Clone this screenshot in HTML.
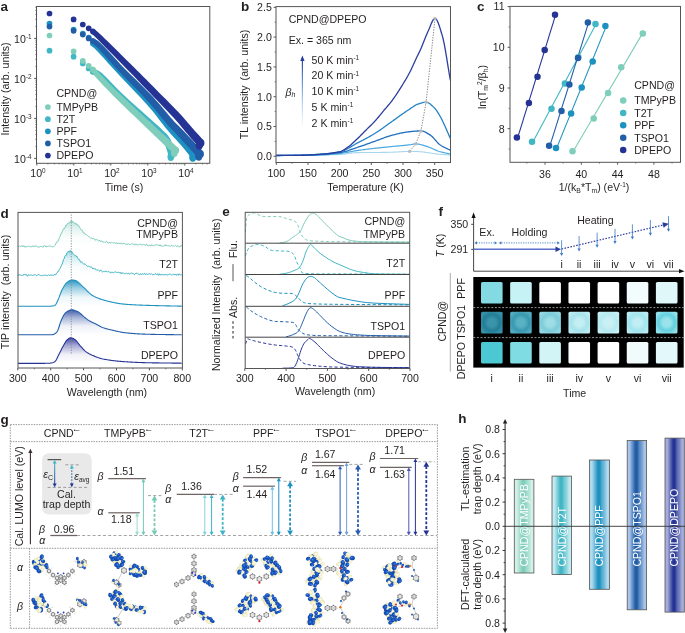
<!DOCTYPE html>
<html><head><meta charset="utf-8"><style>
html,body{margin:0;padding:0;background:#fff;}
svg{display:block;will-change:transform;font-family:"Liberation Sans", sans-serif;}
</style></head><body>
<svg width="685" height="633" viewBox="0 0 685 633">
<defs><linearGradient id="barr" x1="0" y1="1" x2="0" y2="0"><stop offset="0" stop-color="#fff"/><stop offset="0.35" stop-color="#b8d4f0"/><stop offset="0.65" stop-color="#6a98d8"/><stop offset="1" stop-color="#2b3d9e"/></linearGradient><linearGradient id="gd0" gradientUnits="userSpaceOnUse" x1="0" y1="221.6" x2="0" y2="246.4"><stop offset="0" stop-color="#7fcdbb" stop-opacity="0.5"/><stop offset="0.3" stop-color="#7fcdbb" stop-opacity="0.2"/><stop offset="0.65" stop-color="#7fcdbb" stop-opacity="0.04"/><stop offset="1" stop-color="#7fcdbb" stop-opacity="0"/></linearGradient><linearGradient id="gd1" gradientUnits="userSpaceOnUse" x1="0" y1="251.3" x2="0" y2="275"><stop offset="0" stop-color="#41b6c4" stop-opacity="0.5"/><stop offset="0.3" stop-color="#41b6c4" stop-opacity="0.2"/><stop offset="0.65" stop-color="#41b6c4" stop-opacity="0.04"/><stop offset="1" stop-color="#41b6c4" stop-opacity="0"/></linearGradient><linearGradient id="gd2" gradientUnits="userSpaceOnUse" x1="0" y1="279.9" x2="0" y2="306.3"><stop offset="0" stop-color="#1d91c0" stop-opacity="0.95"/><stop offset="0.3" stop-color="#1d91c0" stop-opacity="0.45"/><stop offset="0.65" stop-color="#1d91c0" stop-opacity="0.08"/><stop offset="1" stop-color="#1d91c0" stop-opacity="0"/></linearGradient><linearGradient id="gd3" gradientUnits="userSpaceOnUse" x1="0" y1="309.8" x2="0" y2="334.8"><stop offset="0" stop-color="#3553a8" stop-opacity="0.95"/><stop offset="0.3" stop-color="#3553a8" stop-opacity="0.45"/><stop offset="0.65" stop-color="#3553a8" stop-opacity="0.08"/><stop offset="1" stop-color="#3553a8" stop-opacity="0"/></linearGradient><linearGradient id="gd4" gradientUnits="userSpaceOnUse" x1="0" y1="337.8" x2="0" y2="363.2"><stop offset="0" stop-color="#3a3f9e" stop-opacity="0.95"/><stop offset="0.3" stop-color="#3a3f9e" stop-opacity="0.45"/><stop offset="0.65" stop-color="#3a3f9e" stop-opacity="0.08"/><stop offset="1" stop-color="#3a3f9e" stop-opacity="0"/></linearGradient><radialGradient id="gt0" cx="0.5" cy="0.5" r="0.7"><stop offset="0" stop-color="#3a95ab"/><stop offset="0.25" stop-color="#3a95ab"/><stop offset="0.55" stop-color="#237d96"/><stop offset="0.8" stop-color="#3590a8"/><stop offset="1" stop-color="#3590a8"/></radialGradient><radialGradient id="gt1" cx="0.5" cy="0.5" r="0.7"><stop offset="0" stop-color="#58b2c4"/><stop offset="0.25" stop-color="#58b2c4"/><stop offset="0.55" stop-color="#3898b0"/><stop offset="0.8" stop-color="#52abbf"/><stop offset="1" stop-color="#52abbf"/></radialGradient><radialGradient id="gt2" cx="0.5" cy="0.5" r="0.7"><stop offset="0" stop-color="#9edde6"/><stop offset="0.25" stop-color="#9edde6"/><stop offset="0.55" stop-color="#7dccd9"/><stop offset="0.8" stop-color="#92d6e1"/><stop offset="1" stop-color="#92d6e1"/></radialGradient><radialGradient id="gt3" cx="0.5" cy="0.5" r="0.7"><stop offset="0" stop-color="#c4eef3"/><stop offset="0.25" stop-color="#c4eef3"/><stop offset="0.55" stop-color="#a6e3eb"/><stop offset="0.8" stop-color="#bdebf1"/><stop offset="1" stop-color="#bdebf1"/></radialGradient><radialGradient id="gt4" cx="0.5" cy="0.5" r="0.7"><stop offset="0" stop-color="#cbf0f4"/><stop offset="0.25" stop-color="#cbf0f4"/><stop offset="0.55" stop-color="#b5eaf0"/><stop offset="0.8" stop-color="#c4eff3"/><stop offset="1" stop-color="#c4eff3"/></radialGradient><radialGradient id="gt5" cx="0.5" cy="0.5" r="0.7"><stop offset="0" stop-color="#c0eef3"/><stop offset="0.25" stop-color="#c0eef3"/><stop offset="0.55" stop-color="#a0e5ee"/><stop offset="0.8" stop-color="#b8ecf2"/><stop offset="1" stop-color="#b8ecf2"/></radialGradient><radialGradient id="gt6" cx="0.5" cy="0.5" r="0.7"><stop offset="0" stop-color="#9ae3eb"/><stop offset="0.25" stop-color="#9ae3eb"/><stop offset="0.55" stop-color="#62d0de"/><stop offset="0.8" stop-color="#90e0e9"/><stop offset="1" stop-color="#90e0e9"/></radialGradient><linearGradient id="ga" x1="0" y1="0" x2="0" y2="1"><stop offset="0" stop-color="#41b6c4"/><stop offset="1" stop-color="#253494"/></linearGradient><radialGradient id="gb" cx="0.5" cy="0.5" r="0.6" fx="0.35" fy="0.3"><stop offset="0" stop-color="#4a88e8"/><stop offset="0.45" stop-color="#1656c4"/><stop offset="1" stop-color="#0e3f98"/></radialGradient><radialGradient id="gy" cx="0.5" cy="0.5" r="0.6" fx="0.35" fy="0.3"><stop offset="0" stop-color="#fffff4"/><stop offset="0.5" stop-color="#f3f0cc"/><stop offset="1" stop-color="#dcd6a4"/></radialGradient><linearGradient id="gh0" x1="0" y1="0" x2="1" y2="0"><stop offset="0" stop-color="#d4f0e7"/><stop offset="0.12" stop-color="#d4f0e7"/><stop offset="0.42" stop-color="#7fcdbb"/><stop offset="0.52" stop-color="#7fcdbb"/><stop offset="0.62" stop-color="#7fcdbb" stop-opacity="0.75"/><stop offset="0.88" stop-color="#d4f0e7"/><stop offset="1" stop-color="#d4f0e7"/></linearGradient><linearGradient id="gh1" x1="0" y1="0" x2="1" y2="0"><stop offset="0" stop-color="#c2eaf0"/><stop offset="0.12" stop-color="#c2eaf0"/><stop offset="0.42" stop-color="#41b6c4"/><stop offset="0.52" stop-color="#41b6c4"/><stop offset="0.62" stop-color="#41b6c4" stop-opacity="0.75"/><stop offset="0.88" stop-color="#c2eaf0"/><stop offset="1" stop-color="#c2eaf0"/></linearGradient><linearGradient id="gh2" x1="0" y1="0" x2="1" y2="0"><stop offset="0" stop-color="#b0daf0"/><stop offset="0.12" stop-color="#b0daf0"/><stop offset="0.42" stop-color="#1d91c0"/><stop offset="0.52" stop-color="#1d91c0"/><stop offset="0.62" stop-color="#1d91c0" stop-opacity="0.75"/><stop offset="0.88" stop-color="#b0daf0"/><stop offset="1" stop-color="#b0daf0"/></linearGradient><linearGradient id="gh3" x1="0" y1="0" x2="1" y2="0"><stop offset="0" stop-color="#a8c4e8"/><stop offset="0.12" stop-color="#a8c4e8"/><stop offset="0.42" stop-color="#225ea8"/><stop offset="0.52" stop-color="#225ea8"/><stop offset="0.62" stop-color="#225ea8" stop-opacity="0.75"/><stop offset="0.88" stop-color="#a8c4e8"/><stop offset="1" stop-color="#a8c4e8"/></linearGradient><linearGradient id="gh4" x1="0" y1="0" x2="1" y2="0"><stop offset="0" stop-color="#a7aedc"/><stop offset="0.12" stop-color="#a7aedc"/><stop offset="0.42" stop-color="#253494"/><stop offset="0.52" stop-color="#253494"/><stop offset="0.62" stop-color="#253494" stop-opacity="0.75"/><stop offset="0.88" stop-color="#a7aedc"/><stop offset="1" stop-color="#a7aedc"/></linearGradient></defs>
<rect width="685" height="633" fill="#fff"/>
<text x="0.5" y="11" font-size="13.5" text-anchor="start" fill="#231f20" font-weight="bold">a</text>
<circle cx="49.5" cy="50.7" r="2.85" fill="#41b6c4" />
<circle cx="73.6" cy="56.7" r="2.85" fill="#41b6c4" />
<circle cx="82.8" cy="63.5" r="2.85" fill="#41b6c4" />
<circle cx="88.7" cy="68.5" r="2.85" fill="#41b6c4" />
<circle cx="49.5" cy="35.5" r="2.85" fill="#7fcdbb" />
<circle cx="73.6" cy="51.4" r="2.85" fill="#7fcdbb" />
<circle cx="82.8" cy="60.9" r="2.85" fill="#7fcdbb" />
<circle cx="88.7" cy="65.8" r="2.85" fill="#7fcdbb" />
<circle cx="49.5" cy="23.5" r="2.85" fill="#1d91c0" />
<circle cx="73.6" cy="29.5" r="2.85" fill="#1d91c0" />
<circle cx="82.8" cy="33.5" r="2.85" fill="#1d91c0" />
<circle cx="88.7" cy="37.5" r="2.85" fill="#1d91c0" />
<circle cx="49.5" cy="26.6" r="2.85" fill="#225ea8" />
<circle cx="73.6" cy="30.8" r="2.85" fill="#225ea8" />
<circle cx="82.8" cy="34.6" r="2.85" fill="#225ea8" />
<circle cx="88.7" cy="38.4" r="2.85" fill="#225ea8" />
<circle cx="49.5" cy="13.5" r="2.85" fill="#253494" />
<circle cx="73.6" cy="19.4" r="2.85" fill="#253494" />
<circle cx="82.8" cy="24.5" r="2.85" fill="#253494" />
<circle cx="88.7" cy="28.3" r="2.85" fill="#253494" />
<path d="M92.08,74.6 L92.81,74.79 L93.6,74.87 L94.11,74.89 L94.52,74.95 L95.04,75.12 L95.79,75.49 L96.83,76.17 L98.19,77.29 L99.92,78.91 L101.98,81 L104.29,83.44 L106.8,86.13 L109.47,89 L112.24,91.95 L115.07,94.9 L117.91,97.75 L120.87,100.62 L124.04,103.64 L127.34,106.73 L130.69,109.84 L133.99,112.9 L137.16,115.83 L140.12,118.56 L142.77,121.03 L145.17,123.26 L147.39,125.32 L149.44,127.21 L151.34,128.95 L153.09,130.57 L154.7,132.08 L156.18,133.51 L157.57,134.89 L158.84,136.15 L159.93,137.22 L160.82,138.1 L161.55,138.85 L162.15,139.54 L162.69,140.26 L163.25,141.11 L163.84,142.16 L164.49,143.51 L165.16,145.2 L165.85,147.12 L166.52,149.13 L167.14,151.1 L167.7,152.92 L168.18,154.49 L168.56,155.64 L175.44,153.36 L175.07,152.27 L174.6,150.77 L174.02,148.93 L173.36,146.89 L172.63,144.75 L171.85,142.63 L171.02,140.62 L170.16,138.84 L169.3,137.38 L168.46,136.13 L167.6,135.03 L166.7,134.03 L165.78,133.1 L164.79,132.16 L163.7,131.14 L162.43,129.91 L160.97,128.51 L159.4,127.05 L157.71,125.52 L155.91,123.91 L153.98,122.19 L151.89,120.34 L149.65,118.34 L147.23,116.17 L144.52,113.73 L141.51,111.04 L138.28,108.17 L134.94,105.18 L131.55,102.14 L128.22,99.13 L125.04,96.2 L122.09,93.45 L119.28,90.72 L116.46,87.88 L113.67,85.01 L110.97,82.19 L108.39,79.52 L105.99,77.06 L103.78,74.9 L101.81,73.11 L100.05,71.74 L98.47,70.74 L97.05,70.08 L95.78,69.7 L94.71,69.53 L93.98,69.48 L93.73,69.47 L93.52,69.4 Z" stroke="none" fill="#41b6c4" stroke-width="1" />
<circle cx="92.8" cy="72" r="2.8" fill="#41b6c4" />
<circle cx="172" cy="154.5" r="3.62" fill="#41b6c4" />
<ellipse cx="170.8" cy="156.7" rx="3.32" ry="4.22" fill="#41b6c4"/>
<path d="M90.72,71.12 L91.17,71.66 L91.68,72.3 L92.3,73.09 L93.06,74.04 L93.98,75.16 L95.09,76.46 L96.41,77.97 L97.99,79.69 L99.84,81.67 L101.96,83.93 L104.3,86.4 L106.84,89.05 L109.51,91.82 L112.27,94.66 L115.08,97.52 L117.9,100.35 L120.85,103.25 L124.02,106.32 L127.31,109.49 L130.66,112.69 L133.96,115.83 L137.13,118.85 L140.08,121.66 L142.74,124.2 L145.06,126.44 L147.13,128.44 L149.01,130.25 L150.76,131.93 L152.43,133.55 L154.09,135.15 L155.8,136.79 L157.62,138.53 L159.62,140.45 L161.79,142.52 L164.03,144.65 L166.24,146.76 L168.34,148.75 L170.22,150.54 L171.81,152.05 L173,153.18 L178,147.82 L176.79,146.71 L175.18,145.23 L173.26,143.47 L171.13,141.52 L168.89,139.45 L166.62,137.37 L164.42,135.34 L162.38,133.47 L160.54,131.76 L158.81,130.15 L157.13,128.59 L155.43,127 L153.66,125.35 L151.75,123.57 L149.64,121.61 L147.26,119.4 L144.56,116.89 L141.54,114.13 L138.32,111.16 L134.97,108.09 L131.58,104.96 L128.25,101.87 L125.06,98.87 L122.1,96.05 L119.26,93.31 L116.43,90.52 L113.64,87.75 L110.94,85.05 L108.38,82.46 L106.01,80.04 L103.87,77.83 L102.01,75.91 L100.46,74.27 L99.18,72.86 L98.11,71.65 L97.24,70.61 L96.52,69.72 L95.91,68.95 L95.37,68.27 L94.88,67.68 Z" stroke="none" fill="#7fcdbb" stroke-width="1" />
<circle cx="92.8" cy="69.4" r="2.8" fill="#7fcdbb" />
<circle cx="175.5" cy="150.5" r="3.67" fill="#7fcdbb" />
<ellipse cx="174.3" cy="152.7" rx="3.37" ry="4.27" fill="#7fcdbb"/>
<path d="M91.04,45.55 L91.56,45.99 L92.14,46.46 L92.77,46.96 L93.5,47.56 L94.35,48.32 L95.37,49.26 L96.58,50.45 L98.02,51.92 L99.66,53.67 L101.47,55.65 L103.45,57.85 L105.62,60.27 L107.99,62.9 L110.55,65.74 L113.33,68.79 L116.33,72.05 L119.71,75.65 L123.53,79.67 L127.63,83.97 L131.88,88.42 L136.13,92.91 L140.25,97.29 L144.09,101.45 L147.5,105.24 L150.51,108.74 L153.28,112.09 L155.86,115.33 L158.29,118.44 L160.6,121.44 L162.84,124.34 L165.05,127.14 L167.26,129.83 L169.43,132.38 L171.53,134.77 L173.55,137.01 L175.48,139.12 L177.32,141.11 L179.04,142.99 L180.66,144.78 L182.16,146.49 L183.58,148.17 L184.95,149.83 L186.24,151.43 L187.44,152.94 L188.53,154.33 L189.49,155.56 L190.32,156.61 L190.97,157.44 L197.03,152.56 L196.38,151.77 L195.56,150.75 L194.57,149.52 L193.44,148.12 L192.18,146.59 L190.82,144.96 L189.37,143.26 L187.84,141.51 L186.24,139.73 L184.54,137.91 L182.75,136.03 L180.89,134.07 L178.96,132.02 L176.95,129.87 L174.88,127.59 L172.74,125.17 L170.59,122.62 L168.4,119.93 L166.14,117.1 L163.78,114.12 L161.26,111 L158.57,107.73 L155.66,104.31 L152.5,100.76 L148.96,96.94 L145,92.79 L140.78,88.45 L136.43,84.01 L132.1,79.62 L127.94,75.4 L124.08,71.47 L120.67,67.95 L117.64,64.78 L114.84,61.8 L112.24,59.01 L109.84,56.42 L107.62,54.03 L105.58,51.84 L103.71,49.86 L101.98,48.08 L100.44,46.55 L99.1,45.28 L97.96,44.26 L96.99,43.44 L96.18,42.77 L95.52,42.24 L95,41.83 L94.56,41.45 Z" stroke="none" fill="#1d91c0" stroke-width="1" />
<circle cx="92.8" cy="43.5" r="2.8" fill="#1d91c0" />
<circle cx="194" cy="155" r="3.89" fill="#1d91c0" />
<ellipse cx="192.8" cy="157.2" rx="3.59" ry="4.49" fill="#1d91c0"/>
<path d="M91.31,43.15 L91.88,43.52 L92.5,43.86 L93.02,44.13 L93.59,44.45 L94.31,44.95 L95.26,45.71 L96.49,46.82 L98.05,48.35 L99.96,50.36 L102.21,52.82 L104.72,55.62 L107.46,58.69 L110.36,61.95 L113.39,65.32 L116.49,68.73 L119.62,72.09 L122.89,75.51 L126.4,79.11 L130.05,82.81 L133.76,86.56 L137.45,90.31 L141.04,93.98 L144.42,97.53 L147.53,100.88 L150.44,104.15 L153.27,107.46 L155.99,110.73 L158.6,113.92 L161.05,116.96 L163.33,119.79 L165.42,122.34 L167.28,124.56 L168.74,126.23 L169.75,127.36 L170.49,128.14 L171.09,128.72 L171.62,129.23 L172.29,129.88 L173.29,130.91 L174.82,132.54 L177.04,134.93 L179.86,137.99 L183.06,141.46 L186.42,145.11 L189.73,148.69 L192.75,151.98 L195.29,154.73 L197.11,156.71 L202.89,151.29 L201.04,149.35 L198.46,146.64 L195.38,143.4 L192.01,139.87 L188.59,136.28 L185.33,132.86 L182.46,129.84 L180.18,127.46 L178.57,125.8 L177.44,124.68 L176.65,123.94 L176.1,123.43 L175.64,123 L175.05,122.4 L174.13,121.41 L172.72,119.84 L170.89,117.74 L168.81,115.27 L166.5,112.49 L163.99,109.48 L161.31,106.29 L158.47,102.99 L155.52,99.64 L152.47,96.32 L149.22,92.93 L145.72,89.39 L142.04,85.74 L138.26,82.04 L134.49,78.35 L130.79,74.72 L127.26,71.23 L123.98,67.91 L120.85,64.65 L117.73,61.33 L114.67,58.03 L111.72,54.83 L108.93,51.79 L106.34,49.01 L104,46.54 L101.95,44.45 L100.22,42.8 L98.75,41.53 L97.52,40.59 L96.49,39.9 L95.64,39.4 L95.01,39.07 L94.63,38.88 L94.29,38.65 Z" stroke="none" fill="#225ea8" stroke-width="1" />
<circle cx="92.8" cy="40.9" r="2.8" fill="#225ea8" />
<circle cx="200" cy="154" r="3.96" fill="#225ea8" />
<ellipse cx="198.8" cy="156.2" rx="3.66" ry="4.56" fill="#225ea8"/>
<path d="M91.08,33.48 L91.54,33.86 L91.96,34.16 L92.28,34.38 L92.69,34.69 L93.37,35.26 L94.43,36.23 L95.96,37.7 L98.07,39.77 L100.96,42.67 L104.63,46.38 L108.83,50.65 L113.35,55.24 L117.96,59.94 L122.41,64.48 L126.49,68.66 L129.97,72.22 L132.79,75.12 L135.18,77.58 L137.25,79.73 L139.15,81.71 L141,83.65 L142.93,85.68 L145.09,87.93 L147.6,90.55 L150.53,93.6 L153.8,96.98 L157.28,100.58 L160.84,104.26 L164.36,107.92 L167.72,111.43 L170.78,114.67 L173.41,117.51 L175.61,119.94 L177.49,122.08 L179.11,124 L180.57,125.77 L181.93,127.44 L183.26,129.09 L184.63,130.76 L186.11,132.51 L187.69,134.35 L189.34,136.25 L191.01,138.17 L192.63,140.03 L194.16,141.77 L195.52,143.33 L196.67,144.64 L197.53,145.63 L203.47,140.37 L202.58,139.38 L201.41,138.09 L200.02,136.56 L198.48,134.84 L196.83,133.02 L195.14,131.14 L193.47,129.27 L191.89,127.49 L190.45,125.84 L189.11,124.25 L187.76,122.64 L186.35,120.96 L184.82,119.15 L183.09,117.17 L181.1,114.97 L178.79,112.49 L176.05,109.64 L172.9,106.42 L169.47,102.95 L165.87,99.34 L162.24,95.7 L158.7,92.16 L155.38,88.84 L152.4,85.85 L149.86,83.29 L147.67,81.07 L145.7,79.08 L143.82,77.17 L141.88,75.21 L139.76,73.08 L137.32,70.65 L134.43,67.78 L130.89,64.28 L126.74,60.17 L122.21,55.7 L117.52,51.08 L112.92,46.56 L108.63,42.35 L104.89,38.7 L101.93,35.83 L99.74,33.75 L98.11,32.24 L96.93,31.19 L96.08,30.49 L95.47,30.02 L95.05,29.73 L94.83,29.58 L94.52,29.32 Z" stroke="none" fill="#253494" stroke-width="1" />
<circle cx="92.8" cy="31.4" r="2.8" fill="#253494" />
<circle cx="200.5" cy="143" r="3.97" fill="#253494" />
<ellipse cx="199.3" cy="145.2" rx="3.67" ry="4.57" fill="#253494"/>
<rect x="36.5" y="6.5" width="173.3" height="156.8" fill="none" stroke="#555" stroke-width="1" />
<line x1="34.1" y1="38.4" x2="36.5" y2="38.4" stroke="#555" stroke-width="1" />
<text x="31.6" y="43" font-size="10.6" text-anchor="end" fill="#231f20" >10<tspan font-size="6.4" dy="-3.9">-1</tspan></text>
<line x1="35.3" y1="26.36" x2="36.5" y2="26.36" stroke="#555" stroke-width="0.7" />
<line x1="35.3" y1="19.32" x2="36.5" y2="19.32" stroke="#555" stroke-width="0.7" />
<line x1="35.3" y1="14.32" x2="36.5" y2="14.32" stroke="#555" stroke-width="0.7" />
<line x1="35.3" y1="10.44" x2="36.5" y2="10.44" stroke="#555" stroke-width="0.7" />
<line x1="35.3" y1="7.27" x2="36.5" y2="7.27" stroke="#555" stroke-width="0.7" />
<line x1="34.1" y1="78.4" x2="36.5" y2="78.4" stroke="#555" stroke-width="1" />
<text x="31.6" y="83" font-size="10.6" text-anchor="end" fill="#231f20" >10<tspan font-size="6.4" dy="-3.9">-2</tspan></text>
<line x1="35.3" y1="66.36" x2="36.5" y2="66.36" stroke="#555" stroke-width="0.7" />
<line x1="35.3" y1="59.32" x2="36.5" y2="59.32" stroke="#555" stroke-width="0.7" />
<line x1="35.3" y1="54.32" x2="36.5" y2="54.32" stroke="#555" stroke-width="0.7" />
<line x1="35.3" y1="50.44" x2="36.5" y2="50.44" stroke="#555" stroke-width="0.7" />
<line x1="35.3" y1="47.27" x2="36.5" y2="47.27" stroke="#555" stroke-width="0.7" />
<line x1="35.3" y1="44.6" x2="36.5" y2="44.6" stroke="#555" stroke-width="0.7" />
<line x1="35.3" y1="42.28" x2="36.5" y2="42.28" stroke="#555" stroke-width="0.7" />
<line x1="35.3" y1="40.23" x2="36.5" y2="40.23" stroke="#555" stroke-width="0.7" />
<line x1="34.1" y1="118.4" x2="36.5" y2="118.4" stroke="#555" stroke-width="1" />
<text x="31.6" y="123" font-size="10.6" text-anchor="end" fill="#231f20" >10<tspan font-size="6.4" dy="-3.9">-3</tspan></text>
<line x1="35.3" y1="106.36" x2="36.5" y2="106.36" stroke="#555" stroke-width="0.7" />
<line x1="35.3" y1="99.32" x2="36.5" y2="99.32" stroke="#555" stroke-width="0.7" />
<line x1="35.3" y1="94.32" x2="36.5" y2="94.32" stroke="#555" stroke-width="0.7" />
<line x1="35.3" y1="90.44" x2="36.5" y2="90.44" stroke="#555" stroke-width="0.7" />
<line x1="35.3" y1="87.27" x2="36.5" y2="87.27" stroke="#555" stroke-width="0.7" />
<line x1="35.3" y1="84.6" x2="36.5" y2="84.6" stroke="#555" stroke-width="0.7" />
<line x1="35.3" y1="82.28" x2="36.5" y2="82.28" stroke="#555" stroke-width="0.7" />
<line x1="35.3" y1="80.23" x2="36.5" y2="80.23" stroke="#555" stroke-width="0.7" />
<line x1="34.1" y1="158.4" x2="36.5" y2="158.4" stroke="#555" stroke-width="1" />
<text x="31.6" y="163" font-size="10.6" text-anchor="end" fill="#231f20" >10<tspan font-size="6.4" dy="-3.9">-4</tspan></text>
<line x1="35.3" y1="146.36" x2="36.5" y2="146.36" stroke="#555" stroke-width="0.7" />
<line x1="35.3" y1="139.32" x2="36.5" y2="139.32" stroke="#555" stroke-width="0.7" />
<line x1="35.3" y1="134.32" x2="36.5" y2="134.32" stroke="#555" stroke-width="0.7" />
<line x1="35.3" y1="130.44" x2="36.5" y2="130.44" stroke="#555" stroke-width="0.7" />
<line x1="35.3" y1="127.27" x2="36.5" y2="127.27" stroke="#555" stroke-width="0.7" />
<line x1="35.3" y1="124.6" x2="36.5" y2="124.6" stroke="#555" stroke-width="0.7" />
<line x1="35.3" y1="122.28" x2="36.5" y2="122.28" stroke="#555" stroke-width="0.7" />
<line x1="35.3" y1="120.23" x2="36.5" y2="120.23" stroke="#555" stroke-width="0.7" />
<line x1="36.8" y1="163.3" x2="36.8" y2="165.5" stroke="#555" stroke-width="1" />
<text x="38" y="177" font-size="10.6" text-anchor="middle" fill="#231f20" >10<tspan font-size="6.4" dy="-3.9">0</tspan></text>
<line x1="47.94" y1="163.3" x2="47.94" y2="164.5" stroke="#555" stroke-width="0.7" />
<line x1="54.45" y1="163.3" x2="54.45" y2="164.5" stroke="#555" stroke-width="0.7" />
<line x1="59.08" y1="163.3" x2="59.08" y2="164.5" stroke="#555" stroke-width="0.7" />
<line x1="62.66" y1="163.3" x2="62.66" y2="164.5" stroke="#555" stroke-width="0.7" />
<line x1="65.59" y1="163.3" x2="65.59" y2="164.5" stroke="#555" stroke-width="0.7" />
<line x1="68.07" y1="163.3" x2="68.07" y2="164.5" stroke="#555" stroke-width="0.7" />
<line x1="70.21" y1="163.3" x2="70.21" y2="164.5" stroke="#555" stroke-width="0.7" />
<line x1="72.11" y1="163.3" x2="72.11" y2="164.5" stroke="#555" stroke-width="0.7" />
<line x1="73.8" y1="163.3" x2="73.8" y2="165.5" stroke="#555" stroke-width="1" />
<text x="75" y="177" font-size="10.6" text-anchor="middle" fill="#231f20" >10<tspan font-size="6.4" dy="-3.9">1</tspan></text>
<line x1="84.94" y1="163.3" x2="84.94" y2="164.5" stroke="#555" stroke-width="0.7" />
<line x1="91.45" y1="163.3" x2="91.45" y2="164.5" stroke="#555" stroke-width="0.7" />
<line x1="96.08" y1="163.3" x2="96.08" y2="164.5" stroke="#555" stroke-width="0.7" />
<line x1="99.66" y1="163.3" x2="99.66" y2="164.5" stroke="#555" stroke-width="0.7" />
<line x1="102.59" y1="163.3" x2="102.59" y2="164.5" stroke="#555" stroke-width="0.7" />
<line x1="105.07" y1="163.3" x2="105.07" y2="164.5" stroke="#555" stroke-width="0.7" />
<line x1="107.21" y1="163.3" x2="107.21" y2="164.5" stroke="#555" stroke-width="0.7" />
<line x1="109.11" y1="163.3" x2="109.11" y2="164.5" stroke="#555" stroke-width="0.7" />
<line x1="110.8" y1="163.3" x2="110.8" y2="165.5" stroke="#555" stroke-width="1" />
<text x="112" y="177" font-size="10.6" text-anchor="middle" fill="#231f20" >10<tspan font-size="6.4" dy="-3.9">2</tspan></text>
<line x1="121.94" y1="163.3" x2="121.94" y2="164.5" stroke="#555" stroke-width="0.7" />
<line x1="128.45" y1="163.3" x2="128.45" y2="164.5" stroke="#555" stroke-width="0.7" />
<line x1="133.08" y1="163.3" x2="133.08" y2="164.5" stroke="#555" stroke-width="0.7" />
<line x1="136.66" y1="163.3" x2="136.66" y2="164.5" stroke="#555" stroke-width="0.7" />
<line x1="139.59" y1="163.3" x2="139.59" y2="164.5" stroke="#555" stroke-width="0.7" />
<line x1="142.07" y1="163.3" x2="142.07" y2="164.5" stroke="#555" stroke-width="0.7" />
<line x1="144.21" y1="163.3" x2="144.21" y2="164.5" stroke="#555" stroke-width="0.7" />
<line x1="146.11" y1="163.3" x2="146.11" y2="164.5" stroke="#555" stroke-width="0.7" />
<line x1="147.8" y1="163.3" x2="147.8" y2="165.5" stroke="#555" stroke-width="1" />
<text x="149" y="177" font-size="10.6" text-anchor="middle" fill="#231f20" >10<tspan font-size="6.4" dy="-3.9">3</tspan></text>
<line x1="158.94" y1="163.3" x2="158.94" y2="164.5" stroke="#555" stroke-width="0.7" />
<line x1="165.45" y1="163.3" x2="165.45" y2="164.5" stroke="#555" stroke-width="0.7" />
<line x1="170.08" y1="163.3" x2="170.08" y2="164.5" stroke="#555" stroke-width="0.7" />
<line x1="173.66" y1="163.3" x2="173.66" y2="164.5" stroke="#555" stroke-width="0.7" />
<line x1="176.59" y1="163.3" x2="176.59" y2="164.5" stroke="#555" stroke-width="0.7" />
<line x1="179.07" y1="163.3" x2="179.07" y2="164.5" stroke="#555" stroke-width="0.7" />
<line x1="181.21" y1="163.3" x2="181.21" y2="164.5" stroke="#555" stroke-width="0.7" />
<line x1="183.11" y1="163.3" x2="183.11" y2="164.5" stroke="#555" stroke-width="0.7" />
<line x1="184.8" y1="163.3" x2="184.8" y2="165.5" stroke="#555" stroke-width="1" />
<text x="186" y="177" font-size="10.6" text-anchor="middle" fill="#231f20" >10<tspan font-size="6.4" dy="-3.9">4</tspan></text>
<line x1="195.94" y1="163.3" x2="195.94" y2="164.5" stroke="#555" stroke-width="0.7" />
<line x1="202.45" y1="163.3" x2="202.45" y2="164.5" stroke="#555" stroke-width="0.7" />
<line x1="207.08" y1="163.3" x2="207.08" y2="164.5" stroke="#555" stroke-width="0.7" />
<text x="124" y="190.8" font-size="10.6" text-anchor="middle" fill="#231f20" >Time (s)</text>
<text transform="translate(8.6,89) rotate(-90)" font-size="10.6" text-anchor="middle" fill="#231f20" >Intensity (arb. units)</text>
<text x="56.4" y="96.7" font-size="10.6" text-anchor="start" fill="#231f20" >CPND@</text>
<circle cx="47.9" cy="107" r="2.85" fill="#7fcdbb" />
<text x="56.4" y="110.8" font-size="10.6" text-anchor="start" fill="#231f20" >TMPyPB</text>
<circle cx="47.9" cy="119.15" r="2.85" fill="#41b6c4" />
<text x="56.4" y="122.95" font-size="10.6" text-anchor="start" fill="#231f20" >T2T</text>
<circle cx="47.9" cy="131.3" r="2.85" fill="#1d91c0" />
<text x="56.4" y="135.1" font-size="10.6" text-anchor="start" fill="#231f20" >PPF</text>
<circle cx="47.9" cy="143.45" r="2.85" fill="#225ea8" />
<text x="56.4" y="147.25" font-size="10.6" text-anchor="start" fill="#231f20" >TSPO1</text>
<circle cx="47.9" cy="155.6" r="2.85" fill="#253494" />
<text x="56.4" y="159.4" font-size="10.6" text-anchor="start" fill="#231f20" >DPEPO</text>
<text x="241" y="11" font-size="13.5" text-anchor="start" fill="#231f20" font-weight="bold">b</text>
<line x1="273.6" y1="156.3" x2="276" y2="156.3" stroke="#555" stroke-width="1" />
<text x="271.8" y="160.1" font-size="10.6" text-anchor="end" fill="#231f20" >0.0</text>
<line x1="274.7" y1="141.4" x2="276" y2="141.4" stroke="#555" stroke-width="0.8" />
<line x1="273.6" y1="126.5" x2="276" y2="126.5" stroke="#555" stroke-width="1" />
<text x="271.8" y="130.3" font-size="10.6" text-anchor="end" fill="#231f20" >0.5</text>
<line x1="274.7" y1="111.6" x2="276" y2="111.6" stroke="#555" stroke-width="0.8" />
<line x1="273.6" y1="96.7" x2="276" y2="96.7" stroke="#555" stroke-width="1" />
<text x="271.8" y="100.5" font-size="10.6" text-anchor="end" fill="#231f20" >1.0</text>
<line x1="274.7" y1="81.8" x2="276" y2="81.8" stroke="#555" stroke-width="0.8" />
<line x1="273.6" y1="66.9" x2="276" y2="66.9" stroke="#555" stroke-width="1" />
<text x="271.8" y="70.7" font-size="10.6" text-anchor="end" fill="#231f20" >1.5</text>
<line x1="274.7" y1="52" x2="276" y2="52" stroke="#555" stroke-width="0.8" />
<line x1="273.6" y1="37.1" x2="276" y2="37.1" stroke="#555" stroke-width="1" />
<text x="271.8" y="40.9" font-size="10.6" text-anchor="end" fill="#231f20" >2.0</text>
<line x1="274.7" y1="22.2" x2="276" y2="22.2" stroke="#555" stroke-width="0.8" />
<line x1="273.6" y1="7.3" x2="276" y2="7.3" stroke="#555" stroke-width="1" />
<text x="271.8" y="11.1" font-size="10.6" text-anchor="end" fill="#231f20" >2.5</text>
<line x1="276.3" y1="162.5" x2="276.3" y2="164.9" stroke="#555" stroke-width="1" />
<text x="276.3" y="177.3" font-size="10.6" text-anchor="middle" fill="#231f20" >100</text>
<line x1="292.14" y1="162.5" x2="292.14" y2="163.8" stroke="#555" stroke-width="0.8" />
<line x1="307.98" y1="162.5" x2="307.98" y2="164.9" stroke="#555" stroke-width="1" />
<text x="307.98" y="177.3" font-size="10.6" text-anchor="middle" fill="#231f20" >150</text>
<line x1="323.81" y1="162.5" x2="323.81" y2="163.8" stroke="#555" stroke-width="0.8" />
<line x1="339.65" y1="162.5" x2="339.65" y2="164.9" stroke="#555" stroke-width="1" />
<text x="339.65" y="177.3" font-size="10.6" text-anchor="middle" fill="#231f20" >200</text>
<line x1="355.49" y1="162.5" x2="355.49" y2="163.8" stroke="#555" stroke-width="0.8" />
<line x1="371.32" y1="162.5" x2="371.32" y2="164.9" stroke="#555" stroke-width="1" />
<text x="371.32" y="177.3" font-size="10.6" text-anchor="middle" fill="#231f20" >250</text>
<line x1="387.16" y1="162.5" x2="387.16" y2="163.8" stroke="#555" stroke-width="0.8" />
<line x1="403" y1="162.5" x2="403" y2="164.9" stroke="#555" stroke-width="1" />
<text x="403" y="177.3" font-size="10.6" text-anchor="middle" fill="#231f20" >300</text>
<line x1="418.84" y1="162.5" x2="418.84" y2="163.8" stroke="#555" stroke-width="0.8" />
<line x1="434.68" y1="162.5" x2="434.68" y2="164.9" stroke="#555" stroke-width="1" />
<text x="434.68" y="177.3" font-size="10.6" text-anchor="middle" fill="#231f20" >350</text>
<text x="365.5" y="191" font-size="10.6" text-anchor="middle" fill="#231f20" >Temperature (K)</text>
<text transform="translate(248,84.5) rotate(-90)" font-size="10.6" text-anchor="middle" fill="#231f20" >TL intensity &#8201;(arb. units)</text>
<path d="M276.3,155.7 L277.1,155.69 L277.9,155.67 L278.7,155.66 L279.5,155.64 L280.3,155.63 L281.1,155.62 L281.9,155.6 L282.7,155.59 L283.5,155.58 L284.3,155.57 L285.1,155.55 L285.9,155.54 L286.7,155.53 L287.5,155.52 L288.3,155.51 L289.1,155.5 L289.9,155.49 L290.7,155.47 L291.5,155.46 L292.3,155.45 L293.1,155.44 L293.9,155.43 L294.7,155.42 L295.5,155.41 L296.3,155.4 L297.1,155.39 L297.9,155.38 L298.7,155.37 L299.5,155.36 L300.3,155.35 L301.1,155.34 L301.9,155.33 L302.7,155.32 L303.5,155.31 L304.3,155.3 L305.1,155.29 L305.9,155.28 L306.7,155.27 L307.5,155.25 L308.3,155.24 L309.1,155.23 L309.9,155.22 L310.7,155.21 L311.5,155.2 L312.3,155.18 L313.1,155.17 L313.9,155.16 L314.7,155.14 L315.5,155.13 L316.3,155.12 L317.1,155.1 L317.9,155.09 L318.7,155.07 L319.5,155.06 L320.3,155.04 L321.1,155.03 L321.9,155.01 L322.7,154.99 L323.5,154.98 L324.3,154.96 L325.1,154.94 L325.9,154.92 L326.7,154.9 L327.5,154.88 L328.3,154.86 L329.1,154.84 L329.9,154.82 L330.7,154.8 L331.5,154.78 L332.3,154.75 L333.1,154.73 L333.9,154.71 L334.7,154.68 L335.5,154.66 L336.3,154.63 L337.1,154.6 L337.9,154.58 L338.7,154.55 L339.5,154.52 L340.3,154.49 L341.1,154.44 L341.9,154.38 L342.7,154.31 L343.5,154.22 L344.3,154.13 L345.1,154.02 L345.9,153.91 L346.7,153.8 L347.5,153.68 L348.3,153.55 L349.1,153.43 L349.9,153.31 L350.7,153.2 L351.5,153.09 L352.3,152.98 L353.1,152.89 L353.9,152.8 L354.7,152.73 L355.5,152.67 L356.3,152.63 L357.1,152.6 L357.9,152.59 L358.7,152.59 L359.5,152.58 L360.3,152.57 L361.1,152.57 L361.9,152.56 L362.7,152.56 L363.5,152.56 L364.3,152.55 L365.1,152.55 L365.9,152.55 L366.7,152.54 L367.5,152.54 L368.3,152.54 L369.1,152.53 L369.9,152.53 L370.7,152.53 L371.5,152.52 L372.3,152.52 L373.1,152.51 L373.9,152.51 L374.7,152.5 L375.5,152.49 L376.3,152.49 L377.1,152.48 L377.9,152.47 L378.7,152.46 L379.5,152.45 L380.3,152.44 L381.1,152.42 L381.9,152.41 L382.7,152.4 L383.5,152.39 L384.3,152.37 L385.1,152.36 L385.9,152.34 L386.7,152.33 L387.5,152.31 L388.3,152.29 L389.1,152.27 L389.9,152.26 L390.7,152.24 L391.5,152.22 L392.3,152.2 L393.1,152.17 L393.9,152.14 L394.7,152.11 L395.5,152.07 L396.3,152.03 L397.1,151.98 L397.9,151.93 L398.7,151.88 L399.5,151.83 L400.3,151.78 L401.1,151.73 L401.9,151.68 L402.7,151.64 L403.5,151.59 L404.3,151.55 L405.1,151.51 L405.9,151.48 L406.7,151.45 L407.5,151.43 L408.3,151.41 L409.1,151.4 L409.9,151.4 L410.7,151.4 L411.5,151.41 L412.3,151.43 L413.1,151.44 L413.9,151.46 L414.7,151.49 L415.5,151.51 L416.3,151.54 L417.1,151.57 L417.9,151.6 L418.7,151.63 L419.5,151.68 L420.3,151.73 L421.1,151.8 L421.9,151.87 L422.7,151.96 L423.5,152.05 L424.3,152.15 L425.1,152.25 L425.9,152.36 L426.7,152.47 L427.5,152.59 L428.3,152.71 L429.1,152.83 L429.9,152.96 L430.7,153.08 L431.5,153.21 L432.3,153.33 L433.1,153.45 L433.9,153.57 L434.7,153.68 L435.5,153.79 L436.3,153.9 L437.1,154 L437.9,154.09 L438.7,154.18 L439.5,154.26 L440.3,154.32 L441.1,154.39 L441.9,154.45 L442.7,154.51 L443.5,154.56 L444.3,154.61 L445.1,154.67 L445.9,154.72 L446.7,154.77 L447.5,154.81 L448.3,154.86 L449.1,154.91 L449.9,154.97 L450.4,155" stroke="#a6d6f0" fill="none" stroke-width="1.1" stroke-linejoin="round"/>
<path d="M276.3,155.6 L277.1,155.59 L277.9,155.58 L278.7,155.57 L279.5,155.56 L280.3,155.55 L281.1,155.54 L281.9,155.53 L282.7,155.52 L283.5,155.51 L284.3,155.5 L285.1,155.5 L285.9,155.49 L286.7,155.48 L287.5,155.47 L288.3,155.46 L289.1,155.46 L289.9,155.45 L290.7,155.44 L291.5,155.43 L292.3,155.42 L293.1,155.42 L293.9,155.41 L294.7,155.4 L295.5,155.39 L296.3,155.38 L297.1,155.37 L297.9,155.37 L298.7,155.36 L299.5,155.35 L300.3,155.34 L301.1,155.33 L301.9,155.32 L302.7,155.31 L303.5,155.3 L304.3,155.29 L305.1,155.28 L305.9,155.27 L306.7,155.26 L307.5,155.25 L308.3,155.23 L309.1,155.22 L309.9,155.21 L310.7,155.19 L311.5,155.18 L312.3,155.17 L313.1,155.15 L313.9,155.14 L314.7,155.12 L315.5,155.1 L316.3,155.09 L317.1,155.07 L317.9,155.05 L318.7,155.03 L319.5,155.01 L320.3,154.99 L321.1,154.97 L321.9,154.94 L322.7,154.91 L323.5,154.87 L324.3,154.83 L325.1,154.79 L325.9,154.74 L326.7,154.69 L327.5,154.64 L328.3,154.58 L329.1,154.52 L329.9,154.46 L330.7,154.39 L331.5,154.33 L332.3,154.26 L333.1,154.19 L333.9,154.11 L334.7,154.04 L335.5,153.96 L336.3,153.88 L337.1,153.8 L337.9,153.72 L338.7,153.64 L339.5,153.55 L340.3,153.47 L341.1,153.37 L341.9,153.27 L342.7,153.15 L343.5,153.03 L344.3,152.9 L345.1,152.76 L345.9,152.62 L346.7,152.47 L347.5,152.32 L348.3,152.17 L349.1,152.01 L349.9,151.85 L350.7,151.69 L351.5,151.54 L352.3,151.38 L353.1,151.23 L353.9,151.08 L354.7,150.94 L355.5,150.8 L356.3,150.67 L357.1,150.54 L357.9,150.43 L358.7,150.31 L359.5,150.2 L360.3,150.09 L361.1,149.98 L361.9,149.87 L362.7,149.77 L363.5,149.66 L364.3,149.56 L365.1,149.46 L365.9,149.36 L366.7,149.26 L367.5,149.16 L368.3,149.06 L369.1,148.96 L369.9,148.87 L370.7,148.77 L371.5,148.68 L372.3,148.59 L373.1,148.49 L373.9,148.4 L374.7,148.31 L375.5,148.22 L376.3,148.13 L377.1,148.04 L377.9,147.96 L378.7,147.87 L379.5,147.79 L380.3,147.7 L381.1,147.62 L381.9,147.53 L382.7,147.45 L383.5,147.37 L384.3,147.29 L385.1,147.21 L385.9,147.13 L386.7,147.05 L387.5,146.97 L388.3,146.89 L389.1,146.81 L389.9,146.73 L390.7,146.65 L391.5,146.57 L392.3,146.49 L393.1,146.41 L393.9,146.33 L394.7,146.26 L395.5,146.18 L396.3,146.11 L397.1,146.04 L397.9,145.97 L398.7,145.89 L399.5,145.82 L400.3,145.75 L401.1,145.68 L401.9,145.6 L402.7,145.53 L403.5,145.45 L404.3,145.38 L405.1,145.3 L405.9,145.21 L406.7,145.13 L407.5,145.04 L408.3,144.95 L409.1,144.86 L409.9,144.76 L410.7,144.63 L411.5,144.48 L412.3,144.33 L413.1,144.17 L413.9,144.04 L414.7,143.95 L415.5,143.9 L416.3,143.91 L417.1,143.97 L417.9,144.06 L418.7,144.18 L419.5,144.34 L420.3,144.52 L421.1,144.72 L421.9,144.94 L422.7,145.18 L423.5,145.42 L424.3,145.67 L425.1,145.92 L425.9,146.17 L426.7,146.41 L427.5,146.65 L428.3,146.92 L429.1,147.21 L429.9,147.53 L430.7,147.86 L431.5,148.21 L432.3,148.57 L433.1,148.93 L433.9,149.3 L434.7,149.66 L435.5,150.02 L436.3,150.36 L437.1,150.69 L437.9,151 L438.7,151.29 L439.5,151.55 L440.3,151.78 L441.1,152 L441.9,152.2 L442.7,152.39 L443.5,152.57 L444.3,152.74 L445.1,152.91 L445.9,153.07 L446.7,153.23 L447.5,153.39 L448.3,153.56 L449.1,153.72 L449.9,153.89 L450.4,154" stroke="#4aa9e0" fill="none" stroke-width="1.2" stroke-linejoin="round"/>
<path d="M276.3,155.5 L277.1,155.49 L277.9,155.49 L278.7,155.48 L279.5,155.48 L280.3,155.47 L281.1,155.46 L281.9,155.46 L282.7,155.45 L283.5,155.45 L284.3,155.44 L285.1,155.44 L285.9,155.43 L286.7,155.43 L287.5,155.42 L288.3,155.42 L289.1,155.41 L289.9,155.4 L290.7,155.4 L291.5,155.39 L292.3,155.39 L293.1,155.38 L293.9,155.37 L294.7,155.36 L295.5,155.35 L296.3,155.35 L297.1,155.34 L297.9,155.33 L298.7,155.32 L299.5,155.31 L300.3,155.3 L301.1,155.28 L301.9,155.27 L302.7,155.25 L303.5,155.23 L304.3,155.21 L305.1,155.18 L305.9,155.16 L306.7,155.13 L307.5,155.1 L308.3,155.07 L309.1,155.04 L309.9,155.01 L310.7,154.98 L311.5,154.94 L312.3,154.9 L313.1,154.86 L313.9,154.83 L314.7,154.79 L315.5,154.74 L316.3,154.7 L317.1,154.66 L317.9,154.62 L318.7,154.57 L319.5,154.53 L320.3,154.48 L321.1,154.44 L321.9,154.39 L322.7,154.34 L323.5,154.29 L324.3,154.23 L325.1,154.17 L325.9,154.12 L326.7,154.05 L327.5,153.99 L328.3,153.92 L329.1,153.86 L329.9,153.78 L330.7,153.71 L331.5,153.63 L332.3,153.55 L333.1,153.47 L333.9,153.38 L334.7,153.29 L335.5,153.2 L336.3,153.1 L337.1,153 L337.9,152.89 L338.7,152.78 L339.5,152.67 L340.3,152.55 L341.1,152.42 L341.9,152.27 L342.7,152.1 L343.5,151.91 L344.3,151.71 L345.1,151.49 L345.9,151.26 L346.7,151.02 L347.5,150.77 L348.3,150.52 L349.1,150.25 L349.9,149.98 L350.7,149.71 L351.5,149.43 L352.3,149.15 L353.1,148.87 L353.9,148.59 L354.7,148.31 L355.5,148.03 L356.3,147.76 L357.1,147.5 L357.9,147.24 L358.7,146.98 L359.5,146.71 L360.3,146.44 L361.1,146.17 L361.9,145.89 L362.7,145.61 L363.5,145.33 L364.3,145.05 L365.1,144.77 L365.9,144.48 L366.7,144.2 L367.5,143.91 L368.3,143.62 L369.1,143.33 L369.9,143.05 L370.7,142.76 L371.5,142.47 L372.3,142.19 L373.1,141.9 L373.9,141.62 L374.7,141.34 L375.5,141.05 L376.3,140.76 L377.1,140.47 L377.9,140.17 L378.7,139.87 L379.5,139.56 L380.3,139.26 L381.1,138.95 L381.9,138.65 L382.7,138.34 L383.5,138.04 L384.3,137.75 L385.1,137.45 L385.9,137.17 L386.7,136.88 L387.5,136.61 L388.3,136.34 L389.1,136.09 L389.9,135.84 L390.7,135.61 L391.5,135.38 L392.3,135.17 L393.1,134.97 L393.9,134.77 L394.7,134.57 L395.5,134.37 L396.3,134.17 L397.1,133.98 L397.9,133.79 L398.7,133.6 L399.5,133.42 L400.3,133.24 L401.1,133.07 L401.9,132.91 L402.7,132.75 L403.5,132.59 L404.3,132.45 L405.1,132.31 L405.9,132.18 L406.7,132.06 L407.5,131.95 L408.3,131.85 L409.1,131.75 L409.9,131.67 L410.7,131.59 L411.5,131.51 L412.3,131.43 L413.1,131.35 L413.9,131.27 L414.7,131.2 L415.5,131.14 L416.3,131.08 L417.1,131.02 L417.9,130.98 L418.7,130.94 L419.5,130.92 L420.3,130.9 L421.1,130.9 L421.9,130.97 L422.7,131.13 L423.5,131.37 L424.3,131.67 L425.1,132.03 L425.9,132.44 L426.7,132.89 L427.5,133.37 L428.3,133.87 L429.1,134.38 L429.9,134.89 L430.7,135.4 L431.5,136.01 L432.3,136.73 L433.1,137.54 L433.9,138.41 L434.7,139.33 L435.5,140.27 L436.3,141.2 L437.1,142.1 L437.9,142.96 L438.7,143.74 L439.5,144.43 L440.3,145.01 L441.1,145.53 L441.9,146.02 L442.7,146.47 L443.5,146.91 L444.3,147.32 L445.1,147.72 L445.9,148.1 L446.7,148.48 L447.5,148.86 L448.3,149.25 L449.1,149.64 L449.9,150.04 L450.4,150.3" stroke="#1f6fbe" fill="none" stroke-width="1.3" stroke-linejoin="round"/>
<path d="M276.3,155.4 L277.1,155.39 L277.9,155.39 L278.7,155.38 L279.5,155.38 L280.3,155.37 L281.1,155.36 L281.9,155.36 L282.7,155.35 L283.5,155.35 L284.3,155.34 L285.1,155.34 L285.9,155.33 L286.7,155.33 L287.5,155.32 L288.3,155.32 L289.1,155.31 L289.9,155.31 L290.7,155.3 L291.5,155.29 L292.3,155.29 L293.1,155.28 L293.9,155.27 L294.7,155.26 L295.5,155.26 L296.3,155.25 L297.1,155.24 L297.9,155.23 L298.7,155.22 L299.5,155.21 L300.3,155.2 L301.1,155.18 L301.9,155.16 L302.7,155.14 L303.5,155.12 L304.3,155.09 L305.1,155.07 L305.9,155.03 L306.7,155 L307.5,154.97 L308.3,154.93 L309.1,154.89 L309.9,154.85 L310.7,154.8 L311.5,154.76 L312.3,154.71 L313.1,154.66 L313.9,154.61 L314.7,154.56 L315.5,154.51 L316.3,154.46 L317.1,154.4 L317.9,154.35 L318.7,154.29 L319.5,154.24 L320.3,154.18 L321.1,154.12 L321.9,154.06 L322.7,154 L323.5,153.93 L324.3,153.86 L325.1,153.79 L325.9,153.72 L326.7,153.64 L327.5,153.56 L328.3,153.47 L329.1,153.38 L329.9,153.29 L330.7,153.19 L331.5,153.09 L332.3,152.99 L333.1,152.88 L333.9,152.76 L334.7,152.64 L335.5,152.51 L336.3,152.38 L337.1,152.25 L337.9,152.1 L338.7,151.96 L339.5,151.8 L340.3,151.64 L341.1,151.44 L341.9,151.2 L342.7,150.93 L343.5,150.63 L344.3,150.29 L345.1,149.93 L345.9,149.54 L346.7,149.14 L347.5,148.71 L348.3,148.27 L349.1,147.82 L349.9,147.35 L350.7,146.88 L351.5,146.4 L352.3,145.92 L353.1,145.44 L353.9,144.97 L354.7,144.5 L355.5,144.04 L356.3,143.59 L357.1,143.16 L357.9,142.74 L358.7,142.32 L359.5,141.91 L360.3,141.49 L361.1,141.08 L361.9,140.66 L362.7,140.24 L363.5,139.83 L364.3,139.41 L365.1,138.98 L365.9,138.56 L366.7,138.13 L367.5,137.7 L368.3,137.26 L369.1,136.82 L369.9,136.37 L370.7,135.92 L371.5,135.46 L372.3,135 L373.1,134.53 L373.9,134.05 L374.7,133.56 L375.5,133.07 L376.3,132.56 L377.1,132.04 L377.9,131.51 L378.7,130.97 L379.5,130.42 L380.3,129.87 L381.1,129.31 L381.9,128.74 L382.7,128.17 L383.5,127.59 L384.3,127.01 L385.1,126.43 L385.9,125.84 L386.7,125.26 L387.5,124.68 L388.3,124.09 L389.1,123.51 L389.9,122.94 L390.7,122.36 L391.5,121.79 L392.3,121.23 L393.1,120.67 L393.9,120.1 L394.7,119.53 L395.5,118.96 L396.3,118.38 L397.1,117.8 L397.9,117.23 L398.7,116.65 L399.5,116.07 L400.3,115.5 L401.1,114.92 L401.9,114.35 L402.7,113.78 L403.5,113.22 L404.3,112.66 L405.1,112.1 L405.9,111.55 L406.7,111.01 L407.5,110.47 L408.3,109.94 L409.1,109.42 L409.9,108.91 L410.7,108.37 L411.5,107.82 L412.3,107.27 L413.1,106.72 L413.9,106.18 L414.7,105.67 L415.5,105.19 L416.3,104.75 L417.1,104.36 L417.9,104.04 L418.7,103.77 L419.5,103.52 L420.3,103.27 L421.1,103.04 L421.9,102.82 L422.7,102.62 L423.5,102.46 L424.3,102.33 L425.1,102.24 L425.9,102.2 L426.7,102.25 L427.5,102.45 L428.3,102.8 L429.1,103.26 L429.9,103.82 L430.7,104.47 L431.5,105.17 L432.3,105.9 L433.1,106.65 L433.9,107.4 L434.7,108.21 L435.5,109.16 L436.3,110.23 L437.1,111.39 L437.9,112.63 L438.7,113.93 L439.5,115.26 L440.3,116.61 L441.1,118.06 L441.9,119.6 L442.7,121.22 L443.5,122.92 L444.3,124.67 L445.1,126.47 L445.9,128.29 L446.7,130.13 L447.5,131.98 L448.3,133.82 L449.1,135.63 L449.9,137.41 L450.4,138.5" stroke="#2383c8" fill="none" stroke-width="1.3" stroke-linejoin="round"/>
<path d="M276.3,155.4 L277.1,155.4 L277.9,155.39 L278.7,155.39 L279.5,155.39 L280.3,155.39 L281.1,155.38 L281.9,155.38 L282.7,155.38 L283.5,155.38 L284.3,155.37 L285.1,155.37 L285.9,155.37 L286.7,155.37 L287.5,155.36 L288.3,155.36 L289.1,155.36 L289.9,155.36 L290.7,155.35 L291.5,155.35 L292.3,155.35 L293.1,155.34 L293.9,155.34 L294.7,155.33 L295.5,155.33 L296.3,155.33 L297.1,155.32 L297.9,155.32 L298.7,155.31 L299.5,155.3 L300.3,155.3 L301.1,155.29 L301.9,155.27 L302.7,155.26 L303.5,155.24 L304.3,155.21 L305.1,155.19 L305.9,155.16 L306.7,155.12 L307.5,155.09 L308.3,155.05 L309.1,155.01 L309.9,154.97 L310.7,154.92 L311.5,154.87 L312.3,154.83 L313.1,154.78 L313.9,154.72 L314.7,154.67 L315.5,154.62 L316.3,154.56 L317.1,154.51 L317.9,154.45 L318.7,154.39 L319.5,154.34 L320.3,154.28 L321.1,154.22 L321.9,154.16 L322.7,154.1 L323.5,154.03 L324.3,153.97 L325.1,153.9 L325.9,153.83 L326.7,153.75 L327.5,153.68 L328.3,153.59 L329.1,153.51 L329.9,153.41 L330.7,153.32 L331.5,153.22 L332.3,153.11 L333.1,152.99 L333.9,152.87 L334.7,152.74 L335.5,152.61 L336.3,152.47 L337.1,152.32 L337.9,152.16 L338.7,151.99 L339.5,151.81 L340.3,151.62 L341.1,151.36 L341.9,151.03 L342.7,150.62 L343.5,150.16 L344.3,149.66 L345.1,149.12 L345.9,148.55 L346.7,147.97 L347.5,147.38 L348.3,146.79 L349.1,146.21 L349.9,145.59 L350.7,144.94 L351.5,144.25 L352.3,143.54 L353.1,142.8 L353.9,142.05 L354.7,141.29 L355.5,140.52 L356.3,139.75 L357.1,138.98 L357.9,138.22 L358.7,137.45 L359.5,136.67 L360.3,135.87 L361.1,135.07 L361.9,134.26 L362.7,133.44 L363.5,132.63 L364.3,131.82 L365.1,131.01 L365.9,130.2 L366.7,129.4 L367.5,128.62 L368.3,127.84 L369.1,127.06 L369.9,126.28 L370.7,125.5 L371.5,124.71 L372.3,123.91 L373.1,123.1 L373.9,122.26 L374.7,121.41 L375.5,120.53 L376.3,119.62 L377.1,118.69 L377.9,117.73 L378.7,116.77 L379.5,115.79 L380.3,114.81 L381.1,113.83 L381.9,112.84 L382.7,111.87 L383.5,110.9 L384.3,109.95 L385.1,109.01 L385.9,108.07 L386.7,107.14 L387.5,106.21 L388.3,105.26 L389.1,104.31 L389.9,103.34 L390.7,102.34 L391.5,101.32 L392.3,100.27 L393.1,99.18 L393.9,98.06 L394.7,96.92 L395.5,95.75 L396.3,94.55 L397.1,93.34 L397.9,92.12 L398.7,90.87 L399.5,89.62 L400.3,88.35 L401.1,87.08 L401.9,85.81 L402.7,84.52 L403.5,83.23 L404.3,81.92 L405.1,80.59 L405.9,79.24 L406.7,77.87 L407.5,76.46 L408.3,75.02 L409.1,73.54 L409.9,72.02 L410.7,70.42 L411.5,68.74 L412.3,67.01 L413.1,65.25 L413.9,63.47 L414.7,61.69 L415.5,59.94 L416.3,58.22 L417.1,56.56 L417.9,54.95 L418.7,53.34 L419.5,51.71 L420.3,50 L421.1,48.19 L421.9,46.29 L422.7,44.31 L423.5,42.3 L424.3,40.28 L425.1,38.27 L425.9,36.3 L426.7,34.39 L427.5,32.58 L428.3,30.85 L429.1,28.99 L429.9,27.01 L430.7,25.02 L431.5,23.11 L432.3,21.4 L433.1,19.98 L433.9,18.96 L434.7,18.44 L435.5,18.53 L436.3,19.23 L437.1,20.48 L437.9,22.17 L438.7,24.23 L439.5,26.56 L440.3,29.09 L441.1,31.71 L441.9,34.35 L442.7,37.13 L443.5,40.51 L444.3,44.4 L445.1,48.71 L445.9,53.33 L446.7,58.17 L447.5,63.13 L448.3,68.1 L449.1,72.99 L449.9,77.7 L450.4,80.5" stroke="#2b3d9e" fill="none" stroke-width="1.3" stroke-linejoin="round"/>
<path d="M409.6,151.4 L415.7,143.9 L420.9,130.9 L426.1,102.2 L435,18.4" stroke="#666" fill="none" stroke-width="0.8" stroke-dasharray="1.3,1.3"/>
<circle cx="409.6" cy="151.4" r="1.7" fill="#bbb" opacity="0.9"/>
<circle cx="415.7" cy="143.9" r="1.7" fill="#bbb" opacity="0.9"/>
<circle cx="420.9" cy="130.9" r="1.7" fill="#bbb" opacity="0.9"/>
<circle cx="426.1" cy="102.2" r="1.7" fill="#bbb" opacity="0.9"/>
<circle cx="435" cy="18.4" r="1.7" fill="#bbb" opacity="0.9"/>
<rect x="276" y="6.6" width="174.5" height="155.9" fill="none" stroke="#555" stroke-width="1" />
<text x="288.7" y="22.6" font-size="10.6" text-anchor="start" fill="#231f20" >CPND@DPEPO</text>
<text x="288.7" y="43.6" font-size="10.6" text-anchor="start" fill="#231f20" >Ex. = 365 nm</text>
<rect x="301.8" y="58" width="1.2" height="70" fill="url(#barr)" stroke="none" stroke-width="1" />
<path d="M302.4,55.6 L300.2,61 L304.6,61 Z" stroke="none" fill="#2b3d9e" stroke-width="1" />
<text x="311.6" y="63.7" font-size="10.6" text-anchor="start" fill="#231f20" >50 K min<tspan font-size="6.4" dy="-3.9">-1</tspan></text>
<text x="311.6" y="79.4" font-size="10.6" text-anchor="start" fill="#231f20" >20 K min<tspan font-size="6.4" dy="-3.9">-1</tspan></text>
<text x="311.6" y="95.1" font-size="10.6" text-anchor="start" fill="#231f20" >10 K min<tspan font-size="6.4" dy="-3.9">-1</tspan></text>
<text x="311.6" y="110.8" font-size="10.6" text-anchor="start" fill="#231f20" >5 K min<tspan font-size="6.4" dy="-3.9">-1</tspan></text>
<text x="311.6" y="126.5" font-size="10.6" text-anchor="start" fill="#231f20" >2 K min<tspan font-size="6.4" dy="-3.9">-1</tspan></text>
<text x="285.5" y="95.5" font-size="10.6" text-anchor="start" fill="#231f20" font-style="italic">&#946;<tspan font-size="7" dy="1.6">h</tspan></text>
<text x="477" y="11" font-size="13.5" text-anchor="start" fill="#231f20" font-weight="bold">c</text>
<line x1="573.22" y1="151.3" x2="642.39" y2="33.6" stroke="#7fcdbb" stroke-width="1.1" />
<line x1="532.96" y1="141.7" x2="596.11" y2="24" stroke="#41b6c4" stroke-width="1.1" />
<line x1="556.73" y1="147.9" x2="606.27" y2="26.1" stroke="#1d91c0" stroke-width="1.1" />
<line x1="549.88" y1="145.8" x2="588.59" y2="22.6" stroke="#225ea8" stroke-width="1.1" />
<line x1="517.73" y1="137.6" x2="555.61" y2="14.8" stroke="#253494" stroke-width="1.1" />
<circle cx="572.5" cy="151.3" r="3.25" fill="#7fcdbb" />
<circle cx="593.7" cy="118.4" r="3.25" fill="#7fcdbb" />
<circle cx="608.1" cy="93" r="3.25" fill="#7fcdbb" />
<circle cx="621.2" cy="67.2" r="3.25" fill="#7fcdbb" />
<circle cx="642.8" cy="33.6" r="3.25" fill="#7fcdbb" />
<circle cx="532" cy="141.7" r="3.25" fill="#41b6c4" />
<circle cx="551.5" cy="108.7" r="3.25" fill="#41b6c4" />
<circle cx="564.9" cy="83.4" r="3.25" fill="#41b6c4" />
<circle cx="578.3" cy="57.3" r="3.25" fill="#41b6c4" />
<circle cx="595.5" cy="24" r="3.25" fill="#41b6c4" />
<circle cx="556" cy="147.9" r="3.25" fill="#1d91c0" />
<circle cx="571.1" cy="113.6" r="3.25" fill="#1d91c0" />
<circle cx="581.7" cy="87.5" r="3.25" fill="#1d91c0" />
<circle cx="592.7" cy="61.4" r="3.25" fill="#1d91c0" />
<circle cx="605.4" cy="26.1" r="3.25" fill="#1d91c0" />
<circle cx="549.1" cy="145.8" r="3.25" fill="#225ea8" />
<circle cx="561.5" cy="111.1" r="3.25" fill="#225ea8" />
<circle cx="569.4" cy="84.4" r="3.25" fill="#225ea8" />
<circle cx="578" cy="58" r="3.25" fill="#225ea8" />
<circle cx="587.9" cy="22.6" r="3.25" fill="#225ea8" />
<circle cx="516.9" cy="137.6" r="3.25" fill="#253494" />
<circle cx="528.9" cy="102.9" r="3.25" fill="#253494" />
<circle cx="537.5" cy="76.8" r="3.25" fill="#253494" />
<circle cx="544.7" cy="50.1" r="3.25" fill="#253494" />
<circle cx="555" cy="14.8" r="3.25" fill="#253494" />
<rect x="510" y="6.4" width="170.5" height="155.9" fill="none" stroke="#555" stroke-width="1" />
<line x1="507.6" y1="128.7" x2="510" y2="128.7" stroke="#555" stroke-width="1" />
<text x="504.6" y="132.5" font-size="10.6" text-anchor="end" fill="#231f20" >8</text>
<line x1="507.6" y1="88" x2="510" y2="88" stroke="#555" stroke-width="1" />
<text x="504.6" y="91.8" font-size="10.6" text-anchor="end" fill="#231f20" >9</text>
<line x1="507.6" y1="47.3" x2="510" y2="47.3" stroke="#555" stroke-width="1" />
<text x="504.6" y="51.1" font-size="10.6" text-anchor="end" fill="#231f20" >10</text>
<line x1="507.6" y1="6.6" x2="510" y2="6.6" stroke="#555" stroke-width="1" />
<text x="504.6" y="10.4" font-size="10.6" text-anchor="end" fill="#231f20" >11</text>
<line x1="508.7" y1="149.05" x2="510" y2="149.05" stroke="#555" stroke-width="0.8" />
<line x1="508.7" y1="108.35" x2="510" y2="108.35" stroke="#555" stroke-width="0.8" />
<line x1="508.7" y1="67.65" x2="510" y2="67.65" stroke="#555" stroke-width="0.8" />
<line x1="508.7" y1="26.95" x2="510" y2="26.95" stroke="#555" stroke-width="0.8" />
<line x1="545" y1="162.3" x2="545" y2="164.7" stroke="#555" stroke-width="1" />
<text x="545" y="177.8" font-size="10.6" text-anchor="middle" fill="#231f20" >36</text>
<line x1="581.3" y1="162.3" x2="581.3" y2="164.7" stroke="#555" stroke-width="1" />
<text x="581.3" y="177.8" font-size="10.6" text-anchor="middle" fill="#231f20" >40</text>
<line x1="617.6" y1="162.3" x2="617.6" y2="164.7" stroke="#555" stroke-width="1" />
<text x="617.6" y="177.8" font-size="10.6" text-anchor="middle" fill="#231f20" >44</text>
<line x1="653.9" y1="162.3" x2="653.9" y2="164.7" stroke="#555" stroke-width="1" />
<text x="653.9" y="177.8" font-size="10.6" text-anchor="middle" fill="#231f20" >48</text>
<line x1="526.85" y1="162.3" x2="526.85" y2="163.6" stroke="#555" stroke-width="0.8" />
<line x1="563.15" y1="162.3" x2="563.15" y2="163.6" stroke="#555" stroke-width="0.8" />
<line x1="599.45" y1="162.3" x2="599.45" y2="163.6" stroke="#555" stroke-width="0.8" />
<line x1="635.75" y1="162.3" x2="635.75" y2="163.6" stroke="#555" stroke-width="0.8" />
<line x1="672.05" y1="162.3" x2="672.05" y2="163.6" stroke="#555" stroke-width="0.8" />
<text x="594" y="191" font-size="10.6" text-anchor="middle" fill="#231f20" >1/(k<tspan font-size="6.8" dy="2">B</tspan><tspan dy="-2">*T</tspan><tspan font-size="6.8" dy="2">m</tspan><tspan dy="-2">) (eV</tspan><tspan font-size="6.4" dy="-3.9">-1</tspan><tspan dy="4.2">)</tspan></text>
<text transform="translate(486,87) rotate(-90)" font-size="10.6" text-anchor="middle" fill="#231f20" >ln(T<tspan font-size="6.8" dy="2">m</tspan><tspan font-size="6.8" dy="-6">2</tspan><tspan dy="4">/&#946;</tspan><tspan font-size="6.8" dy="2">h</tspan><tspan dy="-2">)</tspan></text>
<text x="634.2" y="88.6" font-size="10.6" text-anchor="start" fill="#231f20" >CPND@</text>
<circle cx="623.2" cy="100.5" r="3.25" fill="#7fcdbb" />
<text x="634.2" y="104.3" font-size="10.6" text-anchor="start" fill="#231f20" >TMPyPB</text>
<circle cx="623.2" cy="112.9" r="3.25" fill="#41b6c4" />
<text x="634.2" y="116.7" font-size="10.6" text-anchor="start" fill="#231f20" >T2T</text>
<circle cx="623.2" cy="125.3" r="3.25" fill="#1d91c0" />
<text x="634.2" y="129.1" font-size="10.6" text-anchor="start" fill="#231f20" >PPF</text>
<circle cx="623.2" cy="137.7" r="3.25" fill="#225ea8" />
<text x="634.2" y="141.5" font-size="10.6" text-anchor="start" fill="#231f20" >TSPO1</text>
<circle cx="623.2" cy="150.1" r="3.25" fill="#253494" />
<text x="634.2" y="153.9" font-size="10.6" text-anchor="start" fill="#231f20" >DPEPO</text>
<text x="0.5" y="217.5" font-size="13.5" text-anchor="start" fill="#231f20" font-weight="bold">d</text>
<path d="M50.2,246.01 L50.9,246.41 L51.6,246.39 L52.3,246.94 L53,246.48 L53.7,246.59 L54.4,245.89 L55.1,245.37 L55.8,243.91 L56.5,242.06 L57.2,242.36 L57.9,241.41 L58.6,239.93 L59.3,237.81 L60,236.5 L60.7,234.04 L61.4,233.7 L62.1,231.96 L62.8,230.25 L63.5,228.65 L64.2,228.91 L64.9,228.04 L65.6,225.39 L66.3,225.76 L67,224.28 L67.7,223.21 L68.4,222.91 L69.1,223.24 L69.8,222.96 L70.5,221.09 L71.2,221.89 L71.9,220.79 L72.6,222.1 L73.3,221.64 L74,222.95 L74.7,223.54 L75.4,223.12 L76.1,224.47 L76.8,223.82 L77.5,224.15 L78.2,225.99 L78.9,225.94 L79.6,227.25 L80.3,228.63 L81,229.94 L81.7,229.96 L82.4,230.46 L83.1,232.58 L83.8,232.2 L84.5,233.95 L85.2,234.42 L85.9,234.05 L86.6,234.74 L87.3,235.37 L88,236.09 L88.7,236.47 L89.4,236.86 L90.1,237.39 L90.8,238.37 L91.5,237.96 L92.2,238.16 L92.9,239 L93.6,238.42 L94.3,238.81 L95,240.3 L95.7,239.74 L96.4,240.04 L97.1,239.32 L97.8,240.27 L98.5,240.78 L99.2,239.98 L99.9,241.24 L100.6,241.45 L101.3,240.59 L102,241.76 L102.7,241.6 L103.4,242.11 L104.1,241.63 L104.8,242.37 L105.5,242.53 L106.2,241.34 L106.9,241.5 L107.6,242.7 L108.3,243.31 L109,242.11 L109.7,242.56 L110.4,242.89 L111.1,242.47 L111.8,242.63 L112.5,242.61 L113.2,242.78 L113.9,243.25 L114.6,242.79 L115,246.4 L50,246.4 Z" stroke="none" fill="url(#gd0)" stroke-width="1" />
<path d="M18,245.93 L18.7,246.48 L19.4,246.17 L20.1,246.59 L20.8,246.63 L21.5,245.62 L22.2,245.52 L22.9,247.01 L23.6,245.97 L24.3,245.92 L25,247.29 L25.7,246.35 L26.4,247.01 L27.1,246.36 L27.8,246.65 L28.5,245.77 L29.2,246.64 L29.9,247.06 L30.6,246.44 L31.3,246.83 L32,246.71 L32.7,245.62 L33.4,246.86 L34.1,246.56 L34.8,246.04 L35.5,245.56 L36.2,247.06 L36.9,246.35 L37.6,246.79 L38.3,247.08 L39,246.79 L39.7,247.16 L40.4,246.21 L41.1,246.94 L41.8,246.3 L42.5,247.18 L43.2,247.07 L43.9,245.66 L44.6,245.72 L45.3,245.86 L46,247.2 L46.7,246.24 L47.4,246.57 L48.1,245.97 L48.8,246.33 L49.5,246.09 L50.2,246.01 L50.9,246.41 L51.6,246.39 L52.3,246.94 L53,246.48 L53.7,246.59 L54.4,245.89 L55.1,245.37 L55.8,243.91 L56.5,242.06 L57.2,242.36 L57.9,241.41 L58.6,239.93 L59.3,237.81 L60,236.5 L60.7,234.04 L61.4,233.7 L62.1,231.96 L62.8,230.25 L63.5,228.65 L64.2,228.91 L64.9,228.04 L65.6,225.39 L66.3,225.76 L67,224.28 L67.7,223.21 L68.4,222.91 L69.1,223.24 L69.8,222.96 L70.5,221.09 L71.2,221.89 L71.9,220.79 L72.6,222.1 L73.3,221.64 L74,222.95 L74.7,223.54 L75.4,223.12 L76.1,224.47 L76.8,223.82 L77.5,224.15 L78.2,225.99 L78.9,225.94 L79.6,227.25 L80.3,228.63 L81,229.94 L81.7,229.96 L82.4,230.46 L83.1,232.58 L83.8,232.2 L84.5,233.95 L85.2,234.42 L85.9,234.05 L86.6,234.74 L87.3,235.37 L88,236.09 L88.7,236.47 L89.4,236.86 L90.1,237.39 L90.8,238.37 L91.5,237.96 L92.2,238.16 L92.9,239 L93.6,238.42 L94.3,238.81 L95,240.3 L95.7,239.74 L96.4,240.04 L97.1,239.32 L97.8,240.27 L98.5,240.78 L99.2,239.98 L99.9,241.24 L100.6,241.45 L101.3,240.59 L102,241.76 L102.7,241.6 L103.4,242.11 L104.1,241.63 L104.8,242.37 L105.5,242.53 L106.2,241.34 L106.9,241.5 L107.6,242.7 L108.3,243.31 L109,242.11 L109.7,242.56 L110.4,242.89 L111.1,242.47 L111.8,242.63 L112.5,242.61 L113.2,242.78 L113.9,243.25 L114.6,242.79 L115.3,242.99 L116,243.76 L116.7,242.48 L117.4,243.51 L118.1,243.86 L118.8,243.15 L119.5,243.05 L120.2,244.14 L120.9,243.18 L121.6,243.13 L122.3,243.63 L123,244.15 L123.7,243.12 L124.4,243.56 L125.1,243.63 L125.8,244.57 L126.5,243.9 L127.2,244.69 L127.9,243.5 L128.6,243.84 L129.3,244.44 L130,244.9 L130.7,244.16 L131.4,243.78 L132.1,243.63 L132.8,244.4 L133.5,243.82 L134.2,244.97 L134.9,245.05 L135.6,243.91 L136.3,244.11 L137,245.09 L137.7,244.82 L138.4,245.15 L139.1,244.35 L139.8,243.99 L140.5,244.31 L141.2,245.24 L141.9,244.33 L142.6,244.49 L143.3,244.65 L144,244.68 L144.7,244.69 L145.4,245.64 L146.1,244.29 L146.8,244.05 L147.5,245.77 L148.2,245.68 L148.9,245.9 L149.6,244.93 L150.3,245.89 L151,245.88 L151.7,244.63 L152.4,245.6 L153.1,245.79 L153.8,245.5 L154.5,245.27 L155.2,244.88 L155.9,245 L156.6,244.82 L157.3,244.56 L158,245.52 L158.7,245.01 L159.4,245.97 L160.1,244.62 L160.8,246.19 L161.5,245.84 L162.2,246.27 L162.9,246.25 L163.6,246.28 L164.3,245.72 L165,244.73 L165.7,246.07 L166.4,245.06 L167.1,245.32 L167.8,245.99 L168.5,245.77 L169.2,245.59 L169.9,246.56 L170.6,246 L171.3,245.53 L172,245.4 L172.7,246.52 L173.4,245.85 L174.1,246.42 L174.8,245.67 L175.5,245.42 L176.2,246.05 L176.9,246.58 L177.6,245.44 L178.3,246.58 L179,246.84 L179.7,246.66 L180.4,246.71 L181.1,245.27 L181.8,246.41" stroke="#7fcdbb" fill="none" stroke-width="1.0" stroke-linejoin="round"/>
<path d="M50.2,275.65 L50.9,274.49 L51.6,275.06 L52.3,274.95 L53,275.63 L53.7,275.55 L54.4,274.34 L55.1,275.05 L55.8,274.6 L56.5,273.27 L57.2,272.89 L57.9,271.27 L58.6,271.3 L59.3,269.67 L60,268.66 L60.7,267.1 L61.4,265.5 L62.1,264.05 L62.8,262.03 L63.5,259.46 L64.2,258.68 L64.9,256.16 L65.6,255.2 L66.3,255.25 L67,252.84 L67.7,251.96 L68.4,251.19 L69.1,252.11 L69.8,250.75 L70.5,250.62 L71.2,252.45 L71.9,251.63 L72.6,253.48 L73.3,253.75 L74,254.61 L74.7,255.41 L75.4,255.42 L76.1,256.58 L76.8,256.02 L77.5,258.19 L78.2,258.6 L78.9,259.83 L79.6,259.58 L80.3,261.52 L81,262.59 L81.7,261.64 L82.4,262.65 L83.1,263.55 L83.8,264.47 L84.5,263.85 L85.2,264.14 L85.9,264.65 L86.6,265.68 L87.3,266.28 L88,265.97 L88.7,266.24 L89.4,266.61 L90.1,266.82 L90.8,267.23 L91.5,266.91 L92.2,267.93 L92.9,269.05 L93.6,268.31 L94.3,269.17 L95,268.38 L95.7,269.59 L96.4,269.96 L97.1,270.06 L97.8,270.02 L98.5,270.19 L99.2,270.69 L99.9,271.35 L100.6,270.19 L101.3,270.26 L102,271.59 L102.7,272.03 L103.4,271.42 L104.1,271.38 L104.8,271.96 L105.5,271.09 L106.2,271.32 L106.9,271.27 L107.6,272.04 L108.3,271.63 L109,271.55 L109.7,272.44 L110.4,272.97 L111.1,271.85 L111.8,272.64 L112.5,272.17 L113.2,273.02 L113.9,272.59 L114.6,272.07 L115,275 L50,275 Z" stroke="none" fill="url(#gd1)" stroke-width="1" />
<path d="M18,275.95 L18.7,274.49 L19.4,274.89 L20.1,274.88 L20.8,275.35 L21.5,275.16 L22.2,275.25 L22.9,275.8 L23.6,274.4 L24.3,274.5 L25,274.63 L25.7,274.62 L26.4,274.52 L27.1,276.15 L27.8,275.94 L28.5,274.56 L29.2,275.3 L29.9,274.97 L30.6,274.97 L31.3,275.03 L32,275.56 L32.7,275.46 L33.4,275.05 L34.1,274.74 L34.8,274.99 L35.5,274.62 L36.2,275.4 L36.9,275.69 L37.6,275.08 L38.3,274.54 L39,274.72 L39.7,275.07 L40.4,275.49 L41.1,275.81 L41.8,275.08 L42.5,275.84 L43.2,275.52 L43.9,275.18 L44.6,275.07 L45.3,275.29 L46,275.67 L46.7,275.16 L47.4,275.65 L48.1,275.23 L48.8,274.84 L49.5,275.36 L50.2,275.65 L50.9,274.49 L51.6,275.06 L52.3,274.95 L53,275.63 L53.7,275.55 L54.4,274.34 L55.1,275.05 L55.8,274.6 L56.5,273.27 L57.2,272.89 L57.9,271.27 L58.6,271.3 L59.3,269.67 L60,268.66 L60.7,267.1 L61.4,265.5 L62.1,264.05 L62.8,262.03 L63.5,259.46 L64.2,258.68 L64.9,256.16 L65.6,255.2 L66.3,255.25 L67,252.84 L67.7,251.96 L68.4,251.19 L69.1,252.11 L69.8,250.75 L70.5,250.62 L71.2,252.45 L71.9,251.63 L72.6,253.48 L73.3,253.75 L74,254.61 L74.7,255.41 L75.4,255.42 L76.1,256.58 L76.8,256.02 L77.5,258.19 L78.2,258.6 L78.9,259.83 L79.6,259.58 L80.3,261.52 L81,262.59 L81.7,261.64 L82.4,262.65 L83.1,263.55 L83.8,264.47 L84.5,263.85 L85.2,264.14 L85.9,264.65 L86.6,265.68 L87.3,266.28 L88,265.97 L88.7,266.24 L89.4,266.61 L90.1,266.82 L90.8,267.23 L91.5,266.91 L92.2,267.93 L92.9,269.05 L93.6,268.31 L94.3,269.17 L95,268.38 L95.7,269.59 L96.4,269.96 L97.1,270.06 L97.8,270.02 L98.5,270.19 L99.2,270.69 L99.9,271.35 L100.6,270.19 L101.3,270.26 L102,271.59 L102.7,272.03 L103.4,271.42 L104.1,271.38 L104.8,271.96 L105.5,271.09 L106.2,271.32 L106.9,271.27 L107.6,272.04 L108.3,271.63 L109,271.55 L109.7,272.44 L110.4,272.97 L111.1,271.85 L111.8,272.64 L112.5,272.17 L113.2,273.02 L113.9,272.59 L114.6,272.07 L115.3,272.02 L116,271.72 L116.7,272.59 L117.4,272.46 L118.1,272.12 L118.8,272.5 L119.5,272.48 L120.2,273.33 L120.9,272.24 L121.6,273.8 L122.3,272.92 L123,273.18 L123.7,272.98 L124.4,273.68 L125.1,273.7 L125.8,273.27 L126.5,273.18 L127.2,273.65 L127.9,273.94 L128.6,273.16 L129.3,273.8 L130,274.25 L130.7,273.4 L131.4,273.02 L132.1,273.07 L132.8,273.98 L133.5,273.94 L134.2,274.49 L134.9,274.34 L135.6,273.28 L136.3,273.23 L137,273.39 L137.7,273.29 L138.4,274.26 L139.1,274.57 L139.8,274.68 L140.5,273.55 L141.2,274.68 L141.9,273.72 L142.6,273.95 L143.3,274.52 L144,273.39 L144.7,273.43 L145.4,274.79 L146.1,273.83 L146.8,273.97 L147.5,274.39 L148.2,274.58 L148.9,273.39 L149.6,274 L150.3,274.19 L151,274.29 L151.7,273.8 L152.4,274.49 L153.1,275.17 L153.8,274.16 L154.5,274.44 L155.2,273.69 L155.9,273.98 L156.6,274.69 L157.3,273.7 L158,275.1 L158.7,275.15 L159.4,273.69 L160.1,275.22 L160.8,274.21 L161.5,274.93 L162.2,274.91 L162.9,274.08 L163.6,274.77 L164.3,274.74 L165,275.02 L165.7,274.05 L166.4,274.94 L167.1,275.31 L167.8,274.8 L168.5,274.56 L169.2,273.8 L169.9,274.49 L170.6,274.24 L171.3,274.91 L172,274.84 L172.7,274.64 L173.4,273.96 L174.1,274.8 L174.8,274.77 L175.5,273.97 L176.2,275.25 L176.9,274.83 L177.6,273.88 L178.3,275.34 L179,273.93 L179.7,274.27 L180.4,274.98 L181.1,274.76 L181.8,274.69" stroke="#41b6c4" fill="none" stroke-width="1.0" stroke-linejoin="round"/>
<path d="M50.2,306.2 L50.9,306.17 L51.6,306.11 L52.3,306.03 L53,305.92 L53.7,305.78 L54.4,305.61 L55.1,305.32 L55.8,304.5 L56.5,303.24 L57.2,301.73 L57.9,300.21 L58.6,298.65 L59.3,296.85 L60,294.93 L60.7,293.04 L61.4,291.28 L62.1,289.81 L62.8,288.51 L63.5,287.24 L64.2,286.05 L64.9,284.95 L65.6,283.98 L66.3,283.16 L67,282.5 L67.7,281.95 L68.4,281.41 L69.1,280.92 L69.8,280.5 L70.5,280.17 L71.2,279.97 L71.9,279.91 L72.6,279.95 L73.3,280.05 L74,280.2 L74.7,280.39 L75.4,280.61 L76.1,280.84 L76.8,281.17 L77.5,281.62 L78.2,282.19 L78.9,282.83 L79.6,283.52 L80.3,284.24 L81,284.96 L81.7,285.65 L82.4,286.29 L83.1,286.92 L83.8,287.58 L84.5,288.26 L85.2,288.96 L85.9,289.67 L86.6,290.37 L87.3,291.07 L88,291.76 L88.7,292.43 L89.4,293.08 L90.1,293.69 L90.8,294.26 L91.5,294.8 L92.2,295.27 L92.9,295.7 L93.6,296.08 L94.3,296.45 L95,296.8 L95.7,297.14 L96.4,297.46 L97.1,297.77 L97.8,298.06 L98.5,298.34 L99.2,298.61 L99.9,298.86 L100.6,299.11 L101.3,299.34 L102,299.56 L102.7,299.77 L103.4,299.97 L104.1,300.17 L104.8,300.36 L105.5,300.55 L106.2,300.73 L106.9,300.91 L107.6,301.1 L108.3,301.27 L109,301.45 L109.7,301.62 L110.4,301.79 L111.1,301.95 L111.8,302.11 L112.5,302.27 L113.2,302.42 L113.9,302.57 L114.6,302.72 L115,306.3 L50,306.3 Z" stroke="none" fill="url(#gd2)" stroke-width="1" />
<path d="M18,306.3 L18.7,306.3 L19.4,306.3 L20.1,306.29 L20.8,306.29 L21.5,306.29 L22.2,306.29 L22.9,306.29 L23.6,306.29 L24.3,306.29 L25,306.28 L25.7,306.28 L26.4,306.28 L27.1,306.28 L27.8,306.28 L28.5,306.28 L29.2,306.28 L29.9,306.28 L30.6,306.28 L31.3,306.27 L32,306.27 L32.7,306.27 L33.4,306.27 L34.1,306.27 L34.8,306.27 L35.5,306.27 L36.2,306.26 L36.9,306.26 L37.6,306.26 L38.3,306.26 L39,306.26 L39.7,306.26 L40.4,306.25 L41.1,306.25 L41.8,306.25 L42.5,306.24 L43.2,306.24 L43.9,306.24 L44.6,306.24 L45.3,306.23 L46,306.23 L46.7,306.22 L47.4,306.22 L48.1,306.21 L48.8,306.21 L49.5,306.2 L50.2,306.2 L50.9,306.17 L51.6,306.11 L52.3,306.03 L53,305.92 L53.7,305.78 L54.4,305.61 L55.1,305.32 L55.8,304.5 L56.5,303.24 L57.2,301.73 L57.9,300.21 L58.6,298.65 L59.3,296.85 L60,294.93 L60.7,293.04 L61.4,291.28 L62.1,289.81 L62.8,288.51 L63.5,287.24 L64.2,286.05 L64.9,284.95 L65.6,283.98 L66.3,283.16 L67,282.5 L67.7,281.95 L68.4,281.41 L69.1,280.92 L69.8,280.5 L70.5,280.17 L71.2,279.97 L71.9,279.91 L72.6,279.95 L73.3,280.05 L74,280.2 L74.7,280.39 L75.4,280.61 L76.1,280.84 L76.8,281.17 L77.5,281.62 L78.2,282.19 L78.9,282.83 L79.6,283.52 L80.3,284.24 L81,284.96 L81.7,285.65 L82.4,286.29 L83.1,286.92 L83.8,287.58 L84.5,288.26 L85.2,288.96 L85.9,289.67 L86.6,290.37 L87.3,291.07 L88,291.76 L88.7,292.43 L89.4,293.08 L90.1,293.69 L90.8,294.26 L91.5,294.8 L92.2,295.27 L92.9,295.7 L93.6,296.08 L94.3,296.45 L95,296.8 L95.7,297.14 L96.4,297.46 L97.1,297.77 L97.8,298.06 L98.5,298.34 L99.2,298.61 L99.9,298.86 L100.6,299.11 L101.3,299.34 L102,299.56 L102.7,299.77 L103.4,299.97 L104.1,300.17 L104.8,300.36 L105.5,300.55 L106.2,300.73 L106.9,300.91 L107.6,301.1 L108.3,301.27 L109,301.45 L109.7,301.62 L110.4,301.79 L111.1,301.95 L111.8,302.11 L112.5,302.27 L113.2,302.42 L113.9,302.57 L114.6,302.72 L115.3,302.86 L116,302.99 L116.7,303.12 L117.4,303.25 L118.1,303.37 L118.8,303.48 L119.5,303.59 L120.2,303.69 L120.9,303.79 L121.6,303.88 L122.3,303.96 L123,304.04 L123.7,304.11 L124.4,304.17 L125.1,304.23 L125.8,304.29 L126.5,304.34 L127.2,304.39 L127.9,304.44 L128.6,304.49 L129.3,304.54 L130,304.58 L130.7,304.63 L131.4,304.67 L132.1,304.71 L132.8,304.75 L133.5,304.79 L134.2,304.82 L134.9,304.86 L135.6,304.89 L136.3,304.93 L137,304.96 L137.7,304.99 L138.4,305.02 L139.1,305.05 L139.8,305.08 L140.5,305.11 L141.2,305.13 L141.9,305.16 L142.6,305.19 L143.3,305.21 L144,305.24 L144.7,305.26 L145.4,305.29 L146.1,305.31 L146.8,305.33 L147.5,305.36 L148.2,305.38 L148.9,305.4 L149.6,305.42 L150.3,305.45 L151,305.47 L151.7,305.49 L152.4,305.51 L153.1,305.53 L153.8,305.55 L154.5,305.56 L155.2,305.58 L155.9,305.6 L156.6,305.62 L157.3,305.64 L158,305.65 L158.7,305.67 L159.4,305.69 L160.1,305.7 L160.8,305.72 L161.5,305.74 L162.2,305.75 L162.9,305.77 L163.6,305.78 L164.3,305.8 L165,305.82 L165.7,305.83 L166.4,305.85 L167.1,305.86 L167.8,305.88 L168.5,305.89 L169.2,305.91 L169.9,305.92 L170.6,305.94 L171.3,305.95 L172,305.97 L172.7,305.98 L173.4,306 L174.1,306.01 L174.8,306.03 L175.5,306.04 L176.2,306.06 L176.9,306.07 L177.6,306.09 L178.3,306.1 L179,306.12 L179.7,306.14 L180.4,306.15 L181.1,306.17 L181.8,306.19" stroke="#1d91c0" fill="none" stroke-width="1.1" stroke-linejoin="round"/>
<path d="M50.2,334.75 L50.9,334.72 L51.6,334.68 L52.3,334.63 L53,334.56 L53.7,334.35 L54.4,334.02 L55.1,333.57 L55.8,333.02 L56.5,332.39 L57.2,331.57 L57.9,330.17 L58.6,328.23 L59.3,325.98 L60,323.69 L60.7,321.64 L61.4,319.98 L62.1,318.47 L62.8,317 L63.5,315.63 L64.2,314.46 L64.9,313.5 L65.6,312.84 L66.3,312.29 L67,311.77 L67.7,311.3 L68.4,310.87 L69.1,310.5 L69.8,310.2 L70.5,309.97 L71.2,309.84 L71.9,309.8 L72.6,309.85 L73.3,309.97 L74,310.15 L74.7,310.39 L75.4,310.66 L76.1,310.96 L76.8,311.28 L77.5,311.61 L78.2,311.95 L78.9,312.35 L79.6,312.84 L80.3,313.41 L81,314.02 L81.7,314.67 L82.4,315.33 L83.1,315.99 L83.8,316.61 L84.5,317.2 L85.2,317.76 L85.9,318.33 L86.6,318.89 L87.3,319.43 L88,319.94 L88.7,320.4 L89.4,320.82 L90.1,321.2 L90.8,321.57 L91.5,321.92 L92.2,322.26 L92.9,322.59 L93.6,322.92 L94.3,323.26 L95,323.6 L95.7,323.96 L96.4,324.33 L97.1,324.7 L97.8,325.08 L98.5,325.46 L99.2,325.84 L99.9,326.2 L100.6,326.55 L101.3,326.89 L102,327.21 L102.7,327.5 L103.4,327.76 L104.1,328 L104.8,328.23 L105.5,328.45 L106.2,328.66 L106.9,328.86 L107.6,329.05 L108.3,329.23 L109,329.41 L109.7,329.58 L110.4,329.75 L111.1,329.92 L111.8,330.08 L112.5,330.24 L113.2,330.4 L113.9,330.55 L114.6,330.71 L115,334.8 L50,334.8 Z" stroke="none" fill="url(#gd3)" stroke-width="1" />
<path d="M18,334.8 L18.7,334.8 L19.4,334.8 L20.1,334.8 L20.8,334.8 L21.5,334.8 L22.2,334.8 L22.9,334.8 L23.6,334.8 L24.3,334.8 L25,334.8 L25.7,334.8 L26.4,334.8 L27.1,334.8 L27.8,334.8 L28.5,334.8 L29.2,334.8 L29.9,334.8 L30.6,334.8 L31.3,334.8 L32,334.8 L32.7,334.8 L33.4,334.8 L34.1,334.8 L34.8,334.8 L35.5,334.8 L36.2,334.8 L36.9,334.8 L37.6,334.8 L38.3,334.8 L39,334.8 L39.7,334.8 L40.4,334.8 L41.1,334.8 L41.8,334.8 L42.5,334.8 L43.2,334.8 L43.9,334.8 L44.6,334.8 L45.3,334.8 L46,334.8 L46.7,334.8 L47.4,334.8 L48.1,334.8 L48.8,334.79 L49.5,334.78 L50.2,334.75 L50.9,334.72 L51.6,334.68 L52.3,334.63 L53,334.56 L53.7,334.35 L54.4,334.02 L55.1,333.57 L55.8,333.02 L56.5,332.39 L57.2,331.57 L57.9,330.17 L58.6,328.23 L59.3,325.98 L60,323.69 L60.7,321.64 L61.4,319.98 L62.1,318.47 L62.8,317 L63.5,315.63 L64.2,314.46 L64.9,313.5 L65.6,312.84 L66.3,312.29 L67,311.77 L67.7,311.3 L68.4,310.87 L69.1,310.5 L69.8,310.2 L70.5,309.97 L71.2,309.84 L71.9,309.8 L72.6,309.85 L73.3,309.97 L74,310.15 L74.7,310.39 L75.4,310.66 L76.1,310.96 L76.8,311.28 L77.5,311.61 L78.2,311.95 L78.9,312.35 L79.6,312.84 L80.3,313.41 L81,314.02 L81.7,314.67 L82.4,315.33 L83.1,315.99 L83.8,316.61 L84.5,317.2 L85.2,317.76 L85.9,318.33 L86.6,318.89 L87.3,319.43 L88,319.94 L88.7,320.4 L89.4,320.82 L90.1,321.2 L90.8,321.57 L91.5,321.92 L92.2,322.26 L92.9,322.59 L93.6,322.92 L94.3,323.26 L95,323.6 L95.7,323.96 L96.4,324.33 L97.1,324.7 L97.8,325.08 L98.5,325.46 L99.2,325.84 L99.9,326.2 L100.6,326.55 L101.3,326.89 L102,327.21 L102.7,327.5 L103.4,327.76 L104.1,328 L104.8,328.23 L105.5,328.45 L106.2,328.66 L106.9,328.86 L107.6,329.05 L108.3,329.23 L109,329.41 L109.7,329.58 L110.4,329.75 L111.1,329.92 L111.8,330.08 L112.5,330.24 L113.2,330.4 L113.9,330.55 L114.6,330.71 L115.3,330.88 L116,331.04 L116.7,331.2 L117.4,331.36 L118.1,331.52 L118.8,331.67 L119.5,331.82 L120.2,331.97 L120.9,332.11 L121.6,332.24 L122.3,332.36 L123,332.47 L123.7,332.58 L124.4,332.67 L125.1,332.74 L125.8,332.82 L126.5,332.89 L127.2,332.97 L127.9,333.04 L128.6,333.1 L129.3,333.17 L130,333.24 L130.7,333.3 L131.4,333.36 L132.1,333.42 L132.8,333.48 L133.5,333.53 L134.2,333.59 L134.9,333.64 L135.6,333.69 L136.3,333.74 L137,333.79 L137.7,333.83 L138.4,333.87 L139.1,333.91 L139.8,333.95 L140.5,333.99 L141.2,334.02 L141.9,334.06 L142.6,334.09 L143.3,334.12 L144,334.14 L144.7,334.17 L145.4,334.19 L146.1,334.21 L146.8,334.23 L147.5,334.25 L148.2,334.26 L148.9,334.28 L149.6,334.3 L150.3,334.31 L151,334.33 L151.7,334.35 L152.4,334.36 L153.1,334.37 L153.8,334.39 L154.5,334.4 L155.2,334.42 L155.9,334.43 L156.6,334.44 L157.3,334.45 L158,334.46 L158.7,334.48 L159.4,334.49 L160.1,334.5 L160.8,334.51 L161.5,334.52 L162.2,334.53 L162.9,334.54 L163.6,334.55 L164.3,334.56 L165,334.57 L165.7,334.58 L166.4,334.58 L167.1,334.59 L167.8,334.6 L168.5,334.61 L169.2,334.62 L169.9,334.63 L170.6,334.64 L171.3,334.65 L172,334.65 L172.7,334.66 L173.4,334.67 L174.1,334.68 L174.8,334.69 L175.5,334.7 L176.2,334.71 L176.9,334.72 L177.6,334.73 L178.3,334.74 L179,334.75 L179.7,334.76 L180.4,334.77 L181.1,334.78 L181.8,334.79" stroke="#225ea8" fill="none" stroke-width="1.1" stroke-linejoin="round"/>
<path d="M50.2,363.15 L50.9,363.06 L51.6,362.93 L52.3,362.75 L53,362.53 L53.7,362.25 L54.4,361.91 L55.1,361.47 L55.8,360.63 L56.5,359.47 L57.2,358.05 L57.9,356.55 L58.6,355.09 L59.3,353.73 L60,352.34 L60.7,350.9 L61.4,349.45 L62.1,348.03 L62.8,346.7 L63.5,345.46 L64.2,344.23 L64.9,343 L65.6,341.84 L66.3,340.81 L67,339.96 L67.7,339.35 L68.4,338.82 L69.1,338.35 L69.8,338 L70.5,337.81 L71.2,337.84 L71.9,338 L72.6,338.25 L73.3,338.59 L74,338.97 L74.7,339.38 L75.4,339.86 L76.1,340.53 L76.8,341.34 L77.5,342.25 L78.2,343.22 L78.9,344.18 L79.6,345.09 L80.3,345.91 L81,346.68 L81.7,347.47 L82.4,348.24 L83.1,349.01 L83.8,349.75 L84.5,350.45 L85.2,351.09 L85.9,351.68 L86.6,352.2 L87.3,352.66 L88,353.09 L88.7,353.5 L89.4,353.89 L90.1,354.25 L90.8,354.6 L91.5,354.93 L92.2,355.25 L92.9,355.55 L93.6,355.84 L94.3,356.12 L95,356.4 L95.7,356.67 L96.4,356.94 L97.1,357.2 L97.8,357.46 L98.5,357.71 L99.2,357.94 L99.9,358.17 L100.6,358.39 L101.3,358.59 L102,358.77 L102.7,358.93 L103.4,359.08 L104.1,359.21 L104.8,359.34 L105.5,359.46 L106.2,359.58 L106.9,359.7 L107.6,359.81 L108.3,359.92 L109,360.03 L109.7,360.14 L110.4,360.24 L111.1,360.33 L111.8,360.43 L112.5,360.52 L113.2,360.61 L113.9,360.7 L114.6,360.78 L115,363.2 L50,363.2 Z" stroke="none" fill="url(#gd4)" stroke-width="1" />
<path d="M18,363.4 L18.7,363.4 L19.4,363.4 L20.1,363.39 L20.8,363.39 L21.5,363.39 L22.2,363.39 L22.9,363.39 L23.6,363.39 L24.3,363.38 L25,363.38 L25.7,363.38 L26.4,363.38 L27.1,363.38 L27.8,363.38 L28.5,363.38 L29.2,363.38 L29.9,363.38 L30.6,363.37 L31.3,363.37 L32,363.37 L32.7,363.37 L33.4,363.37 L34.1,363.37 L34.8,363.37 L35.5,363.36 L36.2,363.36 L36.9,363.36 L37.6,363.36 L38.3,363.36 L39,363.35 L39.7,363.35 L40.4,363.35 L41.1,363.34 L41.8,363.34 L42.5,363.34 L43.2,363.33 L43.9,363.33 L44.6,363.33 L45.3,363.32 L46,363.32 L46.7,363.31 L47.4,363.31 L48.1,363.3 L48.8,363.27 L49.5,363.22 L50.2,363.15 L50.9,363.06 L51.6,362.93 L52.3,362.75 L53,362.53 L53.7,362.25 L54.4,361.91 L55.1,361.47 L55.8,360.63 L56.5,359.47 L57.2,358.05 L57.9,356.55 L58.6,355.09 L59.3,353.73 L60,352.34 L60.7,350.9 L61.4,349.45 L62.1,348.03 L62.8,346.7 L63.5,345.46 L64.2,344.23 L64.9,343 L65.6,341.84 L66.3,340.81 L67,339.96 L67.7,339.35 L68.4,338.82 L69.1,338.35 L69.8,338 L70.5,337.81 L71.2,337.84 L71.9,338 L72.6,338.25 L73.3,338.59 L74,338.97 L74.7,339.38 L75.4,339.86 L76.1,340.53 L76.8,341.34 L77.5,342.25 L78.2,343.22 L78.9,344.18 L79.6,345.09 L80.3,345.91 L81,346.68 L81.7,347.47 L82.4,348.24 L83.1,349.01 L83.8,349.75 L84.5,350.45 L85.2,351.09 L85.9,351.68 L86.6,352.2 L87.3,352.66 L88,353.09 L88.7,353.5 L89.4,353.89 L90.1,354.25 L90.8,354.6 L91.5,354.93 L92.2,355.25 L92.9,355.55 L93.6,355.84 L94.3,356.12 L95,356.4 L95.7,356.67 L96.4,356.94 L97.1,357.2 L97.8,357.46 L98.5,357.71 L99.2,357.94 L99.9,358.17 L100.6,358.39 L101.3,358.59 L102,358.77 L102.7,358.93 L103.4,359.08 L104.1,359.21 L104.8,359.34 L105.5,359.46 L106.2,359.58 L106.9,359.7 L107.6,359.81 L108.3,359.92 L109,360.03 L109.7,360.14 L110.4,360.24 L111.1,360.33 L111.8,360.43 L112.5,360.52 L113.2,360.61 L113.9,360.7 L114.6,360.78 L115.3,360.86 L116,360.94 L116.7,361.01 L117.4,361.08 L118.1,361.15 L118.8,361.22 L119.5,361.29 L120.2,361.35 L120.9,361.41 L121.6,361.47 L122.3,361.52 L123,361.58 L123.7,361.63 L124.4,361.68 L125.1,361.73 L125.8,361.77 L126.5,361.82 L127.2,361.87 L127.9,361.91 L128.6,361.95 L129.3,362 L130,362.04 L130.7,362.08 L131.4,362.12 L132.1,362.16 L132.8,362.2 L133.5,362.23 L134.2,362.27 L134.9,362.3 L135.6,362.34 L136.3,362.37 L137,362.4 L137.7,362.43 L138.4,362.46 L139.1,362.49 L139.8,362.52 L140.5,362.54 L141.2,362.57 L141.9,362.59 L142.6,362.61 L143.3,362.64 L144,362.66 L144.7,362.67 L145.4,362.69 L146.1,362.71 L146.8,362.72 L147.5,362.74 L148.2,362.75 L148.9,362.76 L149.6,362.78 L150.3,362.79 L151,362.8 L151.7,362.82 L152.4,362.83 L153.1,362.84 L153.8,362.85 L154.5,362.86 L155.2,362.87 L155.9,362.88 L156.6,362.89 L157.3,362.9 L158,362.91 L158.7,362.92 L159.4,362.93 L160.1,362.94 L160.8,362.95 L161.5,362.96 L162.2,362.97 L162.9,362.98 L163.6,362.98 L164.3,362.99 L165,363 L165.7,363.01 L166.4,363.02 L167.1,363.02 L167.8,363.03 L168.5,363.04 L169.2,363.05 L169.9,363.05 L170.6,363.06 L171.3,363.07 L172,363.08 L172.7,363.08 L173.4,363.09 L174.1,363.1 L174.8,363.11 L175.5,363.11 L176.2,363.12 L176.9,363.13 L177.6,363.14 L178.3,363.15 L179,363.16 L179.7,363.16 L180.4,363.17 L181.1,363.18 L181.8,363.19" stroke="#253494" fill="none" stroke-width="1.1" stroke-linejoin="round"/>
<line x1="71.3" y1="214.5" x2="71.3" y2="354" stroke="#888" stroke-width="0.9" stroke-dasharray="1.2,1.4"/>
<rect x="18" y="212.4" width="164.4" height="155.6" fill="none" stroke="#555" stroke-width="1" />
<line x1="17.8" y1="368" x2="17.8" y2="370.4" stroke="#555" stroke-width="1" />
<text x="17.8" y="381.5" font-size="10.6" text-anchor="middle" fill="#231f20" >300</text>
<line x1="34.25" y1="368" x2="34.25" y2="369.3" stroke="#555" stroke-width="0.8" />
<line x1="50.7" y1="368" x2="50.7" y2="370.4" stroke="#555" stroke-width="1" />
<text x="50.7" y="381.5" font-size="10.6" text-anchor="middle" fill="#231f20" >400</text>
<line x1="67.15" y1="368" x2="67.15" y2="369.3" stroke="#555" stroke-width="0.8" />
<line x1="83.6" y1="368" x2="83.6" y2="370.4" stroke="#555" stroke-width="1" />
<text x="83.6" y="381.5" font-size="10.6" text-anchor="middle" fill="#231f20" >500</text>
<line x1="100.05" y1="368" x2="100.05" y2="369.3" stroke="#555" stroke-width="0.8" />
<line x1="116.5" y1="368" x2="116.5" y2="370.4" stroke="#555" stroke-width="1" />
<text x="116.5" y="381.5" font-size="10.6" text-anchor="middle" fill="#231f20" >600</text>
<line x1="132.95" y1="368" x2="132.95" y2="369.3" stroke="#555" stroke-width="0.8" />
<line x1="149.4" y1="368" x2="149.4" y2="370.4" stroke="#555" stroke-width="1" />
<text x="149.4" y="381.5" font-size="10.6" text-anchor="middle" fill="#231f20" >700</text>
<line x1="165.85" y1="368" x2="165.85" y2="369.3" stroke="#555" stroke-width="0.8" />
<line x1="182.3" y1="368" x2="182.3" y2="370.4" stroke="#555" stroke-width="1" />
<text x="182.3" y="381.5" font-size="10.6" text-anchor="middle" fill="#231f20" >800</text>
<text x="107" y="396.2" font-size="10.6" text-anchor="middle" fill="#231f20" >Wavelength (nm)</text>
<text transform="translate(8.8,292) rotate(-90)" font-size="10.6" text-anchor="middle" fill="#231f20" >TIP intensity&#160;&#160;(arb. units)</text>
<text x="178" y="226.5" font-size="10.6" text-anchor="end" fill="#231f20" >CPND@</text>
<text x="178" y="237.6" font-size="10.6" text-anchor="end" fill="#231f20" >TMPyPB</text>
<text x="178" y="267.6" font-size="10.6" text-anchor="end" fill="#231f20" >T2T</text>
<text x="178" y="298.9" font-size="10.6" text-anchor="end" fill="#231f20" >PPF</text>
<text x="178" y="329.3" font-size="10.6" text-anchor="end" fill="#231f20" >TSPO1</text>
<text x="178" y="358.5" font-size="10.6" text-anchor="end" fill="#231f20" >DPEPO</text>
<text x="222.2" y="216" font-size="13.5" text-anchor="start" fill="#231f20" font-weight="bold">e</text>
<path d="M245.4,231.9 L245.55,229.97 L245.75,227.15 L245.99,223.99 L246.28,221.03 L246.6,218.8 L246.92,217.43 L247.23,216.57 L247.61,216.02 L248.11,215.59 L248.8,215.1 L249.77,214.49 L250.97,213.9 L252.27,213.39 L253.56,213.03 L254.7,212.9 L255.65,213.07 L256.5,213.5 L257.31,214.06 L258.15,214.63 L259.1,215.1 L260.03,215.47 L260.9,215.82 L261.88,216.14 L263.15,216.41 L264.9,216.6 L267.37,216.66 L270.46,216.6 L273.76,216.51 L276.91,216.48 L279.5,216.6 L281.43,216.9 L282.95,217.33 L284.23,217.82 L285.46,218.33 L286.8,218.8 L288.32,219.2 L289.9,219.57 L291.45,219.95 L292.88,220.38 L294.1,220.9 L295.08,221.48 L295.87,222.09 L296.54,222.78 L297.13,223.6 L297.7,224.6 L298.19,225.84 L298.58,227.29 L298.93,228.86 L299.34,230.43 L299.9,231.9 L300.62,233.34 L301.43,234.8 L302.33,236.21 L303.29,237.47 L304.3,238.5 L305.27,239.25 L306.21,239.77 L307.25,240.14 L308.54,240.43 L310.2,240.7 L312.25,240.94 L314.6,241.1 L317.24,241.21 L320.14,241.3 L323.3,241.4 L326.07,241.5 L328.45,241.59 L331.43,241.66 L335.95,241.73 L343,241.8 L354.38,241.87 L369.46,241.94 L385.5,242.01 L399.79,242.06 L409.6,242.1" stroke="#7fcdbb" fill="none" stroke-width="1.0" stroke-dasharray="3.2,2.2"/>
<path d="M279.5,243.1 L280.49,242.92 L281.89,242.71 L283.53,242.41 L285.22,241.98 L286.8,241.4 L288.28,240.59 L289.79,239.57 L291.29,238.45 L292.74,237.33 L294.1,236.3 L295.38,235.45 L296.6,234.7 L297.75,233.94 L298.85,233.05 L299.9,231.9 L300.87,230.4 L301.76,228.62 L302.61,226.72 L303.44,224.83 L304.3,223.1 L305.19,221.47 L306.1,219.85 L307,218.31 L307.87,216.94 L308.7,215.8 L309.47,214.92 L310.19,214.24 L310.89,213.74 L311.59,213.4 L312.3,213.2 L312.98,213.1 L313.6,213.11 L314.26,213.3 L315.03,213.71 L316,214.4 L317.23,215.47 L318.66,216.88 L320.21,218.49 L321.78,220.14 L323.3,221.7 L324.76,223.17 L326.22,224.66 L327.68,226.14 L329.14,227.59 L330.6,229 L332.1,230.42 L333.63,231.86 L335.14,233.25 L336.58,234.49 L337.9,235.5 L339.06,236.22 L340.1,236.7 L341.07,237.04 L342.02,237.34 L343,237.7 L343.99,238.13 L344.96,238.55 L345.93,238.97 L346.94,239.35 L348,239.7 L349.04,240 L350.04,240.25 L351.13,240.48 L352.41,240.69 L354,240.9 L355.49,241.11 L356.81,241.31 L358.57,241.49 L361.39,241.66 L365.9,241.8 L373.3,241.92 L383.19,242.02 L393.74,242.09 L403.15,242.15 L409.6,242.2" stroke="#7fcdbb" fill="none" stroke-width="1.0" />
<path d="M245.3,256 L245.74,254.83 L246.33,253.14 L247.06,251.22 L247.89,249.41 L248.8,248 L249.85,247.04 L251.06,246.31 L252.33,245.77 L253.58,245.35 L254.7,245 L255.65,244.73 L256.5,244.58 L257.31,244.54 L258.15,244.58 L259.1,244.7 L260.17,244.9 L261.32,245.18 L262.51,245.55 L263.72,245.99 L264.9,246.5 L266.01,247.15 L267.08,247.94 L268.16,248.78 L269.35,249.53 L270.7,250.1 L272.25,250.44 L273.94,250.63 L275.74,250.72 L277.6,250.79 L279.5,250.9 L281.54,251 L283.76,251.04 L285.97,251.11 L288.01,251.27 L289.7,251.6 L290.98,252.09 L291.95,252.69 L292.73,253.42 L293.41,254.28 L294.1,255.3 L294.75,256.53 L295.3,257.96 L295.8,259.51 L296.35,261.08 L297,262.6 L297.78,264.12 L298.65,265.7 L299.57,267.25 L300.5,268.68 L301.4,269.9 L301.76,270.91 L301.59,271.76 L301.68,272.47 L302.82,273.04 L305.8,273.5 L310.67,273.79 L316.91,273.9 L324.43,273.9 L333.15,273.88 L343,273.9 L355.5,273.97 L370.72,274.04 L386.34,274.11 L400.07,274.16 L409.6,274.2" stroke="#41b6c4" fill="none" stroke-width="1.0" stroke-dasharray="3.2,2.2"/>
<path d="M279.5,274.2 L280.49,274.07 L281.89,273.91 L283.53,273.69 L285.22,273.43 L286.8,273.1 L288.3,272.7 L289.83,272.22 L291.34,271.7 L292.78,271.15 L294.1,270.6 L295.28,270.1 L296.37,269.65 L297.37,269.15 L298.3,268.52 L299.2,267.7 L300.04,266.65 L300.82,265.43 L301.54,264.08 L302.23,262.62 L302.9,261.1 L303.53,259.43 L304.12,257.59 L304.68,255.71 L305.23,253.9 L305.8,252.3 L306.4,250.88 L307.02,249.57 L307.63,248.39 L308.2,247.36 L308.7,246.5 L309.1,245.83 L309.42,245.32 L309.71,244.97 L310.02,244.77 L310.4,244.7 L310.83,244.77 L311.26,244.97 L311.75,245.32 L312.35,245.83 L313.1,246.5 L313.97,247.37 L314.91,248.42 L316.01,249.62 L317.31,250.93 L318.9,252.3 L320.85,253.81 L323.12,255.48 L325.59,257.22 L328.12,258.89 L330.6,260.4 L333.06,261.73 L335.58,262.96 L338.11,264.1 L340.6,265.17 L343,266.2 L345.26,267.19 L347.42,268.12 L349.53,269 L351.67,269.79 L353.9,270.5 L356.23,271.11 L358.62,271.62 L361.05,272.06 L363.48,272.44 L365.9,272.8 L367.98,273.12 L369.75,273.4 L371.68,273.64 L374.24,273.84 L377.9,274 L383.49,274.12 L390.68,274.2 L398.26,274.24 L404.97,274.27 L409.6,274.3" stroke="#41b6c4" fill="none" stroke-width="1.0" />
<path d="M246.1,275.6 L246.42,275.75 L246.83,275.92 L247.36,276.17 L248.01,276.55 L248.8,277.1 L249.75,277.89 L250.86,278.88 L252.09,279.99 L253.38,281.12 L254.7,282.2 L256.02,283.23 L257.38,284.27 L258.8,285.31 L260.33,286.32 L262,287.3 L263.88,288.27 L265.94,289.25 L268.08,290.18 L270.2,291.02 L272.2,291.7 L274,292.2 L275.69,292.56 L277.35,292.82 L279.08,293.02 L281,293.2 L283.27,293.32 L285.82,293.34 L288.39,293.34 L290.74,293.4 L292.6,293.6 L293.85,293.95 L294.65,294.4 L295.21,294.92 L295.69,295.5 L296.3,296.1 L297.01,296.76 L297.71,297.49 L298.41,298.25 L299.13,299 L299.9,299.7 L300.66,300.37 L301.39,301.03 L302.18,301.67 L303.13,302.23 L304.3,302.7 L305.44,303.05 L306.49,303.3 L307.85,303.49 L309.92,303.64 L313.1,303.8 L317.14,303.96 L321.78,304.09 L327.38,304.2 L334.33,304.3 L343,304.4 L355.04,304.5 L370.19,304.59 L385.99,304.68 L399.96,304.75 L409.6,304.8" stroke="#1d91c0" fill="none" stroke-width="1.0" stroke-dasharray="3.2,2.2"/>
<path d="M282.4,305.8 L283.42,305.44 L284.86,304.94 L286.53,304.34 L288.21,303.68 L289.7,303 L291.01,302.32 L292.27,301.61 L293.47,300.84 L294.59,299.99 L295.6,299 L296.47,297.88 L297.2,296.65 L297.86,295.32 L298.51,293.9 L299.2,292.4 L299.92,290.75 L300.64,288.94 L301.37,287.08 L302.12,285.29 L302.9,283.7 L303.73,282.27 L304.61,280.92 L305.49,279.7 L306.37,278.65 L307.2,277.8 L307.98,277.19 L308.73,276.78 L309.46,276.54 L310.18,276.43 L310.9,276.4 L311.59,276.44 L312.24,276.58 L312.9,276.83 L313.63,277.23 L314.5,277.8 L315.51,278.58 L316.63,279.54 L317.83,280.64 L319.09,281.82 L320.4,283 L321.75,284.22 L323.15,285.5 L324.61,286.83 L326.13,288.17 L327.7,289.5 L329.38,290.88 L331.18,292.34 L333,293.77 L334.77,295.06 L336.4,296.1 L337.75,296.81 L338.87,297.27 L339.99,297.6 L341.29,297.9 L343,298.3 L345.17,298.82 L347.67,299.38 L350.39,299.95 L353.27,300.5 L356.2,301 L358.9,301.45 L361.41,301.88 L364.19,302.28 L367.68,302.65 L372.3,303 L379,303.34 L387.48,303.67 L396.35,303.97 L404.19,304.22 L409.6,304.4" stroke="#1d91c0" fill="none" stroke-width="1.0" />
<path d="M246.1,306.9 L246.23,306.98 L246.38,307.07 L246.59,307.2 L246.92,307.43 L247.4,307.8 L248.01,308.32 L248.73,308.97 L249.58,309.72 L250.6,310.54 L251.8,311.4 L253.22,312.34 L254.83,313.37 L256.6,314.44 L258.5,315.5 L260.5,316.5 L262.69,317.48 L265.1,318.49 L267.58,319.44 L270,320.27 L272.2,320.9 L274.1,321.28 L275.79,321.44 L277.42,321.49 L279.11,321.51 L281,321.6 L283.28,321.73 L285.85,321.85 L288.44,321.97 L290.79,322.15 L292.6,322.4 L293.75,322.7 L294.42,323.04 L294.82,323.44 L295.14,323.95 L295.6,324.6 L296.14,325.45 L296.63,326.47 L297.14,327.58 L297.74,328.68 L298.5,329.7 L299.38,330.66 L300.33,331.61 L301.42,332.52 L302.72,333.33 L304.3,334 L306.02,334.5 L307.82,334.86 L309.94,335.12 L312.59,335.32 L316,335.5 L319.79,335.64 L323.8,335.7 L328.61,335.73 L334.82,335.75 L343,335.8 L354.85,335.88 L369.99,335.97 L385.85,336.06 L399.91,336.14 L409.6,336.2" stroke="#225ea8" fill="none" stroke-width="1.0" stroke-dasharray="3.2,2.2"/>
<path d="M286.1,336.9 L286.99,336.64 L288.26,336.29 L289.73,335.86 L291.23,335.36 L292.6,334.8 L293.84,334.26 L295.08,333.71 L296.28,333.07 L297.43,332.24 L298.5,331.1 L299.49,329.56 L300.41,327.68 L301.27,325.62 L302.1,323.54 L302.9,321.6 L303.67,319.75 L304.39,317.89 L305.09,316.08 L305.79,314.4 L306.5,312.9 L307.22,311.53 L307.94,310.25 L308.67,309.14 L309.42,308.3 L310.2,307.8 L311,307.72 L311.8,307.98 L312.64,308.51 L313.53,309.21 L314.5,310 L315.56,310.91 L316.68,311.99 L317.86,313.2 L319.1,314.49 L320.4,315.8 L321.75,317.18 L323.15,318.65 L324.61,320.16 L326.13,321.66 L327.7,323.1 L329.38,324.52 L331.18,325.97 L333,327.36 L334.77,328.63 L336.4,329.7 L337.85,330.54 L339.17,331.2 L340.43,331.73 L341.69,332.18 L343,332.6 L344.33,332.98 L345.63,333.29 L346.96,333.54 L348.4,333.77 L350,334 L351.73,334.23 L353.54,334.45 L355.5,334.65 L357.63,334.83 L360,335 L362.37,335.15 L364.7,335.27 L367.35,335.39 L370.67,335.49 L375,335.6 L381.22,335.71 L389.09,335.83 L397.31,335.94 L404.58,336.03 L409.6,336.1" stroke="#225ea8" fill="none" stroke-width="1.0" />
<path d="M245.6,343.9 L245.84,343.15 L246.17,342.03 L246.56,340.81 L246.99,339.71 L247.4,339 L247.72,338.73 L247.97,338.73 L248.28,338.92 L248.78,339.2 L249.6,339.5 L250.72,339.82 L252.07,340.22 L253.65,340.69 L255.48,341.19 L257.6,341.7 L260.1,342.26 L262.96,342.88 L266.04,343.51 L269.17,344.1 L272.2,344.6 L275.26,345 L278.46,345.32 L281.59,345.6 L284.44,345.85 L286.8,346.1 L288.57,346.31 L289.89,346.47 L290.9,346.63 L291.76,346.85 L292.6,347.2 L293.38,347.65 L294.01,348.17 L294.54,348.77 L295.05,349.51 L295.6,350.4 L296.16,351.52 L296.7,352.83 L297.24,354.25 L297.83,355.68 L298.5,357 L299.24,358.27 L300.01,359.55 L300.86,360.78 L301.81,361.88 L302.9,362.8 L304.08,363.48 L305.33,363.97 L306.72,364.34 L308.32,364.66 L310.2,365 L312.34,365.36 L314.71,365.69 L317.31,365.99 L320.16,366.26 L323.3,366.5 L326.07,366.7 L328.45,366.85 L331.43,366.98 L335.95,367.09 L343,367.2 L354.38,367.31 L369.46,367.4 L385.5,367.48 L399.79,367.55 L409.6,367.6" stroke="#253494" fill="none" stroke-width="1.0" stroke-dasharray="3.2,2.2"/>
<path d="M282.4,368.2 L283.9,368.17 L286.09,368.14 L288.55,368.08 L290.86,367.95 L292.6,367.7 L293.66,367.37 L294.32,367 L294.75,366.52 L295.12,365.87 L295.6,365 L296.19,363.86 L296.77,362.48 L297.34,360.94 L297.92,359.32 L298.5,357.7 L299.08,356 L299.66,354.19 L300.24,352.35 L300.82,350.58 L301.4,349 L301.97,347.6 L302.52,346.33 L303.08,345.16 L303.67,344.09 L304.3,343.1 L305.03,342.19 L305.83,341.37 L306.65,340.64 L307.39,340.02 L308,339.5 L308.41,339.1 L308.69,338.82 L308.89,338.63 L309.11,338.53 L309.4,338.5 L309.75,338.53 L310.12,338.63 L310.52,338.82 L311.01,339.1 L311.6,339.5 L312.29,339.99 L313.06,340.58 L313.93,341.27 L314.9,342.1 L316,343.1 L317.27,344.33 L318.71,345.79 L320.24,347.35 L321.79,348.93 L323.3,350.4 L324.76,351.79 L326.22,353.16 L327.68,354.5 L329.14,355.79 L330.6,357 L332.06,358.16 L333.53,359.27 L334.99,360.32 L336.45,361.27 L337.9,362.1 L339.33,362.78 L340.76,363.34 L342.18,363.8 L343.59,364.21 L345,364.6 L346.36,364.96 L347.66,365.26 L348.99,365.53 L350.41,365.77 L352,366 L353.68,366.22 L355.4,366.42 L357.28,366.59 L359.44,366.75 L362,366.9 L364.9,367.03 L368.07,367.14 L371.58,367.23 L375.53,367.32 L380,367.4 L385.65,367.48 L392.43,367.55 L399.33,367.61 L405.39,367.66 L409.6,367.7" stroke="#253494" fill="none" stroke-width="1.0" />
<line x1="245.2" y1="243.2" x2="409.7" y2="243.2" stroke="#444" stroke-width="1" />
<line x1="245.2" y1="274.5" x2="409.7" y2="274.5" stroke="#444" stroke-width="1" />
<line x1="245.2" y1="306.3" x2="409.7" y2="306.3" stroke="#444" stroke-width="1" />
<line x1="245.2" y1="337.2" x2="409.7" y2="337.2" stroke="#444" stroke-width="1" />
<rect x="245.2" y="212.3" width="164.5" height="156.2" fill="none" stroke="#555" stroke-width="1" />
<line x1="244.8" y1="368.5" x2="244.8" y2="370.9" stroke="#555" stroke-width="1" />
<text x="244.8" y="381.8" font-size="10.6" text-anchor="middle" fill="#231f20" >300</text>
<line x1="265.45" y1="368.5" x2="265.45" y2="369.8" stroke="#555" stroke-width="0.8" />
<line x1="286.1" y1="368.5" x2="286.1" y2="370.9" stroke="#555" stroke-width="1" />
<text x="286.1" y="381.8" font-size="10.6" text-anchor="middle" fill="#231f20" >400</text>
<line x1="306.75" y1="368.5" x2="306.75" y2="369.8" stroke="#555" stroke-width="0.8" />
<line x1="327.4" y1="368.5" x2="327.4" y2="370.9" stroke="#555" stroke-width="1" />
<text x="327.4" y="381.8" font-size="10.6" text-anchor="middle" fill="#231f20" >500</text>
<line x1="348.05" y1="368.5" x2="348.05" y2="369.8" stroke="#555" stroke-width="0.8" />
<line x1="368.7" y1="368.5" x2="368.7" y2="370.9" stroke="#555" stroke-width="1" />
<text x="368.7" y="381.8" font-size="10.6" text-anchor="middle" fill="#231f20" >600</text>
<line x1="389.35" y1="368.5" x2="389.35" y2="369.8" stroke="#555" stroke-width="0.8" />
<line x1="410" y1="368.5" x2="410" y2="370.9" stroke="#555" stroke-width="1" />
<text x="410" y="381.8" font-size="10.6" text-anchor="middle" fill="#231f20" >700</text>
<text x="335.1" y="395.2" font-size="10.6" text-anchor="middle" fill="#231f20" >Wavelength (nm)</text>
<text transform="translate(220.2,294.8) rotate(-90)" font-size="10.6" text-anchor="middle" fill="#231f20" >Normalized Intensity&#160;&#160;(arb. units)</text>
<g transform="translate(237.3,290) rotate(-90)">
<line x1="-48.5" y1="-4.3" x2="-31" y2="-4.3" stroke="#231f20" stroke-width="1" stroke-dasharray="2.6,2.3"/>
<text x="-28" y="0" font-size="10.6" fill="#231f20">Abs.</text>
<line x1="8.8" y1="-4.3" x2="25.9" y2="-4.3" stroke="#555" stroke-width="1"/>
<text x="32" y="0" font-size="10.6" fill="#231f20">Flu.</text>
</g>
<text x="405.2" y="225.3" font-size="10.6" text-anchor="end" fill="#231f20" >CPND@</text>
<text x="405.2" y="237.5" font-size="10.6" text-anchor="end" fill="#231f20" >TMPyPB</text>
<text x="405.2" y="266.5" font-size="10.6" text-anchor="end" fill="#231f20" >T2T</text>
<text x="405.2" y="299.1" font-size="10.6" text-anchor="end" fill="#231f20" >PPF</text>
<text x="405.2" y="329.5" font-size="10.6" text-anchor="end" fill="#231f20" >TSPO1</text>
<text x="405.2" y="358.5" font-size="10.6" text-anchor="end" fill="#231f20" >DPEPO</text>
<text x="438.5" y="215.5" font-size="13.5" text-anchor="start" fill="#231f20" font-weight="bold">f</text>
<line x1="473.6" y1="271.2" x2="473.6" y2="215.5" stroke="#333" stroke-width="0.9" />
<path d="M473.6,212.6 L471.5,218 L475.7,218 Z" stroke="none" fill="#111" stroke-width="1" />
<line x1="473.6" y1="271.2" x2="680" y2="271.2" stroke="#333" stroke-width="0.9" />
<path d="M684.5,271.2 L679,269.1 L679,273.3 Z" stroke="none" fill="#111" stroke-width="1" />
<line x1="471.2" y1="224.3" x2="473.6" y2="224.3" stroke="#333" stroke-width="0.9" />
<line x1="471.2" y1="249.4" x2="473.6" y2="249.4" stroke="#333" stroke-width="0.9" />
<text x="468.2" y="228.1" font-size="10.6" text-anchor="end" fill="#231f20" >350</text>
<text x="468.2" y="253.2" font-size="10.6" text-anchor="end" fill="#231f20" >291</text>
<text transform="translate(444.2,245.5) rotate(-90)" font-size="10.6" text-anchor="middle" fill="#231f20" ><tspan font-style="italic">T</tspan> (K)</text>
<line x1="476.5" y1="242.9" x2="494.5" y2="242.9" stroke="#3a78c8" stroke-width="0.9" stroke-dasharray="1.2,1.2"/>
<path d="M474.4,242.9 L477,241.3 L477,244.5 Z" stroke="none" fill="#3a78c8" stroke-width="1" />
<path d="M497.2,242.9 L494.6,241.3 L494.6,244.5 Z" stroke="none" fill="#3a78c8" stroke-width="1" />
<line x1="501.5" y1="242.9" x2="557" y2="242.9" stroke="#3a78c8" stroke-width="0.9" stroke-dasharray="1.2,1.2"/>
<path d="M498.8,242.9 L501.4,241.3 L501.4,244.5 Z" stroke="none" fill="#3a78c8" stroke-width="1" />
<path d="M559.8,242.9 L557.2,241.3 L557.2,244.5 Z" stroke="none" fill="#3a78c8" stroke-width="1" />
<line x1="473.6" y1="249.3" x2="556" y2="249.3" stroke="#5b6fcc" stroke-width="1.5" />
<path d="M561,249.3 L555.5,246.5 L555.5,252.1 Z" stroke="none" fill="#2b3d9e" stroke-width="1" />
<line x1="561.6" y1="249" x2="664.5" y2="224.7" stroke="#2b3d9e" stroke-width="1.2" stroke-dasharray="1.6,1.4"/>
<path d="M668.8,223.7 L662.32,222.35 L663.6,227.8 Z" stroke="none" fill="#2b3d9e" stroke-width="1" />
<line x1="561.6" y1="240.2" x2="561.6" y2="253.5" stroke="#3a78c8" stroke-width="0.8" />
<path d="M561.6,256 L560,253 L563.2,253 Z" stroke="none" fill="#3a78c8" stroke-width="1" />
<text x="561.6" y="267.7" font-size="10.6" text-anchor="middle" fill="#231f20" >i</text>
<line x1="579.1" y1="236" x2="579.1" y2="249.1" stroke="#3a78c8" stroke-width="0.8" />
<path d="M579.1,251.6 L577.5,248.6 L580.7,248.6 Z" stroke="none" fill="#3a78c8" stroke-width="1" />
<text x="579.1" y="267.7" font-size="10.6" text-anchor="middle" fill="#231f20" >ii</text>
<line x1="597.1" y1="232.6" x2="597.1" y2="245.3" stroke="#3a78c8" stroke-width="0.8" />
<path d="M597.1,247.8 L595.5,244.8 L598.7,244.8 Z" stroke="none" fill="#3a78c8" stroke-width="1" />
<text x="597.1" y="267.7" font-size="10.6" text-anchor="middle" fill="#231f20" >iii</text>
<line x1="615" y1="228.8" x2="615" y2="241.5" stroke="#3a78c8" stroke-width="0.8" />
<path d="M615,244 L613.4,241 L616.6,241 Z" stroke="none" fill="#3a78c8" stroke-width="1" />
<text x="615" y="267.7" font-size="10.6" text-anchor="middle" fill="#231f20" >iv</text>
<line x1="632.4" y1="224.3" x2="632.4" y2="237" stroke="#3a78c8" stroke-width="0.8" />
<path d="M632.4,239.5 L630.8,236.5 L634,236.5 Z" stroke="none" fill="#3a78c8" stroke-width="1" />
<text x="632.4" y="267.7" font-size="10.6" text-anchor="middle" fill="#231f20" >v</text>
<line x1="650.4" y1="220" x2="650.4" y2="233.2" stroke="#3a78c8" stroke-width="0.8" />
<path d="M650.4,235.7 L648.8,232.7 L652,232.7 Z" stroke="none" fill="#3a78c8" stroke-width="1" />
<text x="650.4" y="267.7" font-size="10.6" text-anchor="middle" fill="#231f20" >vi</text>
<line x1="668.5" y1="216.1" x2="668.5" y2="229.2" stroke="#3a78c8" stroke-width="0.8" />
<path d="M668.5,231.7 L666.9,228.7 L670.1,228.7 Z" stroke="none" fill="#3a78c8" stroke-width="1" />
<text x="668.5" y="267.7" font-size="10.6" text-anchor="middle" fill="#231f20" >vii</text>
<text x="487" y="236" font-size="10.6" text-anchor="middle" fill="#231f20" >Ex.</text>
<text x="529.5" y="236" font-size="10.6" text-anchor="middle" fill="#231f20" >Holding</text>
<text x="595.4" y="223.7" font-size="10.6" text-anchor="middle" fill="#231f20" >Heating</text>
<rect x="473.3" y="277" width="210.4" height="90.6" fill="#000" stroke="none" stroke-width="1" />
<rect x="481" y="282" width="21.6" height="21.6" fill="#84dae2" stroke="none" stroke-width="1" rx="1.5"/>
<rect x="510.15" y="282" width="21.6" height="21.6" fill="#c6f1f5" stroke="none" stroke-width="1" rx="1.5"/>
<rect x="539.3" y="282" width="21.6" height="21.6" fill="#ffffff" stroke="none" stroke-width="1" rx="1.5"/>
<rect x="568.45" y="282" width="21.6" height="21.6" fill="#ffffff" stroke="none" stroke-width="1" rx="1.5"/>
<rect x="597.6" y="282" width="21.6" height="21.6" fill="#ffffff" stroke="none" stroke-width="1" rx="1.5"/>
<rect x="626.75" y="282" width="21.6" height="21.6" fill="#f3fcfd" stroke="none" stroke-width="1" rx="1.5"/>
<rect x="655.9" y="282" width="21.6" height="21.6" fill="#e0f7fa" stroke="none" stroke-width="1" rx="1.5"/>
<rect x="481" y="311.8" width="21.6" height="21.6" fill="url(#gt0)" stroke="none" stroke-width="1" rx="1.5"/>
<rect x="510.15" y="311.8" width="21.6" height="21.6" fill="url(#gt1)" stroke="none" stroke-width="1" rx="1.5"/>
<rect x="539.3" y="311.8" width="21.6" height="21.6" fill="url(#gt2)" stroke="none" stroke-width="1" rx="1.5"/>
<rect x="568.45" y="311.8" width="21.6" height="21.6" fill="url(#gt3)" stroke="none" stroke-width="1" rx="1.5"/>
<rect x="597.6" y="311.8" width="21.6" height="21.6" fill="url(#gt4)" stroke="none" stroke-width="1" rx="1.5"/>
<rect x="626.75" y="311.8" width="21.6" height="21.6" fill="url(#gt5)" stroke="none" stroke-width="1" rx="1.5"/>
<rect x="655.9" y="311.8" width="21.6" height="21.6" fill="url(#gt6)" stroke="none" stroke-width="1" rx="1.5"/>
<rect x="481" y="342" width="21.6" height="21.6" fill="#4cc8d2" stroke="none" stroke-width="1" rx="1.5"/>
<rect x="510.15" y="342" width="21.6" height="21.6" fill="#80dce3" stroke="none" stroke-width="1" rx="1.5"/>
<rect x="539.3" y="342" width="21.6" height="21.6" fill="#d3f4f7" stroke="none" stroke-width="1" rx="1.5"/>
<rect x="568.45" y="342" width="21.6" height="21.6" fill="#ffffff" stroke="none" stroke-width="1" rx="1.5"/>
<rect x="597.6" y="342" width="21.6" height="21.6" fill="#ffffff" stroke="none" stroke-width="1" rx="1.5"/>
<rect x="626.75" y="342" width="21.6" height="21.6" fill="#f2fbfc" stroke="none" stroke-width="1" rx="1.5"/>
<rect x="655.9" y="342" width="21.6" height="21.6" fill="#e3f8fa" stroke="none" stroke-width="1" rx="1.5"/>
<line x1="473.3" y1="307.6" x2="683.7" y2="307.6" stroke="#bbb" stroke-width="0.8" stroke-dasharray="2,1.6"/>
<line x1="473.3" y1="337.6" x2="683.7" y2="337.6" stroke="#bbb" stroke-width="0.8" stroke-dasharray="2,1.6"/>
<line x1="450.3" y1="273" x2="450.3" y2="371.6" stroke="#999" stroke-width="0.8" />
<text transform="translate(445.5,321.2) rotate(-90)" font-size="10.6" text-anchor="middle" fill="#231f20" >CPND@</text>
<text transform="translate(465.2,288.4) rotate(-90)" font-size="10.6" text-anchor="middle" fill="#231f20" >PPF</text>
<text transform="translate(465.2,322.3) rotate(-90)" font-size="10.6" text-anchor="middle" fill="#231f20" >TSPO1</text>
<text transform="translate(465.2,360.6) rotate(-90)" font-size="10.6" text-anchor="middle" fill="#231f20" >DPEPO</text>
<text x="491.8" y="381.5" font-size="10.6" text-anchor="middle" fill="#231f20" >i</text>
<text x="520.95" y="381.5" font-size="10.6" text-anchor="middle" fill="#231f20" >ii</text>
<text x="550.1" y="381.5" font-size="10.6" text-anchor="middle" fill="#231f20" >iii</text>
<text x="579.25" y="381.5" font-size="10.6" text-anchor="middle" fill="#231f20" >iv</text>
<text x="608.4" y="381.5" font-size="10.6" text-anchor="middle" fill="#231f20" >v</text>
<text x="637.55" y="381.5" font-size="10.6" text-anchor="middle" fill="#231f20" >vi</text>
<text x="666.7" y="381.5" font-size="10.6" text-anchor="middle" fill="#231f20" >vii</text>
<text x="574.7" y="397.2" font-size="10.6" text-anchor="middle" fill="#231f20" >Time</text>
<text x="0.5" y="424" font-size="13.5" text-anchor="start" fill="#231f20" font-weight="bold">g</text>
<line x1="10.3" y1="424.6" x2="437.4" y2="424.6" stroke="#808080" stroke-width="0.8" stroke-dasharray="1.5,1.1"/>
<line x1="10.3" y1="441.6" x2="437.4" y2="441.6" stroke="#808080" stroke-width="0.8" stroke-dasharray="1.5,1.1"/>
<line x1="10.3" y1="548.3" x2="437.4" y2="548.3" stroke="#808080" stroke-width="0.8" stroke-dasharray="1.5,1.1"/>
<line x1="10.3" y1="628.3" x2="437.4" y2="628.3" stroke="#808080" stroke-width="0.8" stroke-dasharray="1.5,1.1"/>
<line x1="10.3" y1="424.6" x2="10.3" y2="628.3" stroke="#808080" stroke-width="0.8" stroke-dasharray="1.5,1.1"/>
<line x1="437.4" y1="424.6" x2="437.4" y2="628.3" stroke="#808080" stroke-width="0.8" stroke-dasharray="1.5,1.1"/>
<line x1="29.6" y1="548.3" x2="29.6" y2="628.3" stroke="#808080" stroke-width="0.8" stroke-dasharray="1.5,1.1"/>
<text x="61.6" y="436.5" font-size="10.6" text-anchor="middle" fill="#231f20" >CPND<tspan font-size="5.6" dy="-4.2">&#8226;</tspan><tspan font-size="6.6" dy="0">&#8211;</tspan></text>
<text x="127.8" y="436.5" font-size="10.6" text-anchor="middle" fill="#231f20" >TMPyPB<tspan font-size="5.6" dy="-4.2">&#8226;</tspan><tspan font-size="6.6" dy="0">&#8211;</tspan></text>
<text x="201.5" y="436.5" font-size="10.6" text-anchor="middle" fill="#231f20" >T2T<tspan font-size="5.6" dy="-4.2">&#8226;</tspan><tspan font-size="6.6" dy="0">&#8211;</tspan></text>
<text x="266" y="436.5" font-size="10.6" text-anchor="middle" fill="#231f20" >PPF<tspan font-size="5.6" dy="-4.2">&#8226;</tspan><tspan font-size="6.6" dy="0">&#8211;</tspan></text>
<text x="335.5" y="436.5" font-size="10.6" text-anchor="middle" fill="#231f20" >TSPO1<tspan font-size="5.6" dy="-4.2">&#8226;</tspan><tspan font-size="6.6" dy="0">&#8211;</tspan></text>
<text x="406.7" y="436.5" font-size="10.6" text-anchor="middle" fill="#231f20" >DPEPO<tspan font-size="5.6" dy="-4.2">&#8226;</tspan><tspan font-size="6.6" dy="0">&#8211;</tspan></text>
<line x1="30.4" y1="544.2" x2="30.4" y2="452" stroke="#3a2e2e" stroke-width="1.1" />
<path d="M30.4,448.8 L28.3,453 L32.5,453 Z" stroke="none" fill="#3a2e2e" stroke-width="1" />
<text transform="translate(23.2,496.3) rotate(-90)" font-size="10.6" text-anchor="middle" fill="#231f20" >Cal. LUMO level (eV)</text>
<rect x="42.1" y="453.3" width="49.6" height="61.2" fill="#e9e9e9" stroke="none" stroke-width="1" rx="6.5"/>
<line x1="47.6" y1="459.7" x2="61.2" y2="459.7" stroke="#333" stroke-width="1" />
<line x1="65.3" y1="464.8" x2="80" y2="464.8" stroke="#888" stroke-width="0.8" stroke-dasharray="3,2.2"/>
<line x1="47.6" y1="487.4" x2="88.2" y2="487.4" stroke="#888" stroke-width="0.8" stroke-dasharray="3,2.2"/>
<rect x="54.2" y="462" width="1" height="23" fill="url(#ga)"/>
<path d="M54.7,459.9 L52.7,463.5 L56.7,463.5 Z" stroke="none" fill="#41b6c4" stroke-width="1" />
<path d="M54.7,487.2 L52.7,483.6 L56.7,483.6 Z" stroke="none" fill="#253494" stroke-width="1" />
<rect x="71.3" y="467" width="1" height="1.8" fill="url(#ga)"/>
<rect x="71.3" y="470" width="1" height="1.8" fill="url(#ga)"/>
<rect x="71.3" y="473" width="1" height="1.8" fill="url(#ga)"/>
<rect x="71.3" y="476" width="1" height="1.8" fill="url(#ga)"/>
<rect x="71.3" y="479" width="1" height="1.8" fill="url(#ga)"/>
<rect x="71.3" y="482" width="1" height="1.8" fill="url(#ga)"/>
<path d="M71.8,465 L69.8,468.6 L73.8,468.6 Z" stroke="none" fill="#41b6c4" stroke-width="1" />
<path d="M71.8,487.2 L69.8,483.6 L73.8,483.6 Z" stroke="none" fill="#253494" stroke-width="1" />
<text x="43.3" y="478" font-size="10.6" text-anchor="start" fill="#231f20" ><tspan font-style="italic">&#949;</tspan><tspan font-size="7" dy="1.5">C</tspan></text>
<text x="74.3" y="480" font-size="10.6" text-anchor="start" fill="#231f20" ><tspan font-style="italic">&#949;</tspan><tspan font-size="6.5" dy="1.5">avg</tspan></text>
<text x="66.5" y="497.8" font-size="10.6" text-anchor="middle" fill="#231f20" >Cal.</text>
<text x="66.5" y="508.2" font-size="10.6" text-anchor="middle" fill="#231f20" >trap depth</text>
<line x1="77" y1="535.5" x2="437" y2="535.5" stroke="#9a9a9a" stroke-width="0.9" stroke-dasharray="3,2.2"/>
<line x1="50.3" y1="535.5" x2="77" y2="535.5" stroke="#6f6363" stroke-width="1.3" />
<text x="39" y="532.5" font-size="10.6" text-anchor="start" fill="#231f20" font-style="italic">&#946;</text>
<text x="39.3" y="543.8" font-size="10.6" text-anchor="start" fill="#231f20" font-style="italic">&#945;</text>
<text x="53.8" y="532.5" font-size="10.6" text-anchor="start" fill="#231f20" >0.96</text>
<line x1="108.3" y1="478.6" x2="145.9" y2="478.6" stroke="#6f6363" stroke-width="1.2" />
<line x1="108.3" y1="512.8" x2="139.8" y2="512.8" stroke="#6f6363" stroke-width="1.2" />
<text x="97.6" y="480.3" font-size="10.6" text-anchor="start" fill="#231f20" font-style="italic">&#946;</text>
<text x="97.6" y="515" font-size="10.6" text-anchor="start" fill="#231f20" font-style="italic">&#945;</text>
<text x="113.5" y="474.8" font-size="10.6" text-anchor="start" fill="#231f20" >1.51</text>
<text x="111" y="522.8" font-size="10.6" text-anchor="start" fill="#231f20" >1.18</text>
<line x1="137.1" y1="515.9" x2="137.1" y2="532.3" stroke="#9adccb" stroke-width="1.0" />
<path d="M137.1,512.8 L135.1,516.4 L139.1,516.4 Z" stroke="none" fill="#9adccb" stroke-width="1" />
<path d="M137.1,535.4 L135.1,531.8 L139.1,531.8 Z" stroke="none" fill="#9adccb" stroke-width="1" />
<line x1="143.4" y1="481.7" x2="143.4" y2="532.3" stroke="#76c9b6" stroke-width="1.0" />
<path d="M143.4,478.6 L141.4,482.2 L145.4,482.2 Z" stroke="none" fill="#76c9b6" stroke-width="1" />
<path d="M143.4,535.4 L141.4,531.8 L145.4,531.8 Z" stroke="none" fill="#76c9b6" stroke-width="1" />
<line x1="148" y1="495.6" x2="161.7" y2="495.6" stroke="#9a9a9a" stroke-width="0.9" stroke-dasharray="3,2.2"/>
<line x1="154.5" y1="500.1" x2="154.5" y2="530.9" stroke="#76c9b6" stroke-width="1.8" stroke-dasharray="2.8,1.8"/>
<path d="M154.5,495.6 L151.6,500.6 L157.4,500.6 Z" stroke="none" fill="#76c9b6" stroke-width="1" />
<path d="M154.5,535.4 L151.6,530.4 L157.4,530.4 Z" stroke="none" fill="#76c9b6" stroke-width="1" />
<line x1="176.7" y1="494.4" x2="214" y2="494.4" stroke="#6f6363" stroke-width="1.2" />
<text x="165.3" y="491.6" font-size="10.6" text-anchor="start" fill="#231f20" font-style="italic">&#946;</text>
<text x="165.3" y="502.9" font-size="10.6" text-anchor="start" fill="#231f20" font-style="italic">&#945;</text>
<text x="181.2" y="490" font-size="10.6" text-anchor="start" fill="#231f20" >1.36</text>
<line x1="204.8" y1="497.5" x2="204.8" y2="532.3" stroke="#86d2de" stroke-width="1.0" />
<path d="M204.8,494.4 L202.8,498 L206.8,498 Z" stroke="none" fill="#86d2de" stroke-width="1" />
<path d="M204.8,535.4 L202.8,531.8 L206.8,531.8 Z" stroke="none" fill="#86d2de" stroke-width="1" />
<line x1="211.6" y1="497.5" x2="211.6" y2="532.3" stroke="#3fb4c4" stroke-width="1.0" />
<path d="M211.6,494.4 L209.6,498 L213.6,498 Z" stroke="none" fill="#3fb4c4" stroke-width="1" />
<path d="M211.6,535.4 L209.6,531.8 L213.6,531.8 Z" stroke="none" fill="#3fb4c4" stroke-width="1" />
<line x1="214" y1="494.4" x2="234.6" y2="494.4" stroke="#9a9a9a" stroke-width="0.9" stroke-dasharray="3,2.2"/>
<line x1="222.7" y1="498.9" x2="222.7" y2="530.9" stroke="#3fb4c4" stroke-width="1.8" stroke-dasharray="2.8,1.8"/>
<path d="M222.7,494.4 L219.8,499.4 L225.6,499.4 Z" stroke="none" fill="#3fb4c4" stroke-width="1" />
<path d="M222.7,535.4 L219.8,530.4 L225.6,530.4 Z" stroke="none" fill="#3fb4c4" stroke-width="1" />
<line x1="243.1" y1="477.6" x2="280.9" y2="477.6" stroke="#6f6363" stroke-width="1.2" />
<line x1="243.1" y1="486.2" x2="274.9" y2="486.2" stroke="#6f6363" stroke-width="1.2" />
<text x="232.7" y="480.4" font-size="10.6" text-anchor="start" fill="#231f20" font-style="italic">&#946;</text>
<text x="232.7" y="491.7" font-size="10.6" text-anchor="start" fill="#231f20" font-style="italic">&#945;</text>
<text x="246.6" y="473.2" font-size="10.6" text-anchor="start" fill="#231f20" >1.52</text>
<text x="246.6" y="498.2" font-size="10.6" text-anchor="start" fill="#231f20" >1.44</text>
<line x1="272.3" y1="489.3" x2="272.3" y2="532.3" stroke="#6cc0e8" stroke-width="1.0" />
<path d="M272.3,486.2 L270.3,489.8 L274.3,489.8 Z" stroke="none" fill="#6cc0e8" stroke-width="1" />
<path d="M272.3,535.4 L270.3,531.8 L274.3,531.8 Z" stroke="none" fill="#6cc0e8" stroke-width="1" />
<line x1="278.8" y1="480.7" x2="278.8" y2="532.3" stroke="#1d91c0" stroke-width="1.0" />
<path d="M278.8,477.6 L276.8,481.2 L280.8,481.2 Z" stroke="none" fill="#1d91c0" stroke-width="1" />
<path d="M278.8,535.4 L276.8,531.8 L280.8,531.8 Z" stroke="none" fill="#1d91c0" stroke-width="1" />
<line x1="283.6" y1="481.3" x2="295.9" y2="481.3" stroke="#9a9a9a" stroke-width="0.9" stroke-dasharray="3,2.2"/>
<line x1="290.1" y1="485.8" x2="290.1" y2="530.9" stroke="#1d91c0" stroke-width="1.8" stroke-dasharray="2.8,1.8"/>
<path d="M290.1,481.3 L287.2,486.3 L293,486.3 Z" stroke="none" fill="#1d91c0" stroke-width="1" />
<path d="M290.1,535.4 L287.2,530.4 L293,530.4 Z" stroke="none" fill="#1d91c0" stroke-width="1" />
<line x1="312" y1="462.4" x2="349.3" y2="462.4" stroke="#6f6363" stroke-width="1.2" />
<line x1="312" y1="465.7" x2="343.8" y2="465.7" stroke="#6f6363" stroke-width="1.2" />
<text x="301.3" y="461.2" font-size="10.6" text-anchor="start" fill="#231f20" font-style="italic">&#946;</text>
<text x="301.3" y="474.4" font-size="10.6" text-anchor="start" fill="#231f20" font-style="italic">&#945;</text>
<text x="314.9" y="457.9" font-size="10.6" text-anchor="start" fill="#231f20" >1.67</text>
<text x="314.9" y="478.3" font-size="10.6" text-anchor="start" fill="#231f20" >1.64</text>
<line x1="340.1" y1="468.8" x2="340.1" y2="532.3" stroke="#2a5db2" stroke-width="1.0" />
<path d="M340.1,465.7 L338.1,469.3 L342.1,469.3 Z" stroke="none" fill="#2a5db2" stroke-width="1" />
<path d="M340.1,535.4 L338.1,531.8 L342.1,531.8 Z" stroke="none" fill="#2a5db2" stroke-width="1" />
<line x1="346.6" y1="465.5" x2="346.6" y2="532.3" stroke="#74a0dc" stroke-width="1.0" />
<path d="M346.6,462.4 L344.6,466 L348.6,466 Z" stroke="none" fill="#74a0dc" stroke-width="1" />
<path d="M346.6,535.4 L344.6,531.8 L348.6,531.8 Z" stroke="none" fill="#74a0dc" stroke-width="1" />
<line x1="349.3" y1="464.4" x2="363.5" y2="464.4" stroke="#9a9a9a" stroke-width="0.9" stroke-dasharray="3,2.2"/>
<line x1="358" y1="468.9" x2="358" y2="530.9" stroke="#2a5db2" stroke-width="1.8" stroke-dasharray="2.8,1.8"/>
<path d="M358,464.4 L355.1,469.4 L360.9,469.4 Z" stroke="none" fill="#2a5db2" stroke-width="1" />
<path d="M358,535.4 L355.1,530.4 L360.9,530.4 Z" stroke="none" fill="#2a5db2" stroke-width="1" />
<line x1="379.9" y1="458.5" x2="418.2" y2="458.5" stroke="#6f6363" stroke-width="1.2" />
<line x1="379.9" y1="467.3" x2="411.7" y2="467.3" stroke="#6f6363" stroke-width="1.2" />
<text x="369.6" y="460.1" font-size="10.6" text-anchor="start" fill="#231f20" font-style="italic">&#946;</text>
<text x="369.6" y="473.3" font-size="10.6" text-anchor="start" fill="#231f20" font-style="italic">&#945;</text>
<text x="384.3" y="453.5" font-size="10.6" text-anchor="start" fill="#231f20" >1.71</text>
<text x="384.3" y="477.6" font-size="10.6" text-anchor="start" fill="#231f20" >1.63</text>
<line x1="408.8" y1="470.4" x2="408.8" y2="532.3" stroke="#4a58b8" stroke-width="1.0" />
<path d="M408.8,467.3 L406.8,470.9 L410.8,470.9 Z" stroke="none" fill="#4a58b8" stroke-width="1" />
<path d="M408.8,535.4 L406.8,531.8 L410.8,531.8 Z" stroke="none" fill="#4a58b8" stroke-width="1" />
<line x1="415.4" y1="461.6" x2="415.4" y2="532.3" stroke="#253494" stroke-width="1.0" />
<path d="M415.4,458.5 L413.4,462.1 L417.4,462.1 Z" stroke="none" fill="#253494" stroke-width="1" />
<path d="M415.4,535.4 L413.4,531.8 L417.4,531.8 Z" stroke="none" fill="#253494" stroke-width="1" />
<line x1="418.2" y1="461.8" x2="434.7" y2="461.8" stroke="#9a9a9a" stroke-width="0.9" stroke-dasharray="3,2.2"/>
<line x1="426.3" y1="466.3" x2="426.3" y2="530.9" stroke="#253494" stroke-width="1.8" stroke-dasharray="2.8,1.8"/>
<path d="M426.3,461.8 L423.4,466.8 L429.2,466.8 Z" stroke="none" fill="#253494" stroke-width="1" />
<path d="M426.3,535.4 L423.4,530.4 L429.2,530.4 Z" stroke="none" fill="#253494" stroke-width="1" />
<text x="20.1" y="570.5" font-size="10.6" text-anchor="middle" fill="#231f20" font-style="italic">&#945;</text>
<text x="20.1" y="609.5" font-size="10.6" text-anchor="middle" fill="#231f20" font-style="italic">&#946;</text>
<path d="M50.65,571.95 L49,572.9 L47.35,571.95 L47.35,570.05 L49,569.1 L50.65,570.05 L50.65,571.95" stroke="#9c9c9c" fill="#e4e4e4" stroke-width="1.0" />
<circle cx="50.65" cy="571.95" r="0.6" fill="#7a7a7a" />
<circle cx="49" cy="572.9" r="0.6" fill="#7a7a7a" />
<circle cx="47.35" cy="571.95" r="0.6" fill="#7a7a7a" />
<circle cx="47.35" cy="570.05" r="0.6" fill="#7a7a7a" />
<circle cx="49" cy="569.1" r="0.6" fill="#7a7a7a" />
<circle cx="50.65" cy="570.05" r="0.6" fill="#7a7a7a" />
<path d="M54.65,575.95 L53,576.9 L51.35,575.95 L51.35,574.05 L53,573.1 L54.65,574.05 L54.65,575.95" stroke="#9c9c9c" fill="#e4e4e4" stroke-width="1.0" />
<circle cx="54.65" cy="575.95" r="0.6" fill="#7a7a7a" />
<circle cx="53" cy="576.9" r="0.6" fill="#7a7a7a" />
<circle cx="51.35" cy="575.95" r="0.6" fill="#7a7a7a" />
<circle cx="51.35" cy="574.05" r="0.6" fill="#7a7a7a" />
<circle cx="53" cy="573.1" r="0.6" fill="#7a7a7a" />
<circle cx="54.65" cy="574.05" r="0.6" fill="#7a7a7a" />
<path d="M58.65,578.95 L57,579.9 L55.35,578.95 L55.35,577.05 L57,576.1 L58.65,577.05 L58.65,578.95" stroke="#9c9c9c" fill="#e4e4e4" stroke-width="1.0" />
<circle cx="58.65" cy="578.95" r="0.6" fill="#7a7a7a" />
<circle cx="57" cy="579.9" r="0.6" fill="#7a7a7a" />
<circle cx="55.35" cy="578.95" r="0.6" fill="#7a7a7a" />
<circle cx="55.35" cy="577.05" r="0.6" fill="#7a7a7a" />
<circle cx="57" cy="576.1" r="0.6" fill="#7a7a7a" />
<circle cx="58.65" cy="577.05" r="0.6" fill="#7a7a7a" />
<path d="M62.35,581.45 L60.7,582.4 L59.05,581.45 L59.05,579.55 L60.7,578.6 L62.35,579.55 L62.35,581.45" stroke="#9c9c9c" fill="#e4e4e4" stroke-width="1.0" />
<circle cx="62.35" cy="581.45" r="0.6" fill="#7a7a7a" />
<circle cx="60.7" cy="582.4" r="0.6" fill="#7a7a7a" />
<circle cx="59.05" cy="581.45" r="0.6" fill="#7a7a7a" />
<circle cx="59.05" cy="579.55" r="0.6" fill="#7a7a7a" />
<circle cx="60.7" cy="578.6" r="0.6" fill="#7a7a7a" />
<circle cx="62.35" cy="579.55" r="0.6" fill="#7a7a7a" />
<path d="M66.05,578.95 L64.4,579.9 L62.75,578.95 L62.75,577.05 L64.4,576.1 L66.05,577.05 L66.05,578.95" stroke="#9c9c9c" fill="#e4e4e4" stroke-width="1.0" />
<circle cx="66.05" cy="578.95" r="0.6" fill="#7a7a7a" />
<circle cx="64.4" cy="579.9" r="0.6" fill="#7a7a7a" />
<circle cx="62.75" cy="578.95" r="0.6" fill="#7a7a7a" />
<circle cx="62.75" cy="577.05" r="0.6" fill="#7a7a7a" />
<circle cx="64.4" cy="576.1" r="0.6" fill="#7a7a7a" />
<circle cx="66.05" cy="577.05" r="0.6" fill="#7a7a7a" />
<path d="M70.05,575.95 L68.4,576.9 L66.75,575.95 L66.75,574.05 L68.4,573.1 L70.05,574.05 L70.05,575.95" stroke="#9c9c9c" fill="#e4e4e4" stroke-width="1.0" />
<circle cx="70.05" cy="575.95" r="0.6" fill="#7a7a7a" />
<circle cx="68.4" cy="576.9" r="0.6" fill="#7a7a7a" />
<circle cx="66.75" cy="575.95" r="0.6" fill="#7a7a7a" />
<circle cx="66.75" cy="574.05" r="0.6" fill="#7a7a7a" />
<circle cx="68.4" cy="573.1" r="0.6" fill="#7a7a7a" />
<circle cx="70.05" cy="574.05" r="0.6" fill="#7a7a7a" />
<path d="M74.05,571.95 L72.4,572.9 L70.75,571.95 L70.75,570.05 L72.4,569.1 L74.05,570.05 L74.05,571.95" stroke="#9c9c9c" fill="#e4e4e4" stroke-width="1.0" />
<circle cx="74.05" cy="571.95" r="0.6" fill="#7a7a7a" />
<circle cx="72.4" cy="572.9" r="0.6" fill="#7a7a7a" />
<circle cx="70.75" cy="571.95" r="0.6" fill="#7a7a7a" />
<circle cx="70.75" cy="570.05" r="0.6" fill="#7a7a7a" />
<circle cx="72.4" cy="569.1" r="0.6" fill="#7a7a7a" />
<circle cx="74.05" cy="570.05" r="0.6" fill="#7a7a7a" />
<path d="M58.65,583.45 L57,584.4 L55.35,583.45 L55.35,581.55 L57,580.6 L58.65,581.55 L58.65,583.45" stroke="#9c9c9c" fill="#e4e4e4" stroke-width="1.0" />
<circle cx="58.65" cy="583.45" r="0.6" fill="#7a7a7a" />
<circle cx="57" cy="584.4" r="0.6" fill="#7a7a7a" />
<circle cx="55.35" cy="583.45" r="0.6" fill="#7a7a7a" />
<circle cx="55.35" cy="581.55" r="0.6" fill="#7a7a7a" />
<circle cx="57" cy="580.6" r="0.6" fill="#7a7a7a" />
<circle cx="58.65" cy="581.55" r="0.6" fill="#7a7a7a" />
<path d="M66.05,583.45 L64.4,584.4 L62.75,583.45 L62.75,581.55 L64.4,580.6 L66.05,581.55 L66.05,583.45" stroke="#9c9c9c" fill="#e4e4e4" stroke-width="1.0" />
<circle cx="66.05" cy="583.45" r="0.6" fill="#7a7a7a" />
<circle cx="64.4" cy="584.4" r="0.6" fill="#7a7a7a" />
<circle cx="62.75" cy="583.45" r="0.6" fill="#7a7a7a" />
<circle cx="62.75" cy="581.55" r="0.6" fill="#7a7a7a" />
<circle cx="64.4" cy="580.6" r="0.6" fill="#7a7a7a" />
<circle cx="66.05" cy="581.55" r="0.6" fill="#7a7a7a" />
<path d="M62.35,577.45 L60.7,578.4 L59.05,577.45 L59.05,575.55 L60.7,574.6 L62.35,575.55 L62.35,577.45" stroke="#9c9c9c" fill="#e4e4e4" stroke-width="1.0" />
<circle cx="62.35" cy="577.45" r="0.6" fill="#7a7a7a" />
<circle cx="60.7" cy="578.4" r="0.6" fill="#7a7a7a" />
<circle cx="59.05" cy="577.45" r="0.6" fill="#7a7a7a" />
<circle cx="59.05" cy="575.55" r="0.6" fill="#7a7a7a" />
<circle cx="60.7" cy="574.6" r="0.6" fill="#7a7a7a" />
<circle cx="62.35" cy="575.55" r="0.6" fill="#7a7a7a" />
<circle cx="46" cy="574" r="0.6" fill="#c8c8c8" />
<circle cx="50" cy="578" r="0.6" fill="#c8c8c8" />
<circle cx="55" cy="585" r="0.6" fill="#c8c8c8" />
<circle cx="60.7" cy="586" r="0.6" fill="#c8c8c8" />
<circle cx="66" cy="585" r="0.6" fill="#c8c8c8" />
<circle cx="71" cy="578" r="0.6" fill="#c8c8c8" />
<circle cx="75" cy="574" r="0.6" fill="#c8c8c8" />
<circle cx="52" cy="568" r="0.6" fill="#c8c8c8" />
<circle cx="70" cy="568" r="0.6" fill="#c8c8c8" />
<circle cx="57.9" cy="573.3" r="0.9" fill="#2233cc" />
<circle cx="63.6" cy="573.3" r="0.9" fill="#2233cc" />
<ellipse cx="43.33" cy="567.88" rx="2.04" ry="1.64" fill="url(#gy)" transform="rotate(124.6 43.33 567.88)"/>
<ellipse cx="43.04" cy="558.99" rx="1.92" ry="1.54" fill="url(#gy)" transform="rotate(213.66 43.04 558.99)"/>
<ellipse cx="40.79" cy="569.77" rx="2.91" ry="2.32" fill="url(#gy)" transform="rotate(67.74 40.79 569.77)"/>
<ellipse cx="39.88" cy="565.94" rx="2.72" ry="2.17" fill="url(#gy)" transform="rotate(218.07 39.88 565.94)"/>
<ellipse cx="34.02" cy="561.68" rx="2.3" ry="1.84" fill="url(#gb)" transform="rotate(173.53 34.02 561.68)"/>
<ellipse cx="38.94" cy="571.12" rx="2.52" ry="2.02" fill="url(#gb)" transform="rotate(27.74 38.94 571.12)"/>
<ellipse cx="36.94" cy="568.63" rx="2.15" ry="1.72" fill="url(#gb)" transform="rotate(43.74 36.94 568.63)"/>
<ellipse cx="41.58" cy="564.56" rx="2.47" ry="1.97" fill="url(#gb)" transform="rotate(50.07 41.58 564.56)"/>
<ellipse cx="34.28" cy="562.79" rx="2.69" ry="2.15" fill="url(#gb)" transform="rotate(80.54 34.28 562.79)"/>
<ellipse cx="39.62" cy="560.91" rx="2.61" ry="2.09" fill="url(#gb)" transform="rotate(173.66 39.62 560.91)"/>
<ellipse cx="38.01" cy="563.05" rx="2.41" ry="1.93" fill="url(#gb)" transform="rotate(174.77 38.01 563.05)"/>
<ellipse cx="42.62" cy="567.14" rx="2.42" ry="1.93" fill="url(#gy)" transform="rotate(177.93 42.62 567.14)"/>
<ellipse cx="37.61" cy="562.41" rx="2.02" ry="1.62" fill="url(#gy)" transform="rotate(120.54 37.61 562.41)"/>
<ellipse cx="40.41" cy="567.48" rx="1.96" ry="1.56" fill="url(#gy)" transform="rotate(83.74 40.41 567.48)"/>
<ellipse cx="46.94" cy="567.23" rx="2.1" ry="1.68" fill="url(#gb)" transform="rotate(84.6 46.94 567.23)"/>
<ellipse cx="38.55" cy="558.43" rx="2.03" ry="1.62" fill="url(#gy)" transform="rotate(153.38 38.55 558.43)"/>
<ellipse cx="35.32" cy="565.02" rx="2.35" ry="1.88" fill="url(#gy)" transform="rotate(214.77 35.32 565.02)"/>
<ellipse cx="36.05" cy="567.35" rx="2.73" ry="2.18" fill="url(#gb)" transform="rotate(178.07 36.05 567.35)"/>
<ellipse cx="41.53" cy="562.39" rx="2.33" ry="1.87" fill="url(#gy)" transform="rotate(45.41 41.53 562.39)"/>
<ellipse cx="44.75" cy="562.68" rx="2.38" ry="1.9" fill="url(#gy)" transform="rotate(90.07 44.75 562.68)"/>
<ellipse cx="36.1" cy="559.96" rx="2.25" ry="1.8" fill="url(#gy)" transform="rotate(213.53 36.1 559.96)"/>
<ellipse cx="42.99" cy="561.23" rx="2.14" ry="1.72" fill="url(#gb)" transform="rotate(5.41 42.99 561.23)"/>
<ellipse cx="46.24" cy="565.17" rx="2.27" ry="1.82" fill="url(#gb)" transform="rotate(137.93 46.24 565.17)"/>
<ellipse cx="41.77" cy="556.79" rx="2.53" ry="2.03" fill="url(#gb)" transform="rotate(113.38 41.77 556.79)"/>
<path d="M82.25,566.3 L80,567.6 L77.75,566.3 L77.75,563.7 L80,562.4 L82.25,563.7 L82.25,566.3" stroke="#9c9c9c" fill="#e4e4e4" stroke-width="1.0" />
<circle cx="82.25" cy="566.3" r="0.6" fill="#7a7a7a" />
<circle cx="80" cy="567.6" r="0.6" fill="#7a7a7a" />
<circle cx="77.75" cy="566.3" r="0.6" fill="#7a7a7a" />
<circle cx="77.75" cy="563.7" r="0.6" fill="#7a7a7a" />
<circle cx="80" cy="562.4" r="0.6" fill="#7a7a7a" />
<circle cx="82.25" cy="563.7" r="0.6" fill="#7a7a7a" />
<path d="M86.08,563.2 L84,564.4 L81.92,563.2 L81.92,560.8 L84,559.6 L86.08,560.8 L86.08,563.2" stroke="#9c9c9c" fill="#e4e4e4" stroke-width="1.0" />
<circle cx="86.08" cy="563.2" r="0.6" fill="#7a7a7a" />
<circle cx="84" cy="564.4" r="0.6" fill="#7a7a7a" />
<circle cx="81.92" cy="563.2" r="0.6" fill="#7a7a7a" />
<circle cx="81.92" cy="560.8" r="0.6" fill="#7a7a7a" />
<circle cx="84" cy="559.6" r="0.6" fill="#7a7a7a" />
<circle cx="86.08" cy="560.8" r="0.6" fill="#7a7a7a" />
<ellipse cx="79.54" cy="561.21" rx="1.58" ry="1.26" fill="url(#gy)" transform="rotate(47.62 79.54 561.21)"/>
<ellipse cx="86.72" cy="565.55" rx="1.73" ry="1.39" fill="url(#gy)" transform="rotate(175.86 86.72 565.55)"/>
<ellipse cx="82.53" cy="566.52" rx="1.62" ry="1.3" fill="url(#gb)" transform="rotate(87.25 82.53 566.52)"/>
<ellipse cx="76.04" cy="560.92" rx="1.66" ry="1.32" fill="url(#gy)" transform="rotate(130.92 76.04 560.92)"/>
<ellipse cx="82.81" cy="562.43" rx="1.56" ry="1.25" fill="url(#gb)" transform="rotate(171.35 82.81 562.43)"/>
<ellipse cx="81.09" cy="565.27" rx="1.73" ry="1.38" fill="url(#gy)" transform="rotate(211.35 81.09 565.27)"/>
<ellipse cx="84.73" cy="563.8" rx="1.76" ry="1.41" fill="url(#gy)" transform="rotate(127.25 84.73 563.8)"/>
<ellipse cx="78.49" cy="561.92" rx="1.79" ry="1.43" fill="url(#gb)" transform="rotate(7.62 78.49 561.92)"/>
<ellipse cx="77.36" cy="558.61" rx="1.79" ry="1.43" fill="url(#gb)" transform="rotate(90.92 77.36 558.61)"/>
<ellipse cx="84.71" cy="568.01" rx="1.5" ry="1.2" fill="url(#gb)" transform="rotate(135.86 84.71 568.01)"/>
<path d="M50.65,611.15 L49,612.1 L47.35,611.15 L47.35,609.25 L49,608.3 L50.65,609.25 L50.65,611.15" stroke="#9c9c9c" fill="#e4e4e4" stroke-width="1.0" />
<circle cx="50.65" cy="611.15" r="0.6" fill="#7a7a7a" />
<circle cx="49" cy="612.1" r="0.6" fill="#7a7a7a" />
<circle cx="47.35" cy="611.15" r="0.6" fill="#7a7a7a" />
<circle cx="47.35" cy="609.25" r="0.6" fill="#7a7a7a" />
<circle cx="49" cy="608.3" r="0.6" fill="#7a7a7a" />
<circle cx="50.65" cy="609.25" r="0.6" fill="#7a7a7a" />
<path d="M54.65,615.15 L53,616.1 L51.35,615.15 L51.35,613.25 L53,612.3 L54.65,613.25 L54.65,615.15" stroke="#9c9c9c" fill="#e4e4e4" stroke-width="1.0" />
<circle cx="54.65" cy="615.15" r="0.6" fill="#7a7a7a" />
<circle cx="53" cy="616.1" r="0.6" fill="#7a7a7a" />
<circle cx="51.35" cy="615.15" r="0.6" fill="#7a7a7a" />
<circle cx="51.35" cy="613.25" r="0.6" fill="#7a7a7a" />
<circle cx="53" cy="612.3" r="0.6" fill="#7a7a7a" />
<circle cx="54.65" cy="613.25" r="0.6" fill="#7a7a7a" />
<path d="M58.65,618.15 L57,619.1 L55.35,618.15 L55.35,616.25 L57,615.3 L58.65,616.25 L58.65,618.15" stroke="#9c9c9c" fill="#e4e4e4" stroke-width="1.0" />
<circle cx="58.65" cy="618.15" r="0.6" fill="#7a7a7a" />
<circle cx="57" cy="619.1" r="0.6" fill="#7a7a7a" />
<circle cx="55.35" cy="618.15" r="0.6" fill="#7a7a7a" />
<circle cx="55.35" cy="616.25" r="0.6" fill="#7a7a7a" />
<circle cx="57" cy="615.3" r="0.6" fill="#7a7a7a" />
<circle cx="58.65" cy="616.25" r="0.6" fill="#7a7a7a" />
<path d="M62.35,620.65 L60.7,621.6 L59.05,620.65 L59.05,618.75 L60.7,617.8 L62.35,618.75 L62.35,620.65" stroke="#9c9c9c" fill="#e4e4e4" stroke-width="1.0" />
<circle cx="62.35" cy="620.65" r="0.6" fill="#7a7a7a" />
<circle cx="60.7" cy="621.6" r="0.6" fill="#7a7a7a" />
<circle cx="59.05" cy="620.65" r="0.6" fill="#7a7a7a" />
<circle cx="59.05" cy="618.75" r="0.6" fill="#7a7a7a" />
<circle cx="60.7" cy="617.8" r="0.6" fill="#7a7a7a" />
<circle cx="62.35" cy="618.75" r="0.6" fill="#7a7a7a" />
<path d="M66.05,618.15 L64.4,619.1 L62.75,618.15 L62.75,616.25 L64.4,615.3 L66.05,616.25 L66.05,618.15" stroke="#9c9c9c" fill="#e4e4e4" stroke-width="1.0" />
<circle cx="66.05" cy="618.15" r="0.6" fill="#7a7a7a" />
<circle cx="64.4" cy="619.1" r="0.6" fill="#7a7a7a" />
<circle cx="62.75" cy="618.15" r="0.6" fill="#7a7a7a" />
<circle cx="62.75" cy="616.25" r="0.6" fill="#7a7a7a" />
<circle cx="64.4" cy="615.3" r="0.6" fill="#7a7a7a" />
<circle cx="66.05" cy="616.25" r="0.6" fill="#7a7a7a" />
<path d="M70.05,615.15 L68.4,616.1 L66.75,615.15 L66.75,613.25 L68.4,612.3 L70.05,613.25 L70.05,615.15" stroke="#9c9c9c" fill="#e4e4e4" stroke-width="1.0" />
<circle cx="70.05" cy="615.15" r="0.6" fill="#7a7a7a" />
<circle cx="68.4" cy="616.1" r="0.6" fill="#7a7a7a" />
<circle cx="66.75" cy="615.15" r="0.6" fill="#7a7a7a" />
<circle cx="66.75" cy="613.25" r="0.6" fill="#7a7a7a" />
<circle cx="68.4" cy="612.3" r="0.6" fill="#7a7a7a" />
<circle cx="70.05" cy="613.25" r="0.6" fill="#7a7a7a" />
<path d="M74.05,611.15 L72.4,612.1 L70.75,611.15 L70.75,609.25 L72.4,608.3 L74.05,609.25 L74.05,611.15" stroke="#9c9c9c" fill="#e4e4e4" stroke-width="1.0" />
<circle cx="74.05" cy="611.15" r="0.6" fill="#7a7a7a" />
<circle cx="72.4" cy="612.1" r="0.6" fill="#7a7a7a" />
<circle cx="70.75" cy="611.15" r="0.6" fill="#7a7a7a" />
<circle cx="70.75" cy="609.25" r="0.6" fill="#7a7a7a" />
<circle cx="72.4" cy="608.3" r="0.6" fill="#7a7a7a" />
<circle cx="74.05" cy="609.25" r="0.6" fill="#7a7a7a" />
<path d="M58.65,622.65 L57,623.6 L55.35,622.65 L55.35,620.75 L57,619.8 L58.65,620.75 L58.65,622.65" stroke="#9c9c9c" fill="#e4e4e4" stroke-width="1.0" />
<circle cx="58.65" cy="622.65" r="0.6" fill="#7a7a7a" />
<circle cx="57" cy="623.6" r="0.6" fill="#7a7a7a" />
<circle cx="55.35" cy="622.65" r="0.6" fill="#7a7a7a" />
<circle cx="55.35" cy="620.75" r="0.6" fill="#7a7a7a" />
<circle cx="57" cy="619.8" r="0.6" fill="#7a7a7a" />
<circle cx="58.65" cy="620.75" r="0.6" fill="#7a7a7a" />
<path d="M66.05,622.65 L64.4,623.6 L62.75,622.65 L62.75,620.75 L64.4,619.8 L66.05,620.75 L66.05,622.65" stroke="#9c9c9c" fill="#e4e4e4" stroke-width="1.0" />
<circle cx="66.05" cy="622.65" r="0.6" fill="#7a7a7a" />
<circle cx="64.4" cy="623.6" r="0.6" fill="#7a7a7a" />
<circle cx="62.75" cy="622.65" r="0.6" fill="#7a7a7a" />
<circle cx="62.75" cy="620.75" r="0.6" fill="#7a7a7a" />
<circle cx="64.4" cy="619.8" r="0.6" fill="#7a7a7a" />
<circle cx="66.05" cy="620.75" r="0.6" fill="#7a7a7a" />
<path d="M62.35,616.65 L60.7,617.6 L59.05,616.65 L59.05,614.75 L60.7,613.8 L62.35,614.75 L62.35,616.65" stroke="#9c9c9c" fill="#e4e4e4" stroke-width="1.0" />
<circle cx="62.35" cy="616.65" r="0.6" fill="#7a7a7a" />
<circle cx="60.7" cy="617.6" r="0.6" fill="#7a7a7a" />
<circle cx="59.05" cy="616.65" r="0.6" fill="#7a7a7a" />
<circle cx="59.05" cy="614.75" r="0.6" fill="#7a7a7a" />
<circle cx="60.7" cy="613.8" r="0.6" fill="#7a7a7a" />
<circle cx="62.35" cy="614.75" r="0.6" fill="#7a7a7a" />
<circle cx="46" cy="613.2" r="0.6" fill="#c8c8c8" />
<circle cx="50" cy="617.2" r="0.6" fill="#c8c8c8" />
<circle cx="55" cy="624.2" r="0.6" fill="#c8c8c8" />
<circle cx="60.7" cy="625.2" r="0.6" fill="#c8c8c8" />
<circle cx="66" cy="624.2" r="0.6" fill="#c8c8c8" />
<circle cx="71" cy="617.2" r="0.6" fill="#c8c8c8" />
<circle cx="75" cy="613.2" r="0.6" fill="#c8c8c8" />
<circle cx="52" cy="607.2" r="0.6" fill="#c8c8c8" />
<circle cx="70" cy="607.2" r="0.6" fill="#c8c8c8" />
<circle cx="57.9" cy="612.5" r="0.9" fill="#2233cc" />
<circle cx="63.6" cy="612.5" r="0.9" fill="#2233cc" />
<ellipse cx="40.75" cy="600.75" rx="1.93" ry="1.55" fill="url(#gy)" transform="rotate(131.61 40.75 600.75)"/>
<ellipse cx="35.94" cy="598.18" rx="1.91" ry="1.53" fill="url(#gy)" transform="rotate(117.43 35.94 598.18)"/>
<ellipse cx="40.29" cy="606.53" rx="1.92" ry="1.54" fill="url(#gy)" transform="rotate(217.09 40.29 606.53)"/>
<ellipse cx="37.31" cy="600.6" rx="2.64" ry="2.11" fill="url(#gy)" transform="rotate(165.26 37.31 600.6)"/>
<ellipse cx="36.05" cy="607.26" rx="2.37" ry="1.89" fill="url(#gb)" transform="rotate(164.17 36.05 607.26)"/>
<ellipse cx="42.38" cy="598.15" rx="2.22" ry="1.78" fill="url(#gb)" transform="rotate(147.39 42.38 598.15)"/>
<ellipse cx="43.37" cy="605.57" rx="2.41" ry="1.93" fill="url(#gb)" transform="rotate(69.22 43.37 605.57)"/>
<ellipse cx="34.35" cy="602.52" rx="2.18" ry="1.74" fill="url(#gb)" transform="rotate(125.26 34.35 602.52)"/>
<ellipse cx="44.25" cy="601.54" rx="2.2" ry="1.76" fill="url(#gb)" transform="rotate(29.43 44.25 601.54)"/>
<ellipse cx="39.03" cy="598.07" rx="2.09" ry="1.67" fill="url(#gy)" transform="rotate(164.31 39.03 598.07)"/>
<ellipse cx="37.77" cy="602.87" rx="2.35" ry="1.88" fill="url(#gy)" transform="rotate(125.73 37.77 602.87)"/>
<ellipse cx="42.8" cy="607.06" rx="2.16" ry="1.73" fill="url(#gy)" transform="rotate(161.28 42.8 607.06)"/>
<ellipse cx="36.85" cy="607.57" rx="2.11" ry="1.69" fill="url(#gb)" transform="rotate(177.09 36.85 607.57)"/>
<ellipse cx="41.03" cy="609.76" rx="2.71" ry="2.17" fill="url(#gb)" transform="rotate(94.9 41.03 609.76)"/>
<ellipse cx="41.32" cy="595.59" rx="2.38" ry="1.9" fill="url(#gb)" transform="rotate(124.31 41.32 595.59)"/>
<ellipse cx="47.1" cy="605.72" rx="2.36" ry="1.89" fill="url(#gb)" transform="rotate(121.28 47.1 605.72)"/>
<ellipse cx="41.71" cy="603.36" rx="2.12" ry="1.7" fill="url(#gy)" transform="rotate(69.43 41.71 603.36)"/>
<ellipse cx="40.04" cy="604.74" rx="2.03" ry="1.62" fill="url(#gy)" transform="rotate(204.17 40.04 604.74)"/>
<ellipse cx="45.19" cy="604.54" rx="2.33" ry="1.86" fill="url(#gy)" transform="rotate(109.22 45.19 604.54)"/>
<ellipse cx="40.09" cy="599.77" rx="2.94" ry="2.35" fill="url(#gy)" transform="rotate(187.39 40.09 599.77)"/>
<ellipse cx="39.1" cy="610.32" rx="2.71" ry="2.17" fill="url(#gy)" transform="rotate(134.9 39.1 610.32)"/>
<ellipse cx="35.4" cy="603.29" rx="2.44" ry="1.95" fill="url(#gb)" transform="rotate(85.73 35.4 603.29)"/>
<ellipse cx="33.3" cy="600.13" rx="2.47" ry="1.97" fill="url(#gb)" transform="rotate(77.43 33.3 600.13)"/>
<ellipse cx="43.19" cy="600.12" rx="2.11" ry="1.69" fill="url(#gb)" transform="rotate(91.61 43.19 600.12)"/>
<path d="M82.25,605.5 L80,606.8 L77.75,605.5 L77.75,602.9 L80,601.6 L82.25,602.9 L82.25,605.5" stroke="#9c9c9c" fill="#e4e4e4" stroke-width="1.0" />
<circle cx="82.25" cy="605.5" r="0.6" fill="#7a7a7a" />
<circle cx="80" cy="606.8" r="0.6" fill="#7a7a7a" />
<circle cx="77.75" cy="605.5" r="0.6" fill="#7a7a7a" />
<circle cx="77.75" cy="602.9" r="0.6" fill="#7a7a7a" />
<circle cx="80" cy="601.6" r="0.6" fill="#7a7a7a" />
<circle cx="82.25" cy="602.9" r="0.6" fill="#7a7a7a" />
<path d="M86.08,602.4 L84,603.6 L81.92,602.4 L81.92,600 L84,598.8 L86.08,600 L86.08,602.4" stroke="#9c9c9c" fill="#e4e4e4" stroke-width="1.0" />
<circle cx="86.08" cy="602.4" r="0.6" fill="#7a7a7a" />
<circle cx="84" cy="603.6" r="0.6" fill="#7a7a7a" />
<circle cx="81.92" cy="602.4" r="0.6" fill="#7a7a7a" />
<circle cx="81.92" cy="600" r="0.6" fill="#7a7a7a" />
<circle cx="84" cy="598.8" r="0.6" fill="#7a7a7a" />
<circle cx="86.08" cy="600" r="0.6" fill="#7a7a7a" />
<ellipse cx="83.38" cy="604.91" rx="1.64" ry="1.31" fill="url(#gy)" transform="rotate(157.16 83.38 604.91)"/>
<ellipse cx="81.56" cy="603.38" rx="1.72" ry="1.38" fill="url(#gy)" transform="rotate(213.01 81.56 603.38)"/>
<ellipse cx="77.44" cy="599.17" rx="1.82" ry="1.45" fill="url(#gy)" transform="rotate(200.12 77.44 599.17)"/>
<ellipse cx="85.31" cy="607.28" rx="1.28" ry="1.02" fill="url(#gy)" transform="rotate(131.13 85.31 607.28)"/>
<ellipse cx="82.13" cy="602.55" rx="1.69" ry="1.35" fill="url(#gb)" transform="rotate(173.01 82.13 602.55)"/>
<ellipse cx="77.39" cy="599.88" rx="1.46" ry="1.17" fill="url(#gb)" transform="rotate(160.12 77.39 599.88)"/>
<ellipse cx="84.24" cy="604.09" rx="1.55" ry="1.24" fill="url(#gb)" transform="rotate(117.16 84.24 604.09)"/>
<ellipse cx="86.05" cy="604.61" rx="1.66" ry="1.33" fill="url(#gb)" transform="rotate(91.13 86.05 604.61)"/>
<ellipse cx="78.31" cy="601.1" rx="1.71" ry="1.37" fill="url(#gy)" transform="rotate(48.72 78.31 601.1)"/>
<ellipse cx="79.71" cy="600.43" rx="1.74" ry="1.39" fill="url(#gb)" transform="rotate(8.72 79.71 600.43)"/>
<path d="M126.42,571.9 L124,573.3 L121.58,571.9 L121.58,569.1 L124,567.7 L126.42,569.1 L126.42,571.9" stroke="#9c9c9c" fill="#e4e4e4" stroke-width="1.0" />
<circle cx="126.42" cy="571.9" r="0.6" fill="#7a7a7a" />
<circle cx="124" cy="573.3" r="0.6" fill="#7a7a7a" />
<circle cx="121.58" cy="571.9" r="0.6" fill="#7a7a7a" />
<circle cx="121.58" cy="569.1" r="0.6" fill="#7a7a7a" />
<circle cx="124" cy="567.7" r="0.6" fill="#7a7a7a" />
<circle cx="126.42" cy="569.1" r="0.6" fill="#7a7a7a" />
<line x1="122" y1="573" x2="118" y2="580" stroke="#b8b8b8" stroke-width="0.7" />
<path d="M118.75,583.8 L116.5,585.1 L114.25,583.8 L114.25,581.2 L116.5,579.9 L118.75,581.2 L118.75,583.8" stroke="#9c9c9c" fill="#e4e4e4" stroke-width="1.0" />
<circle cx="118.75" cy="583.8" r="0.6" fill="#7a7a7a" />
<circle cx="116.5" cy="585.1" r="0.6" fill="#7a7a7a" />
<circle cx="114.25" cy="583.8" r="0.6" fill="#7a7a7a" />
<circle cx="114.25" cy="581.2" r="0.6" fill="#7a7a7a" />
<circle cx="116.5" cy="579.9" r="0.6" fill="#7a7a7a" />
<circle cx="118.75" cy="581.2" r="0.6" fill="#7a7a7a" />
<path d="M120.91,586.1 L119,587.2 L117.09,586.1 L117.09,583.9 L119,582.8 L120.91,583.9 L120.91,586.1" stroke="#9c9c9c" fill="#e4e4e4" stroke-width="1.0" />
<circle cx="120.91" cy="586.1" r="0.6" fill="#7a7a7a" />
<circle cx="119" cy="587.2" r="0.6" fill="#7a7a7a" />
<circle cx="117.09" cy="586.1" r="0.6" fill="#7a7a7a" />
<circle cx="117.09" cy="583.9" r="0.6" fill="#7a7a7a" />
<circle cx="119" cy="582.8" r="0.6" fill="#7a7a7a" />
<circle cx="120.91" cy="583.9" r="0.6" fill="#7a7a7a" />
<ellipse cx="113.99" cy="561.14" rx="2.17" ry="1.73" fill="url(#gy)" transform="rotate(100.34 113.99 561.14)"/>
<ellipse cx="116.34" cy="556.37" rx="2.87" ry="2.3" fill="url(#gy)" transform="rotate(43.67 116.34 556.37)"/>
<ellipse cx="120.25" cy="557.32" rx="2.24" ry="1.79" fill="url(#gy)" transform="rotate(145.28 120.25 557.32)"/>
<ellipse cx="114.52" cy="553.17" rx="2.08" ry="1.66" fill="url(#gb)" transform="rotate(26.53 114.52 553.17)"/>
<ellipse cx="123.81" cy="562.45" rx="2.48" ry="1.99" fill="url(#gy)" transform="rotate(182.17 123.81 562.45)"/>
<ellipse cx="117.71" cy="561.74" rx="2.19" ry="1.76" fill="url(#gb)" transform="rotate(114.52 117.71 561.74)"/>
<ellipse cx="118.83" cy="560.84" rx="2.87" ry="2.29" fill="url(#gy)" transform="rotate(172.31 118.83 560.84)"/>
<ellipse cx="121.38" cy="558.36" rx="2.59" ry="2.07" fill="url(#gb)" transform="rotate(132.31 121.38 558.36)"/>
<ellipse cx="118.54" cy="554.84" rx="2.29" ry="1.83" fill="url(#gb)" transform="rotate(3.67 118.54 554.84)"/>
<ellipse cx="120.33" cy="562.55" rx="2.59" ry="2.07" fill="url(#gy)" transform="rotate(47.45 120.33 562.55)"/>
<ellipse cx="120.6" cy="566.31" rx="2.11" ry="1.69" fill="url(#gy)" transform="rotate(195.73 120.6 566.31)"/>
<ellipse cx="116.54" cy="552.3" rx="1.96" ry="1.57" fill="url(#gy)" transform="rotate(66.53 116.54 552.3)"/>
<ellipse cx="114.45" cy="557.11" rx="1.94" ry="1.55" fill="url(#gy)" transform="rotate(184.1 114.45 557.11)"/>
<ellipse cx="113.26" cy="554.5" rx="1.93" ry="1.55" fill="url(#gy)" transform="rotate(148.25 113.26 554.5)"/>
<ellipse cx="112.88" cy="559" rx="2.69" ry="2.16" fill="url(#gb)" transform="rotate(144.1 112.88 559)"/>
<ellipse cx="115.79" cy="558.64" rx="2.69" ry="2.15" fill="url(#gb)" transform="rotate(60.34 115.79 558.64)"/>
<ellipse cx="115.24" cy="562.81" rx="2.06" ry="1.65" fill="url(#gy)" transform="rotate(154.52 115.24 562.81)"/>
<ellipse cx="110.73" cy="556.59" rx="2.07" ry="1.65" fill="url(#gb)" transform="rotate(108.25 110.73 556.59)"/>
<ellipse cx="118.25" cy="562.76" rx="2.69" ry="2.15" fill="url(#gy)" transform="rotate(177.79 118.25 562.76)"/>
<ellipse cx="118.34" cy="567.21" rx="2.12" ry="1.7" fill="url(#gb)" transform="rotate(155.73 118.34 567.21)"/>
<ellipse cx="123.13" cy="561.53" rx="2.14" ry="1.71" fill="url(#gb)" transform="rotate(7.45 123.13 561.53)"/>
<ellipse cx="116.56" cy="564.57" rx="2.68" ry="2.14" fill="url(#gb)" transform="rotate(137.79 116.56 564.57)"/>
<ellipse cx="117.71" cy="558.51" rx="2.67" ry="2.13" fill="url(#gb)" transform="rotate(105.28 117.71 558.51)"/>
<ellipse cx="121.71" cy="564.71" rx="2.67" ry="2.14" fill="url(#gb)" transform="rotate(142.17 121.71 564.71)"/>
<ellipse cx="137.99" cy="571.1" rx="2.02" ry="1.62" fill="url(#gy)" transform="rotate(206.06 137.99 571.1)"/>
<ellipse cx="130.98" cy="569.05" rx="2.5" ry="2" fill="url(#gb)" transform="rotate(151.75 130.98 569.05)"/>
<ellipse cx="133.94" cy="574.58" rx="2.37" ry="1.89" fill="url(#gb)" transform="rotate(67.72 133.94 574.58)"/>
<ellipse cx="138.85" cy="568.01" rx="2.82" ry="2.25" fill="url(#gy)" transform="rotate(186.58 138.85 568.01)"/>
<ellipse cx="137.02" cy="570.81" rx="2.86" ry="2.29" fill="url(#gy)" transform="rotate(68.72 137.02 570.81)"/>
<ellipse cx="138.19" cy="569.75" rx="2.22" ry="1.77" fill="url(#gb)" transform="rotate(146.58 138.19 569.75)"/>
<ellipse cx="137.63" cy="575.54" rx="2.55" ry="2.04" fill="url(#gb)" transform="rotate(166.06 137.63 575.54)"/>
<ellipse cx="145.19" cy="568.33" rx="2.64" ry="2.11" fill="url(#gy)" transform="rotate(51.23 145.19 568.33)"/>
<ellipse cx="141.55" cy="572.57" rx="2.3" ry="1.84" fill="url(#gy)" transform="rotate(77.94 141.55 572.57)"/>
<ellipse cx="144.76" cy="571.41" rx="2.31" ry="1.85" fill="url(#gb)" transform="rotate(11.23 144.76 571.41)"/>
<ellipse cx="136.4" cy="571.27" rx="2.59" ry="2.07" fill="url(#gy)" transform="rotate(84.6 136.4 571.27)"/>
<ellipse cx="135.9" cy="574.86" rx="2.58" ry="2.06" fill="url(#gb)" transform="rotate(44.6 135.9 574.86)"/>
<ellipse cx="133.84" cy="570.39" rx="2.17" ry="1.74" fill="url(#gy)" transform="rotate(171.52 133.84 570.39)"/>
<ellipse cx="130.54" cy="573.31" rx="2.03" ry="1.62" fill="url(#gb)" transform="rotate(123.97 130.54 573.31)"/>
<ellipse cx="133.75" cy="570.84" rx="2.48" ry="1.98" fill="url(#gy)" transform="rotate(107.72 133.75 570.84)"/>
<ellipse cx="143.39" cy="575.87" rx="1.82" ry="1.46" fill="url(#gy)" transform="rotate(72.87 143.39 575.87)"/>
<ellipse cx="130.6" cy="566.33" rx="1.87" ry="1.5" fill="url(#gy)" transform="rotate(191.75 130.6 566.33)"/>
<ellipse cx="131.19" cy="571.2" rx="1.8" ry="1.44" fill="url(#gy)" transform="rotate(163.97 131.19 571.2)"/>
<ellipse cx="141.55" cy="570.86" rx="2.34" ry="1.87" fill="url(#gy)" transform="rotate(112.12 141.55 570.86)"/>
<ellipse cx="134.11" cy="565.97" rx="2.53" ry="2.02" fill="url(#gb)" transform="rotate(131.52 134.11 565.97)"/>
<ellipse cx="136.96" cy="566.47" rx="2.08" ry="1.67" fill="url(#gb)" transform="rotate(28.72 136.96 566.47)"/>
<ellipse cx="140.46" cy="575.06" rx="2.06" ry="1.65" fill="url(#gb)" transform="rotate(37.94 140.46 575.06)"/>
<ellipse cx="142.56" cy="567.98" rx="2.16" ry="1.73" fill="url(#gb)" transform="rotate(72.12 142.56 567.98)"/>
<ellipse cx="144.66" cy="572.68" rx="2.57" ry="2.06" fill="url(#gb)" transform="rotate(32.87 144.66 572.68)"/>
<ellipse cx="112.62" cy="581.67" rx="1.68" ry="1.34" fill="url(#gy)" transform="rotate(157.31 112.62 581.67)"/>
<ellipse cx="117.36" cy="585.94" rx="1.35" ry="1.08" fill="url(#gy)" transform="rotate(95.67 117.36 585.94)"/>
<ellipse cx="113.45" cy="580.39" rx="1.57" ry="1.26" fill="url(#gb)" transform="rotate(117.31 113.45 580.39)"/>
<ellipse cx="118.75" cy="584.16" rx="1.6" ry="1.28" fill="url(#gb)" transform="rotate(55.67 118.75 584.16)"/>
<path d="M126.42,608.4 L124,609.8 L121.58,608.4 L121.58,605.6 L124,604.2 L126.42,605.6 L126.42,608.4" stroke="#9c9c9c" fill="#e4e4e4" stroke-width="1.0" />
<circle cx="126.42" cy="608.4" r="0.6" fill="#7a7a7a" />
<circle cx="124" cy="609.8" r="0.6" fill="#7a7a7a" />
<circle cx="121.58" cy="608.4" r="0.6" fill="#7a7a7a" />
<circle cx="121.58" cy="605.6" r="0.6" fill="#7a7a7a" />
<circle cx="124" cy="604.2" r="0.6" fill="#7a7a7a" />
<circle cx="126.42" cy="605.6" r="0.6" fill="#7a7a7a" />
<line x1="122" y1="610" x2="118" y2="617" stroke="#b8b8b8" stroke-width="0.7" />
<path d="M118.75,621.3 L116.5,622.6 L114.25,621.3 L114.25,618.7 L116.5,617.4 L118.75,618.7 L118.75,621.3" stroke="#9c9c9c" fill="#e4e4e4" stroke-width="1.0" />
<circle cx="118.75" cy="621.3" r="0.6" fill="#7a7a7a" />
<circle cx="116.5" cy="622.6" r="0.6" fill="#7a7a7a" />
<circle cx="114.25" cy="621.3" r="0.6" fill="#7a7a7a" />
<circle cx="114.25" cy="618.7" r="0.6" fill="#7a7a7a" />
<circle cx="116.5" cy="617.4" r="0.6" fill="#7a7a7a" />
<circle cx="118.75" cy="618.7" r="0.6" fill="#7a7a7a" />
<path d="M120.91,624.1 L119,625.2 L117.09,624.1 L117.09,621.9 L119,620.8 L120.91,621.9 L120.91,624.1" stroke="#9c9c9c" fill="#e4e4e4" stroke-width="1.0" />
<circle cx="120.91" cy="624.1" r="0.6" fill="#7a7a7a" />
<circle cx="119" cy="625.2" r="0.6" fill="#7a7a7a" />
<circle cx="117.09" cy="624.1" r="0.6" fill="#7a7a7a" />
<circle cx="117.09" cy="621.9" r="0.6" fill="#7a7a7a" />
<circle cx="119" cy="620.8" r="0.6" fill="#7a7a7a" />
<circle cx="120.91" cy="621.9" r="0.6" fill="#7a7a7a" />
<ellipse cx="112.06" cy="596.76" rx="2.09" ry="1.67" fill="url(#gy)" transform="rotate(214.17 112.06 596.76)"/>
<ellipse cx="119.42" cy="600.77" rx="1.9" ry="1.52" fill="url(#gy)" transform="rotate(113.29 119.42 600.77)"/>
<ellipse cx="123.92" cy="602.52" rx="2.66" ry="2.12" fill="url(#gy)" transform="rotate(174 123.92 602.52)"/>
<ellipse cx="115.68" cy="594.5" rx="1.9" ry="1.52" fill="url(#gy)" transform="rotate(70.15 115.68 594.5)"/>
<ellipse cx="116.46" cy="606.11" rx="2.02" ry="1.62" fill="url(#gb)" transform="rotate(114.9 116.46 606.11)"/>
<ellipse cx="116.3" cy="599.66" rx="2.13" ry="1.7" fill="url(#gb)" transform="rotate(42.7 116.3 599.66)"/>
<ellipse cx="120.04" cy="595.02" rx="2.61" ry="2.09" fill="url(#gb)" transform="rotate(130.72 120.04 595.02)"/>
<ellipse cx="115.61" cy="596.71" rx="2.81" ry="2.25" fill="url(#gy)" transform="rotate(199.32 115.61 596.71)"/>
<ellipse cx="112.3" cy="598.99" rx="2.23" ry="1.78" fill="url(#gb)" transform="rotate(159.32 112.3 598.99)"/>
<ellipse cx="114.61" cy="601.82" rx="2.61" ry="2.09" fill="url(#gy)" transform="rotate(82.7 114.61 601.82)"/>
<ellipse cx="113.75" cy="592.87" rx="2.32" ry="1.86" fill="url(#gy)" transform="rotate(115.31 113.75 592.87)"/>
<ellipse cx="110.17" cy="595.11" rx="2.46" ry="1.97" fill="url(#gb)" transform="rotate(75.31 110.17 595.11)"/>
<ellipse cx="122.01" cy="606" rx="1.83" ry="1.46" fill="url(#gy)" transform="rotate(197.43 122.01 606)"/>
<ellipse cx="117.4" cy="607.49" rx="2.16" ry="1.73" fill="url(#gy)" transform="rotate(103.36 117.4 607.49)"/>
<ellipse cx="118.84" cy="603.83" rx="2.21" ry="1.77" fill="url(#gy)" transform="rotate(154.9 118.84 603.83)"/>
<ellipse cx="118.01" cy="601.92" rx="2.5" ry="2" fill="url(#gy)" transform="rotate(168.35 118.01 601.92)"/>
<ellipse cx="121.68" cy="597.26" rx="2.86" ry="2.29" fill="url(#gy)" transform="rotate(97.2 121.68 597.26)"/>
<ellipse cx="117.28" cy="597.09" rx="2.75" ry="2.2" fill="url(#gy)" transform="rotate(170.72 117.28 597.09)"/>
<ellipse cx="120.41" cy="603.12" rx="2.32" ry="1.86" fill="url(#gb)" transform="rotate(134 120.41 603.12)"/>
<ellipse cx="114.32" cy="595.99" rx="2.48" ry="1.98" fill="url(#gb)" transform="rotate(174.17 114.32 595.99)"/>
<ellipse cx="118.08" cy="599.56" rx="2.48" ry="1.99" fill="url(#gb)" transform="rotate(57.2 118.08 599.56)"/>
<ellipse cx="116.88" cy="590.51" rx="2.52" ry="2.01" fill="url(#gy)" transform="rotate(171.69 116.88 590.51)"/>
<ellipse cx="115.4" cy="591.86" rx="2.48" ry="1.99" fill="url(#gb)" transform="rotate(131.69 115.4 591.86)"/>
<ellipse cx="120.18" cy="606.85" rx="2.05" ry="1.64" fill="url(#gb)" transform="rotate(63.36 120.18 606.85)"/>
<ellipse cx="124.48" cy="603.81" rx="2.05" ry="1.64" fill="url(#gb)" transform="rotate(157.43 124.48 603.81)"/>
<ellipse cx="122.52" cy="600.25" rx="2.21" ry="1.77" fill="url(#gb)" transform="rotate(73.29 122.52 600.25)"/>
<ellipse cx="119.2" cy="592.91" rx="2.11" ry="1.69" fill="url(#gb)" transform="rotate(30.15 119.2 592.91)"/>
<ellipse cx="114.98" cy="603.56" rx="2.08" ry="1.67" fill="url(#gb)" transform="rotate(128.35 114.98 603.56)"/>
<ellipse cx="139.33" cy="610.85" rx="2.37" ry="1.89" fill="url(#gy)" transform="rotate(140.25 139.33 610.85)"/>
<ellipse cx="131.47" cy="609.24" rx="2.71" ry="2.17" fill="url(#gy)" transform="rotate(139.37 131.47 609.24)"/>
<ellipse cx="135.25" cy="610" rx="2.14" ry="1.71" fill="url(#gy)" transform="rotate(54.36 135.25 610)"/>
<ellipse cx="135.94" cy="607.19" rx="1.93" ry="1.54" fill="url(#gb)" transform="rotate(14.36 135.94 607.19)"/>
<ellipse cx="128.11" cy="606.13" rx="2.38" ry="1.91" fill="url(#gy)" transform="rotate(146.07 128.11 606.13)"/>
<ellipse cx="130.99" cy="609.26" rx="2" ry="1.6" fill="url(#gb)" transform="rotate(16.69 130.99 609.26)"/>
<ellipse cx="125.76" cy="608.56" rx="2.35" ry="1.88" fill="url(#gb)" transform="rotate(75.95 125.76 608.56)"/>
<ellipse cx="126.74" cy="605.53" rx="2.65" ry="2.12" fill="url(#gy)" transform="rotate(115.95 126.74 605.53)"/>
<ellipse cx="142.07" cy="607.65" rx="2.11" ry="1.69" fill="url(#gb)" transform="rotate(169.72 142.07 607.65)"/>
<ellipse cx="140.2" cy="607.74" rx="2.15" ry="1.72" fill="url(#gb)" transform="rotate(100.25 140.2 607.74)"/>
<ellipse cx="136.85" cy="607.65" rx="2.13" ry="1.7" fill="url(#gy)" transform="rotate(208.6 136.85 607.65)"/>
<ellipse cx="132.58" cy="606.77" rx="2.26" ry="1.81" fill="url(#gb)" transform="rotate(99.37 132.58 606.77)"/>
<ellipse cx="144.32" cy="612.02" rx="2.21" ry="1.76" fill="url(#gb)" transform="rotate(101.05 144.32 612.02)"/>
<ellipse cx="136.69" cy="609.94" rx="2.15" ry="1.72" fill="url(#gb)" transform="rotate(168.6 136.69 609.94)"/>
<ellipse cx="145.03" cy="608.21" rx="2.17" ry="1.74" fill="url(#gy)" transform="rotate(141.05 145.03 608.21)"/>
<ellipse cx="142.09" cy="611.71" rx="2.17" ry="1.74" fill="url(#gy)" transform="rotate(209.72 142.09 611.71)"/>
<ellipse cx="131.12" cy="606.43" rx="2.7" ry="2.16" fill="url(#gy)" transform="rotate(56.69 131.12 606.43)"/>
<ellipse cx="126.7" cy="608.34" rx="2.33" ry="1.87" fill="url(#gb)" transform="rotate(106.07 126.7 608.34)"/>
<ellipse cx="113.26" cy="619.14" rx="1.27" ry="1.02" fill="url(#gy)" transform="rotate(43.45 113.26 619.14)"/>
<ellipse cx="114.28" cy="618.4" rx="1.53" ry="1.23" fill="url(#gb)" transform="rotate(3.45 114.28 618.4)"/>
<ellipse cx="118.29" cy="624.85" rx="1.45" ry="1.16" fill="url(#gb)" transform="rotate(67.85 118.29 624.85)"/>
<ellipse cx="117.15" cy="620.48" rx="1.15" ry="0.92" fill="url(#gy)" transform="rotate(187.64 117.15 620.48)"/>
<ellipse cx="119.58" cy="623.03" rx="1.29" ry="1.03" fill="url(#gy)" transform="rotate(107.85 119.58 623.03)"/>
<ellipse cx="115.79" cy="622.45" rx="1.38" ry="1.11" fill="url(#gb)" transform="rotate(147.64 115.79 622.45)"/>
<path d="M195.91,557.6 L194,558.7 L192.09,557.6 L192.09,555.4 L194,554.3 L195.91,555.4 L195.91,557.6" stroke="#9c9c9c" fill="#e4e4e4" stroke-width="1.0" />
<circle cx="195.91" cy="557.6" r="0.6" fill="#7a7a7a" />
<circle cx="194" cy="558.7" r="0.6" fill="#7a7a7a" />
<circle cx="192.09" cy="557.6" r="0.6" fill="#7a7a7a" />
<circle cx="192.09" cy="555.4" r="0.6" fill="#7a7a7a" />
<circle cx="194" cy="554.3" r="0.6" fill="#7a7a7a" />
<circle cx="195.91" cy="555.4" r="0.6" fill="#7a7a7a" />
<path d="M196.08,564.7 L194,565.9 L191.92,564.7 L191.92,562.3 L194,561.1 L196.08,562.3 L196.08,564.7" stroke="#9c9c9c" fill="#e4e4e4" stroke-width="1.0" />
<circle cx="196.08" cy="564.7" r="0.6" fill="#7a7a7a" />
<circle cx="194" cy="565.9" r="0.6" fill="#7a7a7a" />
<circle cx="191.92" cy="564.7" r="0.6" fill="#7a7a7a" />
<circle cx="191.92" cy="562.3" r="0.6" fill="#7a7a7a" />
<circle cx="194" cy="561.1" r="0.6" fill="#7a7a7a" />
<circle cx="196.08" cy="562.3" r="0.6" fill="#7a7a7a" />
<path d="M196.08,571.2 L194,572.4 L191.92,571.2 L191.92,568.8 L194,567.6 L196.08,568.8 L196.08,571.2" stroke="#9c9c9c" fill="#e4e4e4" stroke-width="1.0" />
<circle cx="196.08" cy="571.2" r="0.6" fill="#7a7a7a" />
<circle cx="194" cy="572.4" r="0.6" fill="#7a7a7a" />
<circle cx="191.92" cy="571.2" r="0.6" fill="#7a7a7a" />
<circle cx="191.92" cy="568.8" r="0.6" fill="#7a7a7a" />
<circle cx="194" cy="567.6" r="0.6" fill="#7a7a7a" />
<circle cx="196.08" cy="568.8" r="0.6" fill="#7a7a7a" />
<path d="M195.75,575.3 L193.5,576.6 L191.25,575.3 L191.25,572.7 L193.5,571.4 L195.75,572.7 L195.75,575.3" stroke="#9c9c9c" fill="#e4e4e4" stroke-width="1.0" />
<circle cx="195.75" cy="575.3" r="0.6" fill="#7a7a7a" />
<circle cx="193.5" cy="576.6" r="0.6" fill="#7a7a7a" />
<circle cx="191.25" cy="575.3" r="0.6" fill="#7a7a7a" />
<circle cx="191.25" cy="572.7" r="0.6" fill="#7a7a7a" />
<circle cx="193.5" cy="571.4" r="0.6" fill="#7a7a7a" />
<circle cx="195.75" cy="572.7" r="0.6" fill="#7a7a7a" />
<line x1="194" y1="553" x2="194" y2="573" stroke="#b8b8b8" stroke-width="0.7" />
<circle cx="192.3" cy="573" r="0.9" fill="#2233cc" />
<circle cx="195.2" cy="575" r="0.9" fill="#2233cc" />
<path d="M189.99,579.15 L188,580.3 L186.01,579.15 L186.01,576.85 L188,575.7 L189.99,576.85 L189.99,579.15" stroke="#9c9c9c" fill="#e4e4e4" stroke-width="1.0" />
<circle cx="189.99" cy="579.15" r="0.6" fill="#7a7a7a" />
<circle cx="188" cy="580.3" r="0.6" fill="#7a7a7a" />
<circle cx="186.01" cy="579.15" r="0.6" fill="#7a7a7a" />
<circle cx="186.01" cy="576.85" r="0.6" fill="#7a7a7a" />
<circle cx="188" cy="575.7" r="0.6" fill="#7a7a7a" />
<circle cx="189.99" cy="576.85" r="0.6" fill="#7a7a7a" />
<path d="M183.99,582.65 L182,583.8 L180.01,582.65 L180.01,580.35 L182,579.2 L183.99,580.35 L183.99,582.65" stroke="#9c9c9c" fill="#e4e4e4" stroke-width="1.0" />
<circle cx="183.99" cy="582.65" r="0.6" fill="#7a7a7a" />
<circle cx="182" cy="583.8" r="0.6" fill="#7a7a7a" />
<circle cx="180.01" cy="582.65" r="0.6" fill="#7a7a7a" />
<circle cx="180.01" cy="580.35" r="0.6" fill="#7a7a7a" />
<circle cx="182" cy="579.2" r="0.6" fill="#7a7a7a" />
<circle cx="183.99" cy="580.35" r="0.6" fill="#7a7a7a" />
<path d="M178.41,585.6 L176.5,586.7 L174.59,585.6 L174.59,583.4 L176.5,582.3 L178.41,583.4 L178.41,585.6" stroke="#9c9c9c" fill="#e4e4e4" stroke-width="1.0" />
<circle cx="178.41" cy="585.6" r="0.6" fill="#7a7a7a" />
<circle cx="176.5" cy="586.7" r="0.6" fill="#7a7a7a" />
<circle cx="174.59" cy="585.6" r="0.6" fill="#7a7a7a" />
<circle cx="174.59" cy="583.4" r="0.6" fill="#7a7a7a" />
<circle cx="176.5" cy="582.3" r="0.6" fill="#7a7a7a" />
<circle cx="178.41" cy="583.4" r="0.6" fill="#7a7a7a" />
<line x1="193" y1="574" x2="174" y2="586" stroke="#b8b8b8" stroke-width="0.7" />
<ellipse cx="201.36" cy="575.71" rx="2.42" ry="1.94" fill="url(#gy)" transform="rotate(148.68 201.36 575.71)"/>
<ellipse cx="212.07" cy="582.92" rx="1.93" ry="1.54" fill="url(#gy)" transform="rotate(133.22 212.07 582.92)"/>
<ellipse cx="212.79" cy="583.94" rx="1.78" ry="1.42" fill="url(#gy)" transform="rotate(124.63 212.79 583.94)"/>
<ellipse cx="203.51" cy="579.78" rx="2.24" ry="1.79" fill="url(#gb)" transform="rotate(82.8 203.51 579.78)"/>
<ellipse cx="204.84" cy="578.13" rx="1.69" ry="1.35" fill="url(#gy)" transform="rotate(122.8 204.84 578.13)"/>
<ellipse cx="201.03" cy="574.93" rx="1.82" ry="1.45" fill="url(#gy)" transform="rotate(161.76 201.03 574.93)"/>
<ellipse cx="212.33" cy="585.86" rx="1.98" ry="1.58" fill="url(#gb)" transform="rotate(84.63 212.33 585.86)"/>
<ellipse cx="208.74" cy="583.01" rx="2.11" ry="1.69" fill="url(#gy)" transform="rotate(189.18 208.74 583.01)"/>
<ellipse cx="208.6" cy="580.19" rx="1.87" ry="1.5" fill="url(#gy)" transform="rotate(56.77 208.6 580.19)"/>
<ellipse cx="208.94" cy="581.51" rx="1.94" ry="1.56" fill="url(#gb)" transform="rotate(149.18 208.94 581.51)"/>
<ellipse cx="201.81" cy="579.24" rx="2" ry="1.6" fill="url(#gy)" transform="rotate(117.45 201.81 579.24)"/>
<ellipse cx="206.57" cy="578.86" rx="2.02" ry="1.61" fill="url(#gy)" transform="rotate(152.58 206.57 578.86)"/>
<ellipse cx="204.88" cy="581.25" rx="2.11" ry="1.69" fill="url(#gb)" transform="rotate(112.58 204.88 581.25)"/>
<ellipse cx="198.96" cy="577.07" rx="2.28" ry="1.82" fill="url(#gb)" transform="rotate(121.76 198.96 577.07)"/>
<ellipse cx="204.45" cy="577.2" rx="2.19" ry="1.75" fill="url(#gb)" transform="rotate(77.45 204.45 577.2)"/>
<ellipse cx="207.52" cy="583.23" rx="1.77" ry="1.42" fill="url(#gb)" transform="rotate(16.77 207.52 583.23)"/>
<ellipse cx="200.65" cy="577.71" rx="1.81" ry="1.45" fill="url(#gb)" transform="rotate(108.68 200.65 577.71)"/>
<ellipse cx="209.66" cy="584.47" rx="1.92" ry="1.54" fill="url(#gb)" transform="rotate(93.22 209.66 584.47)"/>
<path d="M195.91,595.3 L194,596.4 L192.09,595.3 L192.09,593.1 L194,592 L195.91,593.1 L195.91,595.3" stroke="#9c9c9c" fill="#e4e4e4" stroke-width="1.0" />
<circle cx="195.91" cy="595.3" r="0.6" fill="#7a7a7a" />
<circle cx="194" cy="596.4" r="0.6" fill="#7a7a7a" />
<circle cx="192.09" cy="595.3" r="0.6" fill="#7a7a7a" />
<circle cx="192.09" cy="593.1" r="0.6" fill="#7a7a7a" />
<circle cx="194" cy="592" r="0.6" fill="#7a7a7a" />
<circle cx="195.91" cy="593.1" r="0.6" fill="#7a7a7a" />
<path d="M196.08,602.4 L194,603.6 L191.92,602.4 L191.92,600 L194,598.8 L196.08,600 L196.08,602.4" stroke="#9c9c9c" fill="#e4e4e4" stroke-width="1.0" />
<circle cx="196.08" cy="602.4" r="0.6" fill="#7a7a7a" />
<circle cx="194" cy="603.6" r="0.6" fill="#7a7a7a" />
<circle cx="191.92" cy="602.4" r="0.6" fill="#7a7a7a" />
<circle cx="191.92" cy="600" r="0.6" fill="#7a7a7a" />
<circle cx="194" cy="598.8" r="0.6" fill="#7a7a7a" />
<circle cx="196.08" cy="600" r="0.6" fill="#7a7a7a" />
<path d="M196.08,608.9 L194,610.1 L191.92,608.9 L191.92,606.5 L194,605.3 L196.08,606.5 L196.08,608.9" stroke="#9c9c9c" fill="#e4e4e4" stroke-width="1.0" />
<circle cx="196.08" cy="608.9" r="0.6" fill="#7a7a7a" />
<circle cx="194" cy="610.1" r="0.6" fill="#7a7a7a" />
<circle cx="191.92" cy="608.9" r="0.6" fill="#7a7a7a" />
<circle cx="191.92" cy="606.5" r="0.6" fill="#7a7a7a" />
<circle cx="194" cy="605.3" r="0.6" fill="#7a7a7a" />
<circle cx="196.08" cy="606.5" r="0.6" fill="#7a7a7a" />
<path d="M195.75,613 L193.5,614.3 L191.25,613 L191.25,610.4 L193.5,609.1 L195.75,610.4 L195.75,613" stroke="#9c9c9c" fill="#e4e4e4" stroke-width="1.0" />
<circle cx="195.75" cy="613" r="0.6" fill="#7a7a7a" />
<circle cx="193.5" cy="614.3" r="0.6" fill="#7a7a7a" />
<circle cx="191.25" cy="613" r="0.6" fill="#7a7a7a" />
<circle cx="191.25" cy="610.4" r="0.6" fill="#7a7a7a" />
<circle cx="193.5" cy="609.1" r="0.6" fill="#7a7a7a" />
<circle cx="195.75" cy="610.4" r="0.6" fill="#7a7a7a" />
<line x1="194" y1="590.7" x2="194" y2="610.7" stroke="#b8b8b8" stroke-width="0.7" />
<circle cx="192.3" cy="610.7" r="0.9" fill="#2233cc" />
<circle cx="195.2" cy="612.7" r="0.9" fill="#2233cc" />
<path d="M189.99,616.85 L188,618 L186.01,616.85 L186.01,614.55 L188,613.4 L189.99,614.55 L189.99,616.85" stroke="#9c9c9c" fill="#e4e4e4" stroke-width="1.0" />
<circle cx="189.99" cy="616.85" r="0.6" fill="#7a7a7a" />
<circle cx="188" cy="618" r="0.6" fill="#7a7a7a" />
<circle cx="186.01" cy="616.85" r="0.6" fill="#7a7a7a" />
<circle cx="186.01" cy="614.55" r="0.6" fill="#7a7a7a" />
<circle cx="188" cy="613.4" r="0.6" fill="#7a7a7a" />
<circle cx="189.99" cy="614.55" r="0.6" fill="#7a7a7a" />
<path d="M183.99,620.35 L182,621.5 L180.01,620.35 L180.01,618.05 L182,616.9 L183.99,618.05 L183.99,620.35" stroke="#9c9c9c" fill="#e4e4e4" stroke-width="1.0" />
<circle cx="183.99" cy="620.35" r="0.6" fill="#7a7a7a" />
<circle cx="182" cy="621.5" r="0.6" fill="#7a7a7a" />
<circle cx="180.01" cy="620.35" r="0.6" fill="#7a7a7a" />
<circle cx="180.01" cy="618.05" r="0.6" fill="#7a7a7a" />
<circle cx="182" cy="616.9" r="0.6" fill="#7a7a7a" />
<circle cx="183.99" cy="618.05" r="0.6" fill="#7a7a7a" />
<path d="M178.41,623.3 L176.5,624.4 L174.59,623.3 L174.59,621.1 L176.5,620 L178.41,621.1 L178.41,623.3" stroke="#9c9c9c" fill="#e4e4e4" stroke-width="1.0" />
<circle cx="178.41" cy="623.3" r="0.6" fill="#7a7a7a" />
<circle cx="176.5" cy="624.4" r="0.6" fill="#7a7a7a" />
<circle cx="174.59" cy="623.3" r="0.6" fill="#7a7a7a" />
<circle cx="174.59" cy="621.1" r="0.6" fill="#7a7a7a" />
<circle cx="176.5" cy="620" r="0.6" fill="#7a7a7a" />
<circle cx="178.41" cy="621.1" r="0.6" fill="#7a7a7a" />
<line x1="193" y1="611.7" x2="174" y2="623.7" stroke="#b8b8b8" stroke-width="0.7" />
<ellipse cx="209.34" cy="622.04" rx="2.05" ry="1.64" fill="url(#gy)" transform="rotate(145.34 209.34 622.04)"/>
<ellipse cx="210.52" cy="619.34" rx="2.29" ry="1.83" fill="url(#gb)" transform="rotate(97.07 210.52 619.34)"/>
<ellipse cx="206.83" cy="617.63" rx="1.98" ry="1.58" fill="url(#gb)" transform="rotate(74.7 206.83 617.63)"/>
<ellipse cx="208.11" cy="621.25" rx="2.08" ry="1.67" fill="url(#gy)" transform="rotate(137.07 208.11 621.25)"/>
<ellipse cx="205.69" cy="615.62" rx="2.07" ry="1.66" fill="url(#gy)" transform="rotate(188.36 205.69 615.62)"/>
<ellipse cx="198.73" cy="614.65" rx="2.08" ry="1.66" fill="url(#gy)" transform="rotate(214.22 198.73 614.65)"/>
<ellipse cx="203.94" cy="618.6" rx="1.98" ry="1.58" fill="url(#gb)" transform="rotate(148.36 203.94 618.6)"/>
<ellipse cx="205.95" cy="618.82" rx="1.54" ry="1.23" fill="url(#gy)" transform="rotate(114.7 205.95 618.82)"/>
<ellipse cx="211.53" cy="623.23" rx="1.66" ry="1.33" fill="url(#gy)" transform="rotate(49.64 211.53 623.23)"/>
<ellipse cx="208.17" cy="617.93" rx="1.81" ry="1.45" fill="url(#gb)" transform="rotate(21.17 208.17 617.93)"/>
<ellipse cx="200.65" cy="612.31" rx="2.03" ry="1.62" fill="url(#gb)" transform="rotate(174.22 200.65 612.31)"/>
<ellipse cx="206.11" cy="619.59" rx="1.74" ry="1.39" fill="url(#gy)" transform="rotate(61.17 206.11 619.59)"/>
<ellipse cx="202.02" cy="616.13" rx="2.07" ry="1.65" fill="url(#gb)" transform="rotate(166.76 202.02 616.13)"/>
<ellipse cx="202.85" cy="614.72" rx="1.75" ry="1.4" fill="url(#gy)" transform="rotate(206.76 202.85 614.72)"/>
<ellipse cx="202.64" cy="613.73" rx="2.29" ry="1.83" fill="url(#gb)" transform="rotate(153.46 202.64 613.73)"/>
<ellipse cx="212.66" cy="621.31" rx="2.05" ry="1.64" fill="url(#gb)" transform="rotate(9.64 212.66 621.31)"/>
<ellipse cx="200.92" cy="616.19" rx="1.77" ry="1.42" fill="url(#gy)" transform="rotate(193.46 200.92 616.19)"/>
<ellipse cx="211.72" cy="620.28" rx="1.72" ry="1.37" fill="url(#gb)" transform="rotate(105.34 211.72 620.28)"/>
<path d="M254.75,577.8 L252.5,579.1 L250.25,577.8 L250.25,575.2 L252.5,573.9 L254.75,575.2 L254.75,577.8" stroke="#9c9c9c" fill="#e4e4e4" stroke-width="1.0" />
<circle cx="254.75" cy="577.8" r="0.6" fill="#7a7a7a" />
<circle cx="252.5" cy="579.1" r="0.6" fill="#7a7a7a" />
<circle cx="250.25" cy="577.8" r="0.6" fill="#7a7a7a" />
<circle cx="250.25" cy="575.2" r="0.6" fill="#7a7a7a" />
<circle cx="252.5" cy="573.9" r="0.6" fill="#7a7a7a" />
<circle cx="254.75" cy="575.2" r="0.6" fill="#7a7a7a" />
<path d="M268.55,577.8 L266.3,579.1 L264.05,577.8 L264.05,575.2 L266.3,573.9 L268.55,575.2 L268.55,577.8" stroke="#9c9c9c" fill="#e4e4e4" stroke-width="1.0" />
<circle cx="268.55" cy="577.8" r="0.6" fill="#7a7a7a" />
<circle cx="266.3" cy="579.1" r="0.6" fill="#7a7a7a" />
<circle cx="264.05" cy="577.8" r="0.6" fill="#7a7a7a" />
<circle cx="264.05" cy="575.2" r="0.6" fill="#7a7a7a" />
<circle cx="266.3" cy="573.9" r="0.6" fill="#7a7a7a" />
<circle cx="268.55" cy="575.2" r="0.6" fill="#7a7a7a" />
<path d="M261.65,580.3 L259.4,581.6 L257.15,580.3 L257.15,577.7 L259.4,576.4 L261.65,577.7 L261.65,580.3" stroke="#9c9c9c" fill="#e4e4e4" stroke-width="1.0" />
<circle cx="261.65" cy="580.3" r="0.6" fill="#7a7a7a" />
<circle cx="259.4" cy="581.6" r="0.6" fill="#7a7a7a" />
<circle cx="257.15" cy="580.3" r="0.6" fill="#7a7a7a" />
<circle cx="257.15" cy="577.7" r="0.6" fill="#7a7a7a" />
<circle cx="259.4" cy="576.4" r="0.6" fill="#7a7a7a" />
<circle cx="261.65" cy="577.7" r="0.6" fill="#7a7a7a" />
<circle cx="259.4" cy="582.7" r="1.1" fill="#d42020" />
<ellipse cx="248.38" cy="571.39" rx="2.06" ry="1.65" fill="url(#gy)" transform="rotate(156.38 248.38 571.39)"/>
<ellipse cx="248.26" cy="555.65" rx="2.51" ry="2.01" fill="url(#gy)" transform="rotate(126.64 248.26 555.65)"/>
<ellipse cx="243.58" cy="561.75" rx="1.96" ry="1.57" fill="url(#gy)" transform="rotate(156.54 243.58 561.75)"/>
<ellipse cx="247.03" cy="561.99" rx="2.03" ry="1.63" fill="url(#gy)" transform="rotate(200.13 247.03 561.99)"/>
<ellipse cx="253.23" cy="558.71" rx="2.43" ry="1.94" fill="url(#gy)" transform="rotate(194.73 253.23 558.71)"/>
<ellipse cx="256.03" cy="560.26" rx="2.23" ry="1.79" fill="url(#gb)" transform="rotate(154.73 256.03 560.26)"/>
<ellipse cx="245.65" cy="564.25" rx="2.2" ry="1.76" fill="url(#gb)" transform="rotate(116.54 245.65 564.25)"/>
<ellipse cx="240.84" cy="569.38" rx="2.37" ry="1.9" fill="url(#gb)" transform="rotate(150.99 240.84 569.38)"/>
<ellipse cx="251.04" cy="556.62" rx="2.39" ry="1.91" fill="url(#gb)" transform="rotate(86.64 251.04 556.62)"/>
<ellipse cx="245.08" cy="570.94" rx="2.19" ry="1.75" fill="url(#gy)" transform="rotate(180.28 245.08 570.94)"/>
<ellipse cx="242.1" cy="573.6" rx="2.16" ry="1.73" fill="url(#gy)" transform="rotate(109.07 242.1 573.6)"/>
<ellipse cx="250.16" cy="567.73" rx="2.43" ry="1.95" fill="url(#gy)" transform="rotate(76.68 250.16 567.73)"/>
<ellipse cx="241.25" cy="565.36" rx="2.46" ry="1.97" fill="url(#gy)" transform="rotate(97.25 241.25 565.36)"/>
<ellipse cx="250.99" cy="561.97" rx="2.01" ry="1.61" fill="url(#gb)" transform="rotate(55.11 250.99 561.97)"/>
<ellipse cx="249.34" cy="563.99" rx="2.16" ry="1.73" fill="url(#gy)" transform="rotate(43.69 249.34 563.99)"/>
<ellipse cx="246.78" cy="556.69" rx="2.24" ry="1.79" fill="url(#gy)" transform="rotate(107.45 246.78 556.69)"/>
<ellipse cx="247.54" cy="567.02" rx="2.09" ry="1.67" fill="url(#gb)" transform="rotate(36.68 247.54 567.02)"/>
<ellipse cx="251.88" cy="565.95" rx="2.42" ry="1.94" fill="url(#gb)" transform="rotate(3.69 251.88 565.95)"/>
<ellipse cx="239.5" cy="568.74" rx="2.63" ry="2.1" fill="url(#gy)" transform="rotate(190.99 239.5 568.74)"/>
<ellipse cx="253.82" cy="563.08" rx="2.71" ry="2.17" fill="url(#gy)" transform="rotate(95.11 253.82 563.08)"/>
<ellipse cx="237.74" cy="570.45" rx="2.42" ry="1.94" fill="url(#gy)" transform="rotate(141.2 237.74 570.45)"/>
<ellipse cx="245.06" cy="569.15" rx="2.35" ry="1.88" fill="url(#gb)" transform="rotate(116.38 245.06 569.15)"/>
<ellipse cx="249.78" cy="559.31" rx="2.51" ry="2.01" fill="url(#gb)" transform="rotate(67.45 249.78 559.31)"/>
<ellipse cx="246.45" cy="572.21" rx="2.22" ry="1.78" fill="url(#gb)" transform="rotate(140.28 246.45 572.21)"/>
<ellipse cx="239.29" cy="572.17" rx="2.63" ry="2.11" fill="url(#gb)" transform="rotate(101.2 239.29 572.17)"/>
<ellipse cx="244.63" cy="576.08" rx="2.66" ry="2.13" fill="url(#gb)" transform="rotate(69.07 244.63 576.08)"/>
<ellipse cx="244.97" cy="560.22" rx="2" ry="1.6" fill="url(#gb)" transform="rotate(160.13 244.97 560.22)"/>
<ellipse cx="243.98" cy="566.09" rx="2.59" ry="2.07" fill="url(#gb)" transform="rotate(57.25 243.98 566.09)"/>
<ellipse cx="262.97" cy="560.14" rx="2.49" ry="2" fill="url(#gy)" transform="rotate(214.23 262.97 560.14)"/>
<ellipse cx="270.9" cy="566" rx="2.32" ry="1.85" fill="url(#gy)" transform="rotate(183.07 270.9 566)"/>
<ellipse cx="269.25" cy="563.31" rx="2.08" ry="1.67" fill="url(#gy)" transform="rotate(127.49 269.25 563.31)"/>
<ellipse cx="274.47" cy="571.26" rx="2.34" ry="1.87" fill="url(#gy)" transform="rotate(132.09 274.47 571.26)"/>
<ellipse cx="270.66" cy="570.39" rx="1.98" ry="1.58" fill="url(#gy)" transform="rotate(102.46 270.66 570.39)"/>
<ellipse cx="273.69" cy="575.4" rx="2.35" ry="1.88" fill="url(#gy)" transform="rotate(165.6 273.69 575.4)"/>
<ellipse cx="271.09" cy="555.85" rx="2.05" ry="1.64" fill="url(#gy)" transform="rotate(69.07 271.09 555.85)"/>
<ellipse cx="267.97" cy="561.92" rx="2.05" ry="1.64" fill="url(#gb)" transform="rotate(46.42 267.97 561.92)"/>
<ellipse cx="270.59" cy="560.22" rx="2.69" ry="2.16" fill="url(#gy)" transform="rotate(146.22 270.59 560.22)"/>
<ellipse cx="273.17" cy="559.92" rx="2.82" ry="2.26" fill="url(#gy)" transform="rotate(101.68 273.17 559.92)"/>
<ellipse cx="264.81" cy="563.93" rx="2.45" ry="1.96" fill="url(#gy)" transform="rotate(86.42 264.81 563.93)"/>
<ellipse cx="279.74" cy="572.31" rx="2.61" ry="2.09" fill="url(#gy)" transform="rotate(135.6 279.74 572.31)"/>
<ellipse cx="275.61" cy="567.45" rx="2.43" ry="1.95" fill="url(#gy)" transform="rotate(192.38 275.61 567.45)"/>
<ellipse cx="265.97" cy="565.86" rx="2.03" ry="1.62" fill="url(#gb)" transform="rotate(87.49 265.97 565.86)"/>
<ellipse cx="276.7" cy="569.66" rx="2.35" ry="1.88" fill="url(#gy)" transform="rotate(105.18 276.7 569.66)"/>
<ellipse cx="271.25" cy="561.52" rx="2.43" ry="1.95" fill="url(#gb)" transform="rotate(61.68 271.25 561.52)"/>
<ellipse cx="273.47" cy="564.56" rx="2.3" ry="1.84" fill="url(#gy)" transform="rotate(171.71 273.47 564.56)"/>
<ellipse cx="271.93" cy="558.62" rx="2.36" ry="1.89" fill="url(#gb)" transform="rotate(106.22 271.93 558.62)"/>
<ellipse cx="267.46" cy="567.46" rx="2.42" ry="1.94" fill="url(#gb)" transform="rotate(143.07 267.46 567.46)"/>
<ellipse cx="280.81" cy="571.11" rx="2.08" ry="1.67" fill="url(#gb)" transform="rotate(95.6 280.81 571.11)"/>
<ellipse cx="272.66" cy="569.83" rx="2.36" ry="1.89" fill="url(#gb)" transform="rotate(62.46 272.66 569.83)"/>
<ellipse cx="264.85" cy="558.94" rx="2.18" ry="1.75" fill="url(#gb)" transform="rotate(174.23 264.85 558.94)"/>
<ellipse cx="279.19" cy="567.4" rx="2.5" ry="2" fill="url(#gb)" transform="rotate(65.18 279.19 567.4)"/>
<ellipse cx="277.06" cy="565.23" rx="2.26" ry="1.8" fill="url(#gb)" transform="rotate(152.38 277.06 565.23)"/>
<ellipse cx="275.29" cy="562.78" rx="2.48" ry="1.99" fill="url(#gb)" transform="rotate(131.71 275.29 562.78)"/>
<ellipse cx="272.07" cy="573.36" rx="2.35" ry="1.88" fill="url(#gb)" transform="rotate(92.09 272.07 573.36)"/>
<ellipse cx="275.41" cy="572.71" rx="2.5" ry="2" fill="url(#gb)" transform="rotate(125.6 275.41 572.71)"/>
<ellipse cx="267.69" cy="557.89" rx="2.63" ry="2.1" fill="url(#gb)" transform="rotate(29.07 267.69 557.89)"/>
<path d="M254.75,616.3 L252.5,617.6 L250.25,616.3 L250.25,613.7 L252.5,612.4 L254.75,613.7 L254.75,616.3" stroke="#9c9c9c" fill="#e4e4e4" stroke-width="1.0" />
<circle cx="254.75" cy="616.3" r="0.6" fill="#7a7a7a" />
<circle cx="252.5" cy="617.6" r="0.6" fill="#7a7a7a" />
<circle cx="250.25" cy="616.3" r="0.6" fill="#7a7a7a" />
<circle cx="250.25" cy="613.7" r="0.6" fill="#7a7a7a" />
<circle cx="252.5" cy="612.4" r="0.6" fill="#7a7a7a" />
<circle cx="254.75" cy="613.7" r="0.6" fill="#7a7a7a" />
<path d="M268.55,616.3 L266.3,617.6 L264.05,616.3 L264.05,613.7 L266.3,612.4 L268.55,613.7 L268.55,616.3" stroke="#9c9c9c" fill="#e4e4e4" stroke-width="1.0" />
<circle cx="268.55" cy="616.3" r="0.6" fill="#7a7a7a" />
<circle cx="266.3" cy="617.6" r="0.6" fill="#7a7a7a" />
<circle cx="264.05" cy="616.3" r="0.6" fill="#7a7a7a" />
<circle cx="264.05" cy="613.7" r="0.6" fill="#7a7a7a" />
<circle cx="266.3" cy="612.4" r="0.6" fill="#7a7a7a" />
<circle cx="268.55" cy="613.7" r="0.6" fill="#7a7a7a" />
<path d="M261.65,618.8 L259.4,620.1 L257.15,618.8 L257.15,616.2 L259.4,614.9 L261.65,616.2 L261.65,618.8" stroke="#9c9c9c" fill="#e4e4e4" stroke-width="1.0" />
<circle cx="261.65" cy="618.8" r="0.6" fill="#7a7a7a" />
<circle cx="259.4" cy="620.1" r="0.6" fill="#7a7a7a" />
<circle cx="257.15" cy="618.8" r="0.6" fill="#7a7a7a" />
<circle cx="257.15" cy="616.2" r="0.6" fill="#7a7a7a" />
<circle cx="259.4" cy="614.9" r="0.6" fill="#7a7a7a" />
<circle cx="261.65" cy="616.2" r="0.6" fill="#7a7a7a" />
<circle cx="259.4" cy="621.2" r="1.1" fill="#d42020" />
<ellipse cx="251.13" cy="604.59" rx="2.23" ry="1.79" fill="url(#gy)" transform="rotate(153.04 251.13 604.59)"/>
<ellipse cx="246.99" cy="599.44" rx="1.86" ry="1.49" fill="url(#gy)" transform="rotate(67.98 246.99 599.44)"/>
<ellipse cx="241.14" cy="604.69" rx="2.49" ry="1.99" fill="url(#gy)" transform="rotate(207.5 241.14 604.69)"/>
<ellipse cx="239.56" cy="611.12" rx="2.1" ry="1.68" fill="url(#gb)" transform="rotate(110.98 239.56 611.12)"/>
<ellipse cx="250.24" cy="596.63" rx="2.5" ry="2" fill="url(#gb)" transform="rotate(109.48 250.24 596.63)"/>
<ellipse cx="247.48" cy="609.51" rx="2.04" ry="1.64" fill="url(#gb)" transform="rotate(111.03 247.48 609.51)"/>
<ellipse cx="248.27" cy="604.86" rx="2.37" ry="1.89" fill="url(#gy)" transform="rotate(109.34 248.27 604.86)"/>
<ellipse cx="236.78" cy="609.45" rx="2.38" ry="1.91" fill="url(#gy)" transform="rotate(150.98 236.78 609.45)"/>
<ellipse cx="247.04" cy="611.3" rx="1.87" ry="1.5" fill="url(#gy)" transform="rotate(156.9 247.04 611.3)"/>
<ellipse cx="242.59" cy="600.93" rx="2.16" ry="1.73" fill="url(#gb)" transform="rotate(104.17 242.59 600.93)"/>
<ellipse cx="245.92" cy="608.09" rx="1.95" ry="1.56" fill="url(#gy)" transform="rotate(151.03 245.92 608.09)"/>
<ellipse cx="241.72" cy="612.12" rx="2.26" ry="1.81" fill="url(#gb)" transform="rotate(137.46 241.72 612.12)"/>
<ellipse cx="251.89" cy="599.77" rx="2.44" ry="1.96" fill="url(#gb)" transform="rotate(25.95 251.89 599.77)"/>
<ellipse cx="248.21" cy="598.3" rx="2.46" ry="1.97" fill="url(#gy)" transform="rotate(84.62 248.21 598.3)"/>
<ellipse cx="253.25" cy="597.45" rx="2.46" ry="1.97" fill="url(#gy)" transform="rotate(112.99 253.25 597.45)"/>
<ellipse cx="246.76" cy="596.87" rx="2.29" ry="1.83" fill="url(#gb)" transform="rotate(44.62 246.76 596.87)"/>
<ellipse cx="247.96" cy="594.14" rx="2.72" ry="2.18" fill="url(#gy)" transform="rotate(149.48 247.96 594.14)"/>
<ellipse cx="253.65" cy="601.26" rx="2.34" ry="1.87" fill="url(#gy)" transform="rotate(65.95 253.65 601.26)"/>
<ellipse cx="242.73" cy="605.61" rx="2.09" ry="1.68" fill="url(#gb)" transform="rotate(167.5 242.73 605.61)"/>
<ellipse cx="244.84" cy="614.81" rx="2.8" ry="2.24" fill="url(#gy)" transform="rotate(177.46 244.84 614.81)"/>
<ellipse cx="241.92" cy="608.16" rx="2.11" ry="1.69" fill="url(#gy)" transform="rotate(180.23 241.92 608.16)"/>
<ellipse cx="245.71" cy="598.83" rx="2.41" ry="1.93" fill="url(#gb)" transform="rotate(27.98 245.71 598.83)"/>
<ellipse cx="245.86" cy="603.14" rx="2.13" ry="1.7" fill="url(#gy)" transform="rotate(144.17 245.86 603.14)"/>
<ellipse cx="239.57" cy="605.39" rx="2.24" ry="1.79" fill="url(#gb)" transform="rotate(140.23 239.57 605.39)"/>
<ellipse cx="244.49" cy="608.85" rx="2.28" ry="1.82" fill="url(#gb)" transform="rotate(116.9 244.49 608.85)"/>
<ellipse cx="249.87" cy="602.64" rx="2.69" ry="2.15" fill="url(#gb)" transform="rotate(113.04 249.87 602.64)"/>
<ellipse cx="250.27" cy="605.72" rx="2.04" ry="1.63" fill="url(#gb)" transform="rotate(69.34 250.27 605.72)"/>
<ellipse cx="255.61" cy="599.08" rx="2.49" ry="1.99" fill="url(#gb)" transform="rotate(72.99 255.61 599.08)"/>
<ellipse cx="273.66" cy="614.28" rx="2.4" ry="1.92" fill="url(#gy)" transform="rotate(120.56 273.66 614.28)"/>
<ellipse cx="275.28" cy="605.87" rx="2.35" ry="1.88" fill="url(#gy)" transform="rotate(217.34 275.28 605.87)"/>
<ellipse cx="263.16" cy="598.92" rx="2.4" ry="1.92" fill="url(#gy)" transform="rotate(111.26 263.16 598.92)"/>
<ellipse cx="268.32" cy="605.8" rx="1.86" ry="1.49" fill="url(#gy)" transform="rotate(115.3 268.32 605.8)"/>
<ellipse cx="271.98" cy="612.1" rx="2.55" ry="2.04" fill="url(#gy)" transform="rotate(193.19 271.98 612.1)"/>
<ellipse cx="271.88" cy="596.84" rx="2.61" ry="2.09" fill="url(#gb)" transform="rotate(121.28 271.88 596.84)"/>
<ellipse cx="281.67" cy="609.73" rx="2.31" ry="1.85" fill="url(#gy)" transform="rotate(196.5 281.67 609.73)"/>
<ellipse cx="264.72" cy="601.26" rx="1.96" ry="1.56" fill="url(#gy)" transform="rotate(144.66 264.72 601.26)"/>
<ellipse cx="279.18" cy="611.09" rx="2.38" ry="1.9" fill="url(#gb)" transform="rotate(156.5 279.18 611.09)"/>
<ellipse cx="270.09" cy="604.72" rx="2.41" ry="1.93" fill="url(#gb)" transform="rotate(75.3 270.09 604.72)"/>
<ellipse cx="277.47" cy="603.91" rx="2.26" ry="1.81" fill="url(#gb)" transform="rotate(177.34 277.47 603.91)"/>
<ellipse cx="276.34" cy="612.04" rx="2.17" ry="1.74" fill="url(#gb)" transform="rotate(80.56 276.34 612.04)"/>
<ellipse cx="272.82" cy="608.27" rx="2.47" ry="1.98" fill="url(#gy)" transform="rotate(114.11 272.82 608.27)"/>
<ellipse cx="274.92" cy="600.89" rx="2.68" ry="2.14" fill="url(#gb)" transform="rotate(169.73 274.92 600.89)"/>
<ellipse cx="269.91" cy="598" rx="2.33" ry="1.87" fill="url(#gy)" transform="rotate(161.28 269.91 598)"/>
<ellipse cx="270.28" cy="594.02" rx="2.13" ry="1.7" fill="url(#gy)" transform="rotate(53.31 270.28 594.02)"/>
<ellipse cx="271.5" cy="601.73" rx="2.1" ry="1.68" fill="url(#gy)" transform="rotate(127.71 271.5 601.73)"/>
<ellipse cx="277.42" cy="608.75" rx="2.73" ry="2.19" fill="url(#gy)" transform="rotate(173.82 277.42 608.75)"/>
<ellipse cx="274.71" cy="599.14" rx="2.43" ry="1.94" fill="url(#gb)" transform="rotate(87.71 274.71 599.14)"/>
<ellipse cx="264.84" cy="597.4" rx="2.03" ry="1.62" fill="url(#gb)" transform="rotate(71.26 264.84 597.4)"/>
<ellipse cx="266.46" cy="602.92" rx="2.87" ry="2.3" fill="url(#gy)" transform="rotate(118.73 266.46 602.92)"/>
<ellipse cx="267.44" cy="595.26" rx="2.52" ry="2.02" fill="url(#gb)" transform="rotate(13.31 267.44 595.26)"/>
<ellipse cx="273.27" cy="602.68" rx="1.88" ry="1.51" fill="url(#gy)" transform="rotate(209.73 273.27 602.68)"/>
<ellipse cx="266.65" cy="599.66" rx="2.33" ry="1.87" fill="url(#gb)" transform="rotate(104.66 266.65 599.66)"/>
<ellipse cx="267.96" cy="602.16" rx="2.43" ry="1.95" fill="url(#gb)" transform="rotate(78.73 267.96 602.16)"/>
<ellipse cx="270.94" cy="609.55" rx="2.55" ry="2.04" fill="url(#gb)" transform="rotate(74.11 270.94 609.55)"/>
<ellipse cx="274.48" cy="609.39" rx="2.01" ry="1.61" fill="url(#gb)" transform="rotate(153.19 274.48 609.39)"/>
<ellipse cx="279.27" cy="606.4" rx="2.68" ry="2.14" fill="url(#gb)" transform="rotate(133.82 279.27 606.4)"/>
<path d="M329.75,570.3 L327.5,571.6 L325.25,570.3 L325.25,567.7 L327.5,566.4 L329.75,567.7 L329.75,570.3" stroke="#9c9c9c" fill="#e4e4e4" stroke-width="1.0" />
<circle cx="329.75" cy="570.3" r="0.6" fill="#7a7a7a" />
<circle cx="327.5" cy="571.6" r="0.6" fill="#7a7a7a" />
<circle cx="325.25" cy="570.3" r="0.6" fill="#7a7a7a" />
<circle cx="325.25" cy="567.7" r="0.6" fill="#7a7a7a" />
<circle cx="327.5" cy="566.4" r="0.6" fill="#7a7a7a" />
<circle cx="329.75" cy="567.7" r="0.6" fill="#7a7a7a" />
<path d="M335.75,570.3 L333.5,571.6 L331.25,570.3 L331.25,567.7 L333.5,566.4 L335.75,567.7 L335.75,570.3" stroke="#9c9c9c" fill="#e4e4e4" stroke-width="1.0" />
<circle cx="335.75" cy="570.3" r="0.6" fill="#7a7a7a" />
<circle cx="333.5" cy="571.6" r="0.6" fill="#7a7a7a" />
<circle cx="331.25" cy="570.3" r="0.6" fill="#7a7a7a" />
<circle cx="331.25" cy="567.7" r="0.6" fill="#7a7a7a" />
<circle cx="333.5" cy="566.4" r="0.6" fill="#7a7a7a" />
<circle cx="335.75" cy="567.7" r="0.6" fill="#7a7a7a" />
<line x1="324" y1="569" x2="338" y2="569" stroke="#b8b8b8" stroke-width="0.7" />
<ellipse cx="320.03" cy="560.08" rx="2.07" ry="1.66" fill="url(#gy)" transform="rotate(199.1 320.03 560.08)"/>
<ellipse cx="310.9" cy="561.5" rx="2.4" ry="1.92" fill="url(#gy)" transform="rotate(67.36 310.9 561.5)"/>
<ellipse cx="317.68" cy="566.37" rx="2.78" ry="2.22" fill="url(#gb)" transform="rotate(76.67 317.68 566.37)"/>
<ellipse cx="312.15" cy="556.44" rx="2.32" ry="1.86" fill="url(#gb)" transform="rotate(128.63 312.15 556.44)"/>
<ellipse cx="315.81" cy="562.16" rx="2.79" ry="2.23" fill="url(#gb)" transform="rotate(159.1 315.81 562.16)"/>
<ellipse cx="322.69" cy="564.08" rx="2.38" ry="1.91" fill="url(#gy)" transform="rotate(179.05 322.69 564.08)"/>
<ellipse cx="314.54" cy="568.48" rx="2.02" ry="1.62" fill="url(#gy)" transform="rotate(116.67 314.54 568.48)"/>
<ellipse cx="311.14" cy="556.76" rx="2.63" ry="2.1" fill="url(#gy)" transform="rotate(197 311.14 556.76)"/>
<ellipse cx="317.6" cy="557.32" rx="2.97" ry="2.37" fill="url(#gy)" transform="rotate(57.34 317.6 557.32)"/>
<ellipse cx="314.11" cy="558.72" rx="2.41" ry="1.93" fill="url(#gb)" transform="rotate(17.34 314.11 558.72)"/>
<ellipse cx="312.07" cy="564.62" rx="2.34" ry="1.87" fill="url(#gb)" transform="rotate(175.31 312.07 564.62)"/>
<ellipse cx="315.54" cy="563.31" rx="2.07" ry="1.66" fill="url(#gy)" transform="rotate(215.31 315.54 563.31)"/>
<ellipse cx="315.58" cy="553.65" rx="2.5" ry="2" fill="url(#gy)" transform="rotate(168.63 315.58 553.65)"/>
<ellipse cx="318.93" cy="566.83" rx="2.81" ry="2.25" fill="url(#gb)" transform="rotate(139.05 318.93 566.83)"/>
<ellipse cx="308.13" cy="558.64" rx="2.29" ry="1.84" fill="url(#gb)" transform="rotate(157 308.13 558.64)"/>
<ellipse cx="312.83" cy="560.6" rx="2.8" ry="2.24" fill="url(#gb)" transform="rotate(27.36 312.83 560.6)"/>
<ellipse cx="308.07" cy="581.84" rx="2.99" ry="2.39" fill="url(#gy)" transform="rotate(218.47 308.07 581.84)"/>
<ellipse cx="313.01" cy="572.18" rx="2.93" ry="2.34" fill="url(#gy)" transform="rotate(86.75 313.01 572.18)"/>
<ellipse cx="312.23" cy="579.9" rx="2.26" ry="1.81" fill="url(#gy)" transform="rotate(186.24 312.23 579.9)"/>
<ellipse cx="312.97" cy="583.93" rx="3.12" ry="2.5" fill="url(#gy)" transform="rotate(141.76 312.97 583.93)"/>
<ellipse cx="311.35" cy="575.5" rx="2.34" ry="1.87" fill="url(#gy)" transform="rotate(57.52 311.35 575.5)"/>
<ellipse cx="319.82" cy="571.66" rx="2.72" ry="2.17" fill="url(#gb)" transform="rotate(158.85 319.82 571.66)"/>
<ellipse cx="314.34" cy="576.95" rx="2.6" ry="2.08" fill="url(#gb)" transform="rotate(17.52 314.34 576.95)"/>
<ellipse cx="321.65" cy="572.59" rx="2.34" ry="1.88" fill="url(#gy)" transform="rotate(198.85 321.65 572.59)"/>
<ellipse cx="315.18" cy="568.91" rx="2.93" ry="2.35" fill="url(#gb)" transform="rotate(3.38 315.18 568.91)"/>
<ellipse cx="316.57" cy="573.06" rx="2.41" ry="1.93" fill="url(#gb)" transform="rotate(46.75 316.57 573.06)"/>
<ellipse cx="316.39" cy="578.33" rx="2.56" ry="2.05" fill="url(#gb)" transform="rotate(157.9 316.39 578.33)"/>
<ellipse cx="314.37" cy="581.19" rx="2.33" ry="1.86" fill="url(#gy)" transform="rotate(98.3 314.37 581.19)"/>
<ellipse cx="317.82" cy="569.97" rx="3.1" ry="2.48" fill="url(#gy)" transform="rotate(43.38 317.82 569.97)"/>
<ellipse cx="317.79" cy="579.46" rx="2.88" ry="2.3" fill="url(#gy)" transform="rotate(197.9 317.79 579.46)"/>
<ellipse cx="310.03" cy="578.94" rx="2.67" ry="2.14" fill="url(#gb)" transform="rotate(146.24 310.03 578.94)"/>
<ellipse cx="316.81" cy="582.16" rx="2.67" ry="2.14" fill="url(#gb)" transform="rotate(58.3 316.81 582.16)"/>
<ellipse cx="320.68" cy="577.01" rx="2.36" ry="1.89" fill="url(#gy)" transform="rotate(102.59 320.68 577.01)"/>
<ellipse cx="316.95" cy="574.36" rx="2.39" ry="1.91" fill="url(#gb)" transform="rotate(62.59 316.95 574.36)"/>
<ellipse cx="315.05" cy="585.3" rx="2.29" ry="1.83" fill="url(#gb)" transform="rotate(101.76 315.05 585.3)"/>
<ellipse cx="310.44" cy="583.95" rx="2.63" ry="2.11" fill="url(#gb)" transform="rotate(178.47 310.44 583.95)"/>
<ellipse cx="338.66" cy="564.09" rx="2.68" ry="2.15" fill="url(#gy)" transform="rotate(152.6 338.66 564.09)"/>
<ellipse cx="350.02" cy="560.94" rx="2.47" ry="1.98" fill="url(#gy)" transform="rotate(102.58 350.02 560.94)"/>
<ellipse cx="345.56" cy="562.58" rx="2.59" ry="2.07" fill="url(#gy)" transform="rotate(159.51 345.56 562.58)"/>
<ellipse cx="345.95" cy="559.14" rx="2.44" ry="1.95" fill="url(#gy)" transform="rotate(152.18 345.95 559.14)"/>
<ellipse cx="348.97" cy="556.01" rx="2.4" ry="1.92" fill="url(#gy)" transform="rotate(49.85 348.97 556.01)"/>
<ellipse cx="341.34" cy="561.38" rx="2.26" ry="1.81" fill="url(#gy)" transform="rotate(95.31 341.34 561.38)"/>
<ellipse cx="352.09" cy="557.99" rx="2.83" ry="2.27" fill="url(#gb)" transform="rotate(9.85 352.09 557.99)"/>
<ellipse cx="343.14" cy="557.08" rx="2.17" ry="1.74" fill="url(#gb)" transform="rotate(112.18 343.14 557.08)"/>
<ellipse cx="343.11" cy="566.69" rx="2.32" ry="1.86" fill="url(#gb)" transform="rotate(70.69 343.11 566.69)"/>
<ellipse cx="345.55" cy="553.6" rx="2.52" ry="2.01" fill="url(#gb)" transform="rotate(17.08 345.55 553.6)"/>
<ellipse cx="347.21" cy="564.81" rx="2.42" ry="1.94" fill="url(#gb)" transform="rotate(119.51 347.21 564.81)"/>
<ellipse cx="345.04" cy="568.15" rx="2.19" ry="1.75" fill="url(#gy)" transform="rotate(110.69 345.04 568.15)"/>
<ellipse cx="342.9" cy="562.68" rx="2.62" ry="2.09" fill="url(#gb)" transform="rotate(55.31 342.9 562.68)"/>
<ellipse cx="348.18" cy="555.13" rx="2.89" ry="2.31" fill="url(#gy)" transform="rotate(57.08 348.18 555.13)"/>
<ellipse cx="341.85" cy="566" rx="2.19" ry="1.76" fill="url(#gb)" transform="rotate(112.6 341.85 566)"/>
<ellipse cx="346.87" cy="559.79" rx="2.66" ry="2.13" fill="url(#gb)" transform="rotate(62.58 346.87 559.79)"/>
<ellipse cx="341.11" cy="576.68" rx="2.02" ry="1.62" fill="url(#gy)" transform="rotate(142.67 341.11 576.68)"/>
<ellipse cx="344.34" cy="574.22" rx="2.32" ry="1.86" fill="url(#gy)" transform="rotate(216.61 344.34 574.22)"/>
<ellipse cx="342.86" cy="570.5" rx="2.11" ry="1.69" fill="url(#gy)" transform="rotate(128.15 342.86 570.5)"/>
<ellipse cx="349.11" cy="581.03" rx="1.9" ry="1.52" fill="url(#gy)" transform="rotate(202.15 349.11 581.03)"/>
<ellipse cx="346.66" cy="578.37" rx="2.4" ry="1.92" fill="url(#gb)" transform="rotate(137.57 346.66 578.37)"/>
<ellipse cx="345.59" cy="583.58" rx="2.47" ry="1.98" fill="url(#gy)" transform="rotate(94.89 345.59 583.58)"/>
<ellipse cx="351.23" cy="579.77" rx="2.18" ry="1.74" fill="url(#gb)" transform="rotate(162.15 351.23 579.77)"/>
<ellipse cx="346.95" cy="581.7" rx="2.75" ry="2.2" fill="url(#gb)" transform="rotate(54.89 346.95 581.7)"/>
<ellipse cx="342.84" cy="579.51" rx="2.48" ry="1.99" fill="url(#gb)" transform="rotate(125.2 342.84 579.51)"/>
<ellipse cx="341.85" cy="571.26" rx="2.42" ry="1.94" fill="url(#gb)" transform="rotate(85.56 341.85 571.26)"/>
<ellipse cx="347.33" cy="571.91" rx="2.58" ry="2.07" fill="url(#gb)" transform="rotate(176.61 347.33 571.91)"/>
<ellipse cx="338.27" cy="573.03" rx="2.57" ry="2.06" fill="url(#gy)" transform="rotate(125.56 338.27 573.03)"/>
<ellipse cx="350.2" cy="576.54" rx="1.96" ry="1.57" fill="url(#gy)" transform="rotate(177.57 350.2 576.54)"/>
<ellipse cx="343.85" cy="575.79" rx="2.51" ry="2.01" fill="url(#gb)" transform="rotate(102.67 343.85 575.79)"/>
<ellipse cx="345.48" cy="578.65" rx="2.17" ry="1.73" fill="url(#gy)" transform="rotate(165.2 345.48 578.65)"/>
<ellipse cx="344.84" cy="568.93" rx="2.27" ry="1.82" fill="url(#gb)" transform="rotate(88.15 344.84 568.93)"/>
<circle cx="340.4" cy="568.1" r="1.2" fill="#d42020" />
<path d="M329.75,609.3 L327.5,610.6 L325.25,609.3 L325.25,606.7 L327.5,605.4 L329.75,606.7 L329.75,609.3" stroke="#9c9c9c" fill="#e4e4e4" stroke-width="1.0" />
<circle cx="329.75" cy="609.3" r="0.6" fill="#7a7a7a" />
<circle cx="327.5" cy="610.6" r="0.6" fill="#7a7a7a" />
<circle cx="325.25" cy="609.3" r="0.6" fill="#7a7a7a" />
<circle cx="325.25" cy="606.7" r="0.6" fill="#7a7a7a" />
<circle cx="327.5" cy="605.4" r="0.6" fill="#7a7a7a" />
<circle cx="329.75" cy="606.7" r="0.6" fill="#7a7a7a" />
<path d="M335.75,609.3 L333.5,610.6 L331.25,609.3 L331.25,606.7 L333.5,605.4 L335.75,606.7 L335.75,609.3" stroke="#9c9c9c" fill="#e4e4e4" stroke-width="1.0" />
<circle cx="335.75" cy="609.3" r="0.6" fill="#7a7a7a" />
<circle cx="333.5" cy="610.6" r="0.6" fill="#7a7a7a" />
<circle cx="331.25" cy="609.3" r="0.6" fill="#7a7a7a" />
<circle cx="331.25" cy="606.7" r="0.6" fill="#7a7a7a" />
<circle cx="333.5" cy="605.4" r="0.6" fill="#7a7a7a" />
<circle cx="335.75" cy="606.7" r="0.6" fill="#7a7a7a" />
<line x1="324" y1="608" x2="338" y2="608" stroke="#b8b8b8" stroke-width="0.7" />
<line x1="340" y1="607" x2="347" y2="595" stroke="#b8b8b8" stroke-width="0.7" />
<line x1="340" y1="607" x2="347" y2="619" stroke="#b8b8b8" stroke-width="0.7" />
<path d="M345.91,599.1 L344,600.2 L342.09,599.1 L342.09,596.9 L344,595.8 L345.91,596.9 L345.91,599.1" stroke="#9c9c9c" fill="#e4e4e4" stroke-width="1.0" />
<circle cx="345.91" cy="599.1" r="0.6" fill="#7a7a7a" />
<circle cx="344" cy="600.2" r="0.6" fill="#7a7a7a" />
<circle cx="342.09" cy="599.1" r="0.6" fill="#7a7a7a" />
<circle cx="342.09" cy="596.9" r="0.6" fill="#7a7a7a" />
<circle cx="344" cy="595.8" r="0.6" fill="#7a7a7a" />
<circle cx="345.91" cy="596.9" r="0.6" fill="#7a7a7a" />
<path d="M349.91,595.1 L348,596.2 L346.09,595.1 L346.09,592.9 L348,591.8 L349.91,592.9 L349.91,595.1" stroke="#9c9c9c" fill="#e4e4e4" stroke-width="1.0" />
<circle cx="349.91" cy="595.1" r="0.6" fill="#7a7a7a" />
<circle cx="348" cy="596.2" r="0.6" fill="#7a7a7a" />
<circle cx="346.09" cy="595.1" r="0.6" fill="#7a7a7a" />
<circle cx="346.09" cy="592.9" r="0.6" fill="#7a7a7a" />
<circle cx="348" cy="591.8" r="0.6" fill="#7a7a7a" />
<circle cx="349.91" cy="592.9" r="0.6" fill="#7a7a7a" />
<path d="M345.91,618.1 L344,619.2 L342.09,618.1 L342.09,615.9 L344,614.8 L345.91,615.9 L345.91,618.1" stroke="#9c9c9c" fill="#e4e4e4" stroke-width="1.0" />
<circle cx="345.91" cy="618.1" r="0.6" fill="#7a7a7a" />
<circle cx="344" cy="619.2" r="0.6" fill="#7a7a7a" />
<circle cx="342.09" cy="618.1" r="0.6" fill="#7a7a7a" />
<circle cx="342.09" cy="615.9" r="0.6" fill="#7a7a7a" />
<circle cx="344" cy="614.8" r="0.6" fill="#7a7a7a" />
<circle cx="345.91" cy="615.9" r="0.6" fill="#7a7a7a" />
<path d="M349.91,622.1 L348,623.2 L346.09,622.1 L346.09,619.9 L348,618.8 L349.91,619.9 L349.91,622.1" stroke="#9c9c9c" fill="#e4e4e4" stroke-width="1.0" />
<circle cx="349.91" cy="622.1" r="0.6" fill="#7a7a7a" />
<circle cx="348" cy="623.2" r="0.6" fill="#7a7a7a" />
<circle cx="346.09" cy="622.1" r="0.6" fill="#7a7a7a" />
<circle cx="346.09" cy="619.9" r="0.6" fill="#7a7a7a" />
<circle cx="348" cy="618.8" r="0.6" fill="#7a7a7a" />
<circle cx="349.91" cy="619.9" r="0.6" fill="#7a7a7a" />
<ellipse cx="316.7" cy="600.39" rx="2.4" ry="1.92" fill="url(#gb)" transform="rotate(153.3 316.7 600.39)"/>
<ellipse cx="314.96" cy="601.02" rx="2.48" ry="1.98" fill="url(#gb)" transform="rotate(148.27 314.96 601.02)"/>
<ellipse cx="313" cy="597.6" rx="2.36" ry="1.89" fill="url(#gy)" transform="rotate(54.3 313 597.6)"/>
<ellipse cx="319.01" cy="604.65" rx="2.9" ry="2.32" fill="url(#gb)" transform="rotate(171.56 319.01 604.65)"/>
<ellipse cx="322.45" cy="602.06" rx="2.78" ry="2.23" fill="url(#gy)" transform="rotate(211.56 322.45 602.06)"/>
<ellipse cx="314.87" cy="590.23" rx="2.49" ry="1.99" fill="url(#gb)" transform="rotate(107.77 314.87 590.23)"/>
<ellipse cx="311.81" cy="592.19" rx="2.55" ry="2.04" fill="url(#gy)" transform="rotate(147.77 311.81 592.19)"/>
<ellipse cx="315.1" cy="596.75" rx="2.15" ry="1.72" fill="url(#gy)" transform="rotate(120.46 315.1 596.75)"/>
<ellipse cx="315.39" cy="605.78" rx="2.85" ry="2.28" fill="url(#gy)" transform="rotate(144.15 315.39 605.78)"/>
<ellipse cx="310.65" cy="592.79" rx="2.33" ry="1.86" fill="url(#gy)" transform="rotate(47.45 310.65 592.79)"/>
<ellipse cx="320.28" cy="598.97" rx="2.58" ry="2.07" fill="url(#gy)" transform="rotate(193.3 320.28 598.97)"/>
<ellipse cx="310.63" cy="599.04" rx="2.81" ry="2.24" fill="url(#gb)" transform="rotate(14.3 310.63 599.04)"/>
<ellipse cx="313.04" cy="602.81" rx="3.16" ry="2.52" fill="url(#gy)" transform="rotate(188.27 313.04 602.81)"/>
<ellipse cx="317.01" cy="605.28" rx="2.21" ry="1.77" fill="url(#gb)" transform="rotate(104.15 317.01 605.28)"/>
<ellipse cx="317.5" cy="595.41" rx="2.73" ry="2.19" fill="url(#gb)" transform="rotate(80.46 317.5 595.41)"/>
<ellipse cx="307.68" cy="595.15" rx="2.31" ry="1.85" fill="url(#gb)" transform="rotate(7.45 307.68 595.15)"/>
<ellipse cx="312.42" cy="618.64" rx="2.79" ry="2.23" fill="url(#gy)" transform="rotate(126.66 312.42 618.64)"/>
<ellipse cx="321.5" cy="612.12" rx="2.41" ry="1.93" fill="url(#gy)" transform="rotate(66.18 321.5 612.12)"/>
<ellipse cx="318.39" cy="617.57" rx="2.45" ry="1.96" fill="url(#gy)" transform="rotate(76.02 318.39 617.57)"/>
<ellipse cx="313.78" cy="616.48" rx="2.34" ry="1.87" fill="url(#gy)" transform="rotate(57.13 313.78 616.48)"/>
<ellipse cx="308.4" cy="622" rx="2.38" ry="1.9" fill="url(#gy)" transform="rotate(125.66 308.4 622)"/>
<ellipse cx="313.42" cy="620.37" rx="2.96" ry="2.36" fill="url(#gb)" transform="rotate(152.95 313.42 620.37)"/>
<ellipse cx="316.5" cy="616.37" rx="2.36" ry="1.89" fill="url(#gb)" transform="rotate(36.02 316.5 616.37)"/>
<ellipse cx="314.94" cy="624.2" rx="2.32" ry="1.86" fill="url(#gy)" transform="rotate(139.37 314.94 624.2)"/>
<ellipse cx="313.07" cy="623.01" rx="2.28" ry="1.83" fill="url(#gb)" transform="rotate(99.37 313.07 623.01)"/>
<ellipse cx="320.08" cy="615.53" rx="2.33" ry="1.87" fill="url(#gb)" transform="rotate(150.42 320.08 615.53)"/>
<ellipse cx="313.04" cy="610.4" rx="2.72" ry="2.17" fill="url(#gy)" transform="rotate(104.45 313.04 610.4)"/>
<ellipse cx="318.09" cy="608.94" rx="2.78" ry="2.22" fill="url(#gb)" transform="rotate(39.45 318.09 608.94)"/>
<ellipse cx="317.68" cy="612.88" rx="2.61" ry="2.09" fill="url(#gy)" transform="rotate(190.42 317.68 612.88)"/>
<ellipse cx="311.09" cy="615.04" rx="2.24" ry="1.79" fill="url(#gb)" transform="rotate(17.13 311.09 615.04)"/>
<ellipse cx="309.79" cy="622.4" rx="2.91" ry="2.33" fill="url(#gb)" transform="rotate(85.66 309.79 622.4)"/>
<ellipse cx="317.44" cy="621.34" rx="2.55" ry="2.04" fill="url(#gy)" transform="rotate(192.95 317.44 621.34)"/>
<ellipse cx="315" cy="606.74" rx="2.71" ry="2.17" fill="url(#gy)" transform="rotate(79.45 315 606.74)"/>
<ellipse cx="316.06" cy="612.98" rx="2.23" ry="1.78" fill="url(#gb)" transform="rotate(64.45 316.06 612.98)"/>
<ellipse cx="309.92" cy="617.76" rx="2.78" ry="2.22" fill="url(#gb)" transform="rotate(86.66 309.92 617.76)"/>
<ellipse cx="319.52" cy="609.99" rx="2.57" ry="2.05" fill="url(#gb)" transform="rotate(26.18 319.52 609.99)"/>
<circle cx="346" cy="591.5" r="1.1" fill="#1f5bb0" />
<circle cx="341" cy="601" r="1.1" fill="#1f5bb0" />
<circle cx="342" cy="613" r="1.1" fill="#1f5bb0" />
<circle cx="347" cy="619.5" r="1.1" fill="#1f5bb0" />
<circle cx="340.4" cy="607.2" r="1.2" fill="#e07010" />
<path d="M418.6,579.5 L416,581 L413.4,579.5 L413.4,576.5 L416,575 L418.6,576.5 L418.6,579.5" stroke="#9c9c9c" fill="#e4e4e4" stroke-width="1.0" />
<circle cx="418.6" cy="579.5" r="0.6" fill="#7a7a7a" />
<circle cx="416" cy="581" r="0.6" fill="#7a7a7a" />
<circle cx="413.4" cy="579.5" r="0.6" fill="#7a7a7a" />
<circle cx="413.4" cy="576.5" r="0.6" fill="#7a7a7a" />
<circle cx="416" cy="575" r="0.6" fill="#7a7a7a" />
<circle cx="418.6" cy="576.5" r="0.6" fill="#7a7a7a" />
<path d="M402.08,559.2 L400,560.4 L397.92,559.2 L397.92,556.8 L400,555.6 L402.08,556.8 L402.08,559.2" stroke="#9c9c9c" fill="#e4e4e4" stroke-width="1.0" />
<circle cx="402.08" cy="559.2" r="0.6" fill="#7a7a7a" />
<circle cx="400" cy="560.4" r="0.6" fill="#7a7a7a" />
<circle cx="397.92" cy="559.2" r="0.6" fill="#7a7a7a" />
<circle cx="397.92" cy="556.8" r="0.6" fill="#7a7a7a" />
<circle cx="400" cy="555.6" r="0.6" fill="#7a7a7a" />
<circle cx="402.08" cy="556.8" r="0.6" fill="#7a7a7a" />
<path d="M416.08,559.2 L414,560.4 L411.92,559.2 L411.92,556.8 L414,555.6 L416.08,556.8 L416.08,559.2" stroke="#9c9c9c" fill="#e4e4e4" stroke-width="1.0" />
<circle cx="416.08" cy="559.2" r="0.6" fill="#7a7a7a" />
<circle cx="414" cy="560.4" r="0.6" fill="#7a7a7a" />
<circle cx="411.92" cy="559.2" r="0.6" fill="#7a7a7a" />
<circle cx="411.92" cy="556.8" r="0.6" fill="#7a7a7a" />
<circle cx="414" cy="555.6" r="0.6" fill="#7a7a7a" />
<circle cx="416.08" cy="556.8" r="0.6" fill="#7a7a7a" />
<line x1="398" y1="568" x2="412" y2="566" stroke="#b8b8b8" stroke-width="0.7" />
<line x1="412" y1="566" x2="416" y2="575" stroke="#b8b8b8" stroke-width="0.7" />
<line x1="412" y1="566" x2="414" y2="556" stroke="#b8b8b8" stroke-width="0.7" />
<ellipse cx="384.36" cy="567.63" rx="2.42" ry="1.93" fill="url(#gy)" transform="rotate(178.14 384.36 567.63)"/>
<ellipse cx="393.29" cy="582.73" rx="2.21" ry="1.77" fill="url(#gy)" transform="rotate(211.37 393.29 582.73)"/>
<ellipse cx="389.36" cy="571" rx="2.42" ry="1.94" fill="url(#gy)" transform="rotate(168.53 389.36 571)"/>
<ellipse cx="395.89" cy="571.04" rx="2.22" ry="1.78" fill="url(#gy)" transform="rotate(83.82 395.89 571.04)"/>
<ellipse cx="386.72" cy="574.62" rx="2.64" ry="2.11" fill="url(#gy)" transform="rotate(181.25 386.72 574.62)"/>
<ellipse cx="394.9" cy="577.15" rx="2.23" ry="1.78" fill="url(#gb)" transform="rotate(0.44 394.9 577.15)"/>
<ellipse cx="385.18" cy="569.76" rx="2.21" ry="1.77" fill="url(#gb)" transform="rotate(12.92 385.18 569.76)"/>
<ellipse cx="390.84" cy="584.66" rx="2.68" ry="2.14" fill="url(#gb)" transform="rotate(171.37 390.84 584.66)"/>
<ellipse cx="391.43" cy="577.01" rx="2.27" ry="1.82" fill="url(#gb)" transform="rotate(157.11 391.43 577.01)"/>
<ellipse cx="393.5" cy="575.09" rx="2.92" ry="2.33" fill="url(#gb)" transform="rotate(121.44 393.5 575.09)"/>
<ellipse cx="388.01" cy="577.11" rx="2.44" ry="1.95" fill="url(#gy)" transform="rotate(197.11 388.01 577.11)"/>
<ellipse cx="388.89" cy="580.4" rx="2.89" ry="2.31" fill="url(#gb)" transform="rotate(150.88 388.89 580.4)"/>
<ellipse cx="388.02" cy="566.48" rx="2.96" ry="2.37" fill="url(#gb)" transform="rotate(138.14 388.02 566.48)"/>
<ellipse cx="397.34" cy="577.15" rx="2.51" ry="2.01" fill="url(#gy)" transform="rotate(40.44 397.34 577.15)"/>
<ellipse cx="393.63" cy="581.1" rx="2.65" ry="2.12" fill="url(#gb)" transform="rotate(2.65 393.63 581.1)"/>
<ellipse cx="390.39" cy="572.88" rx="2.56" ry="2.05" fill="url(#gb)" transform="rotate(141.25 390.39 572.88)"/>
<ellipse cx="399.34" cy="580.19" rx="2.85" ry="2.28" fill="url(#gb)" transform="rotate(78.62 399.34 580.19)"/>
<ellipse cx="393.84" cy="563.89" rx="2.61" ry="2.09" fill="url(#gb)" transform="rotate(151.47 393.84 563.89)"/>
<ellipse cx="389.16" cy="582.5" rx="2" ry="1.6" fill="url(#gy)" transform="rotate(42.65 389.16 582.5)"/>
<ellipse cx="395.6" cy="569.6" rx="2.51" ry="2" fill="url(#gy)" transform="rotate(58.26 395.6 569.6)"/>
<ellipse cx="388.79" cy="568.86" rx="2.73" ry="2.18" fill="url(#gy)" transform="rotate(52.92 388.79 568.86)"/>
<ellipse cx="389.55" cy="565.34" rx="2.27" ry="1.81" fill="url(#gy)" transform="rotate(191.47 389.55 565.34)"/>
<ellipse cx="392.33" cy="571.89" rx="2.65" ry="2.12" fill="url(#gb)" transform="rotate(43.82 392.33 571.89)"/>
<ellipse cx="396.62" cy="583.2" rx="2.51" ry="2.01" fill="url(#gy)" transform="rotate(182.08 396.62 583.2)"/>
<ellipse cx="397.01" cy="574.33" rx="2.97" ry="2.37" fill="url(#gy)" transform="rotate(161.44 397.01 574.33)"/>
<ellipse cx="386.06" cy="571.72" rx="2.66" ry="2.13" fill="url(#gb)" transform="rotate(128.53 386.06 571.72)"/>
<ellipse cx="392.61" cy="579.54" rx="2.48" ry="1.99" fill="url(#gy)" transform="rotate(190.88 392.61 579.54)"/>
<ellipse cx="395.18" cy="580.59" rx="2.65" ry="2.12" fill="url(#gy)" transform="rotate(118.62 395.18 580.59)"/>
<ellipse cx="392.01" cy="571.59" rx="2.36" ry="1.89" fill="url(#gb)" transform="rotate(18.26 392.01 571.59)"/>
<ellipse cx="399.21" cy="581.29" rx="2.51" ry="2" fill="url(#gb)" transform="rotate(142.08 399.21 581.29)"/>
<ellipse cx="391.6" cy="569.17" rx="2.78" ry="2.22" fill="url(#gy)" transform="rotate(151.83 391.6 569.17)"/>
<ellipse cx="394.36" cy="567.36" rx="2.93" ry="2.34" fill="url(#gb)" transform="rotate(111.83 394.36 567.36)"/>
<ellipse cx="400.64" cy="564.24" rx="1.3" ry="1.04" fill="url(#gy)" transform="rotate(102.89 400.64 564.24)"/>
<ellipse cx="409.38" cy="565.55" rx="1.72" ry="1.38" fill="url(#gy)" transform="rotate(44.8 409.38 565.55)"/>
<ellipse cx="397.42" cy="561.57" rx="1.83" ry="1.47" fill="url(#gy)" transform="rotate(204.36 397.42 561.57)"/>
<ellipse cx="406.07" cy="564" rx="1.41" ry="1.13" fill="url(#gy)" transform="rotate(213.45 406.07 564)"/>
<ellipse cx="404.23" cy="563.76" rx="1.52" ry="1.22" fill="url(#gy)" transform="rotate(168.78 404.23 563.76)"/>
<ellipse cx="406.3" cy="566.47" rx="1.41" ry="1.13" fill="url(#gb)" transform="rotate(173.45 406.3 566.47)"/>
<ellipse cx="408.18" cy="566.32" rx="1.88" ry="1.51" fill="url(#gb)" transform="rotate(4.8 408.18 566.32)"/>
<ellipse cx="402.75" cy="565.24" rx="1.55" ry="1.24" fill="url(#gb)" transform="rotate(128.78 402.75 565.24)"/>
<ellipse cx="400.72" cy="563.22" rx="1.46" ry="1.17" fill="url(#gb)" transform="rotate(62.89 400.72 563.22)"/>
<ellipse cx="397.8" cy="564.22" rx="1.79" ry="1.43" fill="url(#gb)" transform="rotate(164.36 397.8 564.22)"/>
<circle cx="412" cy="576" r="1" fill="#1f5bb0" />
<circle cx="418" cy="581" r="1" fill="#1f5bb0" />
<circle cx="414" cy="570" r="1" fill="#1f5bb0" />
<circle cx="402" cy="567" r="1.1" fill="#d42020" />
<circle cx="410" cy="566" r="1.1" fill="#e08010" />
<circle cx="396" cy="566" r="1" fill="#d42020" />
<path d="M418.6,618 L416,619.5 L413.4,618 L413.4,615 L416,613.5 L418.6,615 L418.6,618" stroke="#9c9c9c" fill="#e4e4e4" stroke-width="1.0" />
<circle cx="418.6" cy="618" r="0.6" fill="#7a7a7a" />
<circle cx="416" cy="619.5" r="0.6" fill="#7a7a7a" />
<circle cx="413.4" cy="618" r="0.6" fill="#7a7a7a" />
<circle cx="413.4" cy="615" r="0.6" fill="#7a7a7a" />
<circle cx="416" cy="613.5" r="0.6" fill="#7a7a7a" />
<circle cx="418.6" cy="615" r="0.6" fill="#7a7a7a" />
<path d="M402.08,597.7 L400,598.9 L397.92,597.7 L397.92,595.3 L400,594.1 L402.08,595.3 L402.08,597.7" stroke="#9c9c9c" fill="#e4e4e4" stroke-width="1.0" />
<circle cx="402.08" cy="597.7" r="0.6" fill="#7a7a7a" />
<circle cx="400" cy="598.9" r="0.6" fill="#7a7a7a" />
<circle cx="397.92" cy="597.7" r="0.6" fill="#7a7a7a" />
<circle cx="397.92" cy="595.3" r="0.6" fill="#7a7a7a" />
<circle cx="400" cy="594.1" r="0.6" fill="#7a7a7a" />
<circle cx="402.08" cy="595.3" r="0.6" fill="#7a7a7a" />
<path d="M416.08,597.7 L414,598.9 L411.92,597.7 L411.92,595.3 L414,594.1 L416.08,595.3 L416.08,597.7" stroke="#9c9c9c" fill="#e4e4e4" stroke-width="1.0" />
<circle cx="416.08" cy="597.7" r="0.6" fill="#7a7a7a" />
<circle cx="414" cy="598.9" r="0.6" fill="#7a7a7a" />
<circle cx="411.92" cy="597.7" r="0.6" fill="#7a7a7a" />
<circle cx="411.92" cy="595.3" r="0.6" fill="#7a7a7a" />
<circle cx="414" cy="594.1" r="0.6" fill="#7a7a7a" />
<circle cx="416.08" cy="595.3" r="0.6" fill="#7a7a7a" />
<line x1="398" y1="606.5" x2="412" y2="604.5" stroke="#b8b8b8" stroke-width="0.7" />
<line x1="412" y1="604.5" x2="416" y2="613.5" stroke="#b8b8b8" stroke-width="0.7" />
<line x1="412" y1="604.5" x2="414" y2="594.5" stroke="#b8b8b8" stroke-width="0.7" />
<ellipse cx="389.87" cy="620.72" rx="2.55" ry="2.04" fill="url(#gy)" transform="rotate(168.9 389.87 620.72)"/>
<ellipse cx="391.31" cy="616.56" rx="2.86" ry="2.29" fill="url(#gy)" transform="rotate(210.1 391.31 616.56)"/>
<ellipse cx="397.01" cy="614.6" rx="1.99" ry="1.6" fill="url(#gy)" transform="rotate(63.94 397.01 614.6)"/>
<ellipse cx="386.48" cy="612.12" rx="3" ry="2.4" fill="url(#gy)" transform="rotate(162.68 386.48 612.12)"/>
<ellipse cx="392.26" cy="609.87" rx="2.16" ry="1.73" fill="url(#gy)" transform="rotate(84.16 392.26 609.87)"/>
<ellipse cx="387.81" cy="614.96" rx="2.27" ry="1.82" fill="url(#gy)" transform="rotate(128.43 387.81 614.96)"/>
<ellipse cx="393.54" cy="621.5" rx="3.14" ry="2.51" fill="url(#gy)" transform="rotate(183.42 393.54 621.5)"/>
<ellipse cx="391.04" cy="614.48" rx="2.28" ry="1.83" fill="url(#gb)" transform="rotate(88.43 391.04 614.48)"/>
<ellipse cx="385.77" cy="609.26" rx="2.4" ry="1.92" fill="url(#gb)" transform="rotate(106.36 385.77 609.26)"/>
<ellipse cx="390.62" cy="612.29" rx="2.63" ry="2.1" fill="url(#gy)" transform="rotate(182.12 390.62 612.29)"/>
<ellipse cx="393.54" cy="602.62" rx="2.33" ry="1.86" fill="url(#gy)" transform="rotate(149.1 393.54 602.62)"/>
<ellipse cx="394.03" cy="613.85" rx="2.4" ry="1.92" fill="url(#gb)" transform="rotate(40.37 394.03 613.85)"/>
<ellipse cx="387.63" cy="605.03" rx="2.73" ry="2.19" fill="url(#gy)" transform="rotate(188.03 387.63 605.03)"/>
<ellipse cx="395.83" cy="620.77" rx="2.55" ry="2.04" fill="url(#gy)" transform="rotate(172.77 395.83 620.77)"/>
<ellipse cx="391.27" cy="606.77" rx="2.26" ry="1.81" fill="url(#gb)" transform="rotate(104.38 391.27 606.77)"/>
<ellipse cx="389.52" cy="618.49" rx="2.6" ry="2.08" fill="url(#gb)" transform="rotate(170.1 389.52 618.49)"/>
<ellipse cx="392.3" cy="611.01" rx="2.25" ry="1.8" fill="url(#gy)" transform="rotate(145.33 392.3 611.01)"/>
<ellipse cx="388.83" cy="608.15" rx="2.51" ry="2.01" fill="url(#gy)" transform="rotate(146.36 388.83 608.15)"/>
<ellipse cx="389.88" cy="610.27" rx="2.26" ry="1.81" fill="url(#gb)" transform="rotate(122.68 389.88 610.27)"/>
<ellipse cx="386.63" cy="612.61" rx="2.97" ry="2.37" fill="url(#gb)" transform="rotate(142.12 386.63 612.61)"/>
<ellipse cx="394.74" cy="615.33" rx="2.95" ry="2.36" fill="url(#gb)" transform="rotate(23.94 394.74 615.33)"/>
<ellipse cx="392.91" cy="619.86" rx="2.56" ry="2.05" fill="url(#gb)" transform="rotate(128.9 392.91 619.86)"/>
<ellipse cx="398.49" cy="617.8" rx="2.16" ry="1.73" fill="url(#gy)" transform="rotate(115.63 398.49 617.8)"/>
<ellipse cx="399.35" cy="618.86" rx="2.22" ry="1.78" fill="url(#gb)" transform="rotate(132.77 399.35 618.86)"/>
<ellipse cx="390.43" cy="622.43" rx="2.37" ry="1.9" fill="url(#gb)" transform="rotate(143.42 390.43 622.43)"/>
<ellipse cx="384.94" cy="606.62" rx="2.56" ry="2.05" fill="url(#gb)" transform="rotate(148.03 384.94 606.62)"/>
<ellipse cx="394.59" cy="606.47" rx="2.73" ry="2.19" fill="url(#gy)" transform="rotate(144.38 394.59 606.47)"/>
<ellipse cx="396.75" cy="613.33" rx="2.61" ry="2.09" fill="url(#gy)" transform="rotate(80.37 396.75 613.33)"/>
<ellipse cx="395.38" cy="608.42" rx="2.89" ry="2.31" fill="url(#gb)" transform="rotate(44.16 395.38 608.42)"/>
<ellipse cx="390.12" cy="604.41" rx="2.32" ry="1.86" fill="url(#gb)" transform="rotate(109.1 390.12 604.41)"/>
<ellipse cx="396.44" cy="610.39" rx="2.47" ry="1.98" fill="url(#gb)" transform="rotate(105.33 396.44 610.39)"/>
<ellipse cx="395.87" cy="619.53" rx="2.21" ry="1.77" fill="url(#gb)" transform="rotate(75.63 395.87 619.53)"/>
<ellipse cx="402.65" cy="603.87" rx="1.35" ry="1.08" fill="url(#gy)" transform="rotate(97.09 402.65 603.87)"/>
<ellipse cx="409.41" cy="603.51" rx="1.58" ry="1.27" fill="url(#gy)" transform="rotate(140.67 409.41 603.51)"/>
<ellipse cx="400.2" cy="601.21" rx="1.96" ry="1.57" fill="url(#gy)" transform="rotate(120.25 400.2 601.21)"/>
<ellipse cx="409.51" cy="605.74" rx="1.7" ry="1.36" fill="url(#gb)" transform="rotate(100.67 409.51 605.74)"/>
<ellipse cx="400.32" cy="603.02" rx="1.71" ry="1.37" fill="url(#gb)" transform="rotate(80.25 400.32 603.02)"/>
<ellipse cx="406.09" cy="605.06" rx="1.61" ry="1.29" fill="url(#gy)" transform="rotate(139.81 406.09 605.06)"/>
<ellipse cx="403.61" cy="601.93" rx="1.68" ry="1.35" fill="url(#gb)" transform="rotate(57.09 403.61 601.93)"/>
<ellipse cx="398.11" cy="600.2" rx="1.72" ry="1.37" fill="url(#gb)" transform="rotate(147.36 398.11 600.2)"/>
<ellipse cx="406.31" cy="602.41" rx="1.85" ry="1.48" fill="url(#gb)" transform="rotate(99.81 406.31 602.41)"/>
<ellipse cx="397.89" cy="602.8" rx="1.35" ry="1.08" fill="url(#gy)" transform="rotate(187.36 397.89 602.8)"/>
<circle cx="412" cy="614.5" r="1" fill="#1f5bb0" />
<circle cx="418" cy="619.5" r="1" fill="#1f5bb0" />
<circle cx="414" cy="608.5" r="1" fill="#1f5bb0" />
<circle cx="402" cy="605.5" r="1.1" fill="#d42020" />
<circle cx="410" cy="604.5" r="1.1" fill="#e08010" />
<circle cx="396" cy="604.5" r="1" fill="#d42020" />
<text x="458.3" y="423" font-size="13.5" text-anchor="start" fill="#231f20" font-weight="bold">h</text>
<line x1="505.1" y1="423" x2="505.1" y2="629" stroke="#222" stroke-width="1" />
<path d="M505.1,419 L502.9,423.5 L507.3,423.5 Z" stroke="none" fill="#222" stroke-width="1" />
<path d="M505.1,632.9 L502.9,628.4 L507.3,628.4 Z" stroke="none" fill="#222" stroke-width="1" />
<line x1="502.6" y1="429.5" x2="505.1" y2="429.5" stroke="#222" stroke-width="0.9" />
<text x="500" y="433.3" font-size="10.6" text-anchor="end" fill="#231f20" >0.8</text>
<line x1="503.6" y1="441.6" x2="505.1" y2="441.6" stroke="#222" stroke-width="0.8" />
<line x1="502.6" y1="453.7" x2="505.1" y2="453.7" stroke="#222" stroke-width="0.9" />
<text x="500" y="457.5" font-size="10.6" text-anchor="end" fill="#231f20" >0.6</text>
<line x1="503.6" y1="465.8" x2="505.1" y2="465.8" stroke="#222" stroke-width="0.8" />
<line x1="502.6" y1="477.9" x2="505.1" y2="477.9" stroke="#222" stroke-width="0.9" />
<text x="500" y="481.7" font-size="10.6" text-anchor="end" fill="#231f20" >0.4</text>
<line x1="503.6" y1="490" x2="505.1" y2="490" stroke="#222" stroke-width="0.8" />
<line x1="502.6" y1="502.1" x2="505.1" y2="502.1" stroke="#222" stroke-width="0.9" />
<text x="500" y="505.9" font-size="10.6" text-anchor="end" fill="#231f20" >0.2</text>
<line x1="503.6" y1="514.2" x2="505.1" y2="514.2" stroke="#222" stroke-width="0.8" />
<line x1="502.6" y1="526.3" x2="505.1" y2="526.3" stroke="#222" stroke-width="0.9" />
<text x="500" y="530.1" font-size="10.6" text-anchor="end" fill="#231f20" >0.0</text>
<line x1="503.6" y1="538.4" x2="505.1" y2="538.4" stroke="#222" stroke-width="0.8" />
<line x1="502.6" y1="550.5" x2="505.1" y2="550.5" stroke="#222" stroke-width="0.9" />
<text x="500" y="554.3" font-size="10.6" text-anchor="end" fill="#231f20" >0.2</text>
<line x1="503.6" y1="562.6" x2="505.1" y2="562.6" stroke="#222" stroke-width="0.8" />
<line x1="502.6" y1="574.7" x2="505.1" y2="574.7" stroke="#222" stroke-width="0.9" />
<text x="500" y="578.5" font-size="10.6" text-anchor="end" fill="#231f20" >0.4</text>
<line x1="503.6" y1="586.8" x2="505.1" y2="586.8" stroke="#222" stroke-width="0.8" />
<line x1="502.6" y1="598.9" x2="505.1" y2="598.9" stroke="#222" stroke-width="0.9" />
<text x="500" y="602.7" font-size="10.6" text-anchor="end" fill="#231f20" >0.6</text>
<line x1="503.6" y1="611" x2="505.1" y2="611" stroke="#222" stroke-width="0.8" />
<line x1="502.6" y1="623.1" x2="505.1" y2="623.1" stroke="#222" stroke-width="0.9" />
<text x="500" y="626.9" font-size="10.6" text-anchor="end" fill="#231f20" >0.8</text>
<rect x="514.3" y="479.3" width="19.6" height="93.7" fill="#fff" stroke="none" stroke-width="1" />
<rect x="514.3" y="479.3" width="19.6" height="93.7" fill="url(#gh0)" stroke="#555" stroke-width="0.8" />
<rect x="552" y="476.1" width="19.6" height="98.4" fill="#fff" stroke="none" stroke-width="1" />
<rect x="552" y="476.1" width="19.6" height="98.4" fill="url(#gh1)" stroke="#555" stroke-width="0.8" />
<rect x="589.5" y="460" width="20.1" height="129.3" fill="#fff" stroke="none" stroke-width="1" />
<rect x="589.5" y="460" width="20.1" height="129.3" fill="url(#gh2)" stroke="#555" stroke-width="0.8" />
<rect x="627.2" y="440.4" width="19.4" height="169.4" fill="#fff" stroke="none" stroke-width="1" />
<rect x="627.2" y="440.4" width="19.4" height="169.4" fill="url(#gh3)" stroke="#555" stroke-width="0.8" />
<rect x="665" y="438.1" width="19.3" height="174" fill="#fff" stroke="none" stroke-width="1" />
<rect x="665" y="438.1" width="19.3" height="174" fill="url(#gh4)" stroke="#555" stroke-width="0.8" />
<line x1="505.1" y1="526.3" x2="685" y2="526.3" stroke="#333" stroke-width="0.9" />
<text transform="translate(527.8,566.6) rotate(-90)" font-size="10.6" text-anchor="start" fill="#fff" >CPND@TMPyPB</text>
<text transform="translate(565.5,566.6) rotate(-90)" font-size="10.6" text-anchor="start" fill="#fff" >CPND@T2T</text>
<text transform="translate(603.25,566.6) rotate(-90)" font-size="10.6" text-anchor="start" fill="#fff" >CPND@PPF</text>
<text transform="translate(640.6,566.6) rotate(-90)" font-size="10.6" text-anchor="start" fill="#fff" >CPND@TSPO1</text>
<text transform="translate(678.35,566.6) rotate(-90)" font-size="10.6" text-anchor="start" fill="#fff" >CPND@DPEPO</text>
<text transform="translate(469.4,478.8) rotate(-90)" font-size="10.6" text-anchor="middle" fill="#231f20" >TL-estimation</text>
<text transform="translate(480.8,478.8) rotate(-90)" font-size="10.6" text-anchor="middle" fill="#231f20" >trap depth (eV)</text>
<text transform="translate(469.4,574.4) rotate(-90)" font-size="10.6" text-anchor="middle" fill="#231f20" >DFT-calculated</text>
<text transform="translate(480.8,574.4) rotate(-90)" font-size="10.6" text-anchor="middle" fill="#231f20" >trap depth (eV)</text>
</svg></body></html>
